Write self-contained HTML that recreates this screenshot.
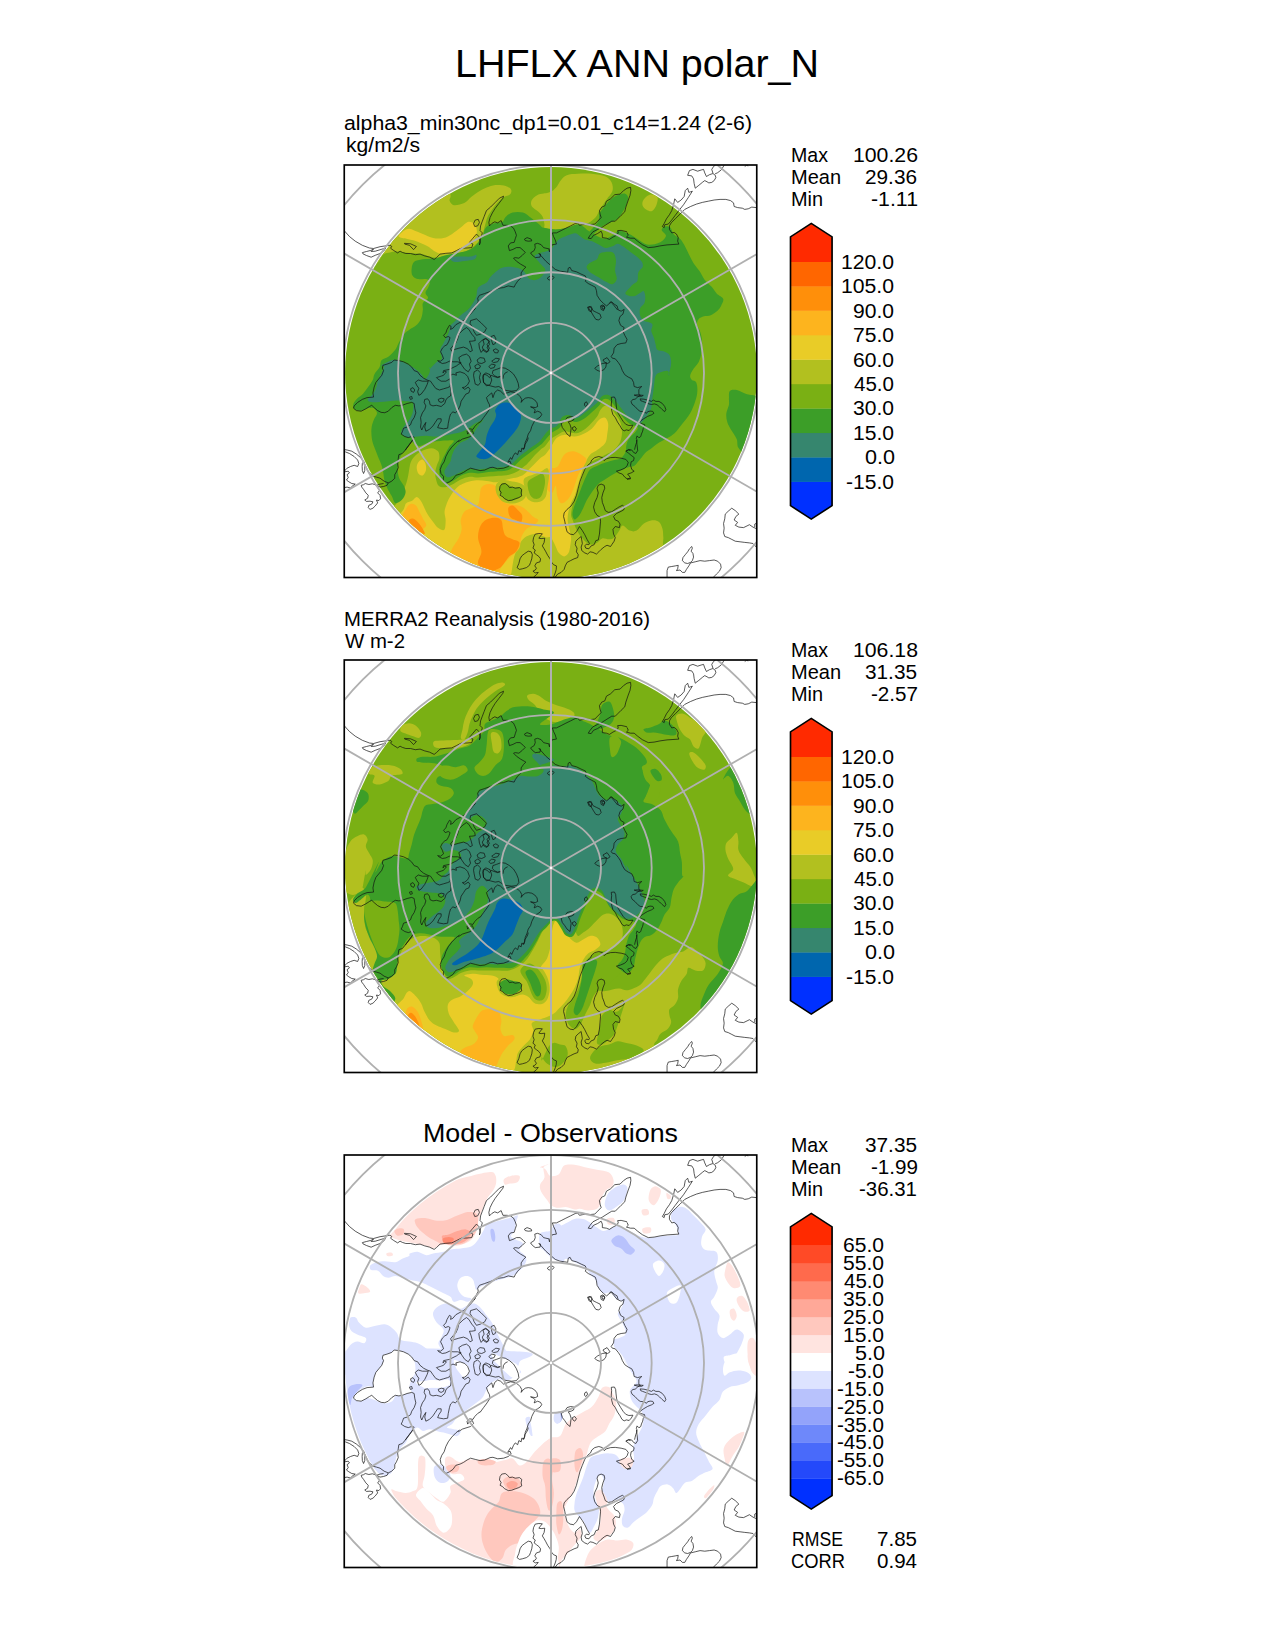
<!DOCTYPE html>
<html><head><meta charset="utf-8"><title>LHFLX ANN polar_N</title>
<style>html,body{margin:0;padding:0;background:#fff}svg{display:block}text{font-family:"Liberation Sans",sans-serif;fill:#000}</style></head><body>
<svg width="1275" height="1650" viewBox="0 0 1275 1650">
<rect width="1275" height="1650" fill="#fff"/>
<defs>
<clipPath id="sq"><rect x="0" y="0" width="412.50" height="412.50"/></clipPath>
<clipPath id="ci"><circle cx="206.75" cy="207.90" r="205.90"/></clipPath>
<g id="grid" fill="none" stroke="#b0b0b0" stroke-width="1.85"><circle cx="206.75" cy="207.90" r="49.96"/><circle cx="206.75" cy="207.90" r="100.68"/><circle cx="206.75" cy="207.90" r="153.00"/><circle cx="206.75" cy="207.90" r="207.83"/><circle cx="206.75" cy="207.90" r="266.27"/><path d="M-70.38 47.90L483.88 367.90" stroke-width="1.8"/><path d="M-70.38 367.90L483.88 47.90" stroke-width="1.8"/><path d="M206.75 -5V420" stroke-width="2"/></g>
<g id="coast" fill="none" stroke="#111" stroke-width="0.7" stroke-linejoin="round"><path d="M-0.1 65.6L5.2 71.5L11.0 76.2L18.1 80.3L25.2 83.0L29.3 83.5L35.8 81.7L40.5 81.0L45.8 80.2L47.5 81.5L46.3 83.2L49.3 85.4L53.4 87.9L55.8 86.2L58.1 87.4L61.6 88.5L66.3 88.5L71.0 89.7L75.8 89.1L80.5 90.9L85.2 92.1L89.9 94.4L92.2 92.6L95.8 89.1L101.6 88.3L107.5 87.9L112.2 85.6L116.9 83.2L122.8 83.0L127.5 82.6L128.7 79.1L125.2 77.4L128.7 73.2L132.2 69.1L134.6 71.5L136.0 77.4L135.2 79.9L136.5 72.6L138.1 67.9L135.8 65.6L136.3 60.9L138.1 56.2L139.9 51.5M18.1 87.6L22.2 86.5L26.6 85.4L29.3 84.1L26.9 86.5L31.0 86.2L36.9 84.4L41.6 83.0L39.3 86.2L35.8 88.5L31.0 90.3L26.9 92.2L22.2 90.5L18.7 88.8ZM60.2 78.3L66.3 78.8L72.2 81.5L69.3 84.6L65.2 80.3L60.5 79.1ZM131.0 55.0L134.0 54.4L135.2 57.4L133.4 60.9L130.5 61.5L129.3 58.5ZM139.9 51.5L142.2 45.6L146.3 42.1L151.0 37.4L155.2 33.2L159.3 31.2L158.7 33.2L154.6 38.5L151.0 43.2L148.1 47.9L145.8 52.6L144.6 57.4L145.2 60.9L147.5 58.5L150.5 56.8L153.4 57.9L156.9 55.6L158.7 60.3L162.8 60.3L166.3 60.9L169.3 63.2L171.0 66.8L172.2 70.3L171.0 73.8L169.9 77.4L166.3 77.9L164.0 80.9L165.2 85.6L168.7 84.4L172.2 82.6L175.8 82.6L179.3 85.6L181.0 87.4L178.1 90.3L174.6 93.2L171.0 92.6L169.3 93.2L172.2 96.2L176.3 99.1L181.6 102.1L179.3 104.4L176.9 107.9L176.9 112.6L173.4 116.2L171.0 119.7L169.9 122.1L164.0 120.9L159.3 122.6L154.6 123.2L149.9 125.0L145.2 126.8L140.5 128.5L135.2 130.3L133.4 133.2L134.0 136.2L132.2 139.7L131.0 143.2L129.9 145.0M180.2 74.1L182.8 72.6L186.9 74.1L187.5 75.9L184.0 76.2L181.0 75.6ZM205.2 86.8L204.6 83.8L201.6 83.2L199.3 82.6L196.9 79.7L193.4 78.3L190.5 79.1L191.0 82.6L189.9 85.6L186.3 87.9L188.1 90.3L191.0 92.6L195.8 92.1L196.3 89.1L194.6 88.5L196.9 90.9L201.6 96.2L206.3 100.3L211.0 104.4L215.8 106.2L220.5 106.8L223.4 107.4L224.0 103.2L225.8 102.3L227.5 105.6L232.2 106.8L236.9 109.1L241.0 110.9L242.2 113.8L241.0 116.2L244.0 118.5L247.5 120.3L251.0 122.1L252.2 125.6L252.8 130.3L255.8 135.0L259.3 138.5L262.2 140.9L264.0 139.7L266.3 136.8L268.7 139.1L271.0 142.1L273.4 145.0M205.2 86.8L206.1 83.2L208.1 79.7L212.2 79.1L211.0 75.0L209.3 71.5L208.1 67.9L212.2 67.9L216.9 65.6L221.6 63.2L226.3 60.9L231.0 58.5L233.4 57.9L235.2 60.3L238.1 59.7L241.6 59.1L246.3 59.5L250.5 59.1L253.4 56.2L256.9 52.6L255.8 49.1L255.2 45.6L257.5 42.1L260.5 40.9L262.2 36.2L266.3 33.8L270.5 29.7L275.8 29.1L279.3 25.6L282.8 23.2L286.3 22.3L286.6 25.6L285.8 30.3L284.0 35.0L281.6 42.1L280.5 46.8L276.9 50.3L273.4 53.8L271.0 56.2L267.5 56.2L262.8 59.1L258.1 62.1L253.4 64.4L248.7 66.8L245.8 70.3L244.0 73.2L246.9 73.6L249.3 70.3L253.4 68.5L256.9 66.2L258.1 69.1L258.1 72.6L262.2 73.2L265.2 74.4L268.7 72.1L272.2 70.3L274.0 67.9L273.4 65.6L276.9 65.4L282.8 66.8M203.0 113.2L205.2 111.5L208.7 111.2L209.9 112.6L207.5 114.8L204.6 115.0ZM243.4 142.1L245.8 141.5L247.5 143.8L246.9 146.8L244.6 145.6ZM256.3 140.9L258.7 139.9L260.5 142.6L259.3 145.6L256.9 144.4ZM282.8 67.4L284.0 70.3L282.2 72.1L286.3 73.2L289.9 73.2L293.4 76.2L298.1 79.7L304.0 82.6L309.9 82.1L315.8 80.9L322.8 79.9L328.7 79.5L334.6 79.1L333.4 76.2L334.0 72.6L332.2 69.1L329.9 67.4L327.5 67.9L325.2 64.4L325.2 60.9L326.9 57.9L331.0 53.8L335.8 49.1L340.5 44.4L346.3 41.5L352.2 39.1L358.1 37.4L364.0 36.2L369.9 35.0L375.8 34.4L381.6 34.4L386.3 35.6L389.3 37.9L389.9 41.5L393.4 42.6L398.1 43.2L400.5 44.4L404.0 43.8L407.5 42.1L412.2 42.6M318.1 61.5L319.9 62.6L320.5 59.7L324.0 59.1L327.5 55.0L331.0 50.3L334.6 45.6L339.3 39.7L344.0 32.6L348.1 26.2L346.3 26.8L344.6 27.4L343.4 23.2L341.0 25.6L339.9 31.5L336.9 35.0L333.4 37.4L330.5 33.8L329.3 39.7L327.5 45.6L325.2 49.7L322.2 53.8L319.9 58.5ZM343.4 10.3L345.2 5.6L348.7 4.4L353.4 6.2L356.9 5.0L359.3 4.4L360.5 7.9L362.2 11.5L365.2 9.7L368.7 8.5L371.0 10.3L371.6 12.6L369.9 15.6L367.5 17.4L364.6 17.9L362.8 16.8L360.5 15.6L358.1 17.4L354.6 20.3L351.0 23.2L349.9 18.5L349.3 13.8L347.5 10.9ZM368.7 8.2L367.5 4.4L369.3 1.5L371.6 -0.3M379.9 0.3L376.9 5.0L373.4 7.7L370.8 8.9M400.5 1.5L402.2 0.3L404.0 0.9M49.9 195.0L47.5 197.4L42.8 199.1L38.7 200.3L38.1 203.2L39.3 205.6L37.5 210.3L34.6 213.8L31.6 217.4L29.9 222.1L28.7 227.9L29.3 232.1L22.8 232.6L18.1 234.4L13.4 237.4L9.9 240.9L9.3 243.2L12.2 245.6L16.9 246.2L21.6 243.8L25.2 241.5L27.5 240.3L29.9 242.6L33.4 245.6L36.9 247.4L40.5 247.7L44.0 246.2L47.5 242.6L51.0 240.3L54.6 240.9L58.1 240.3L62.8 238.5L67.5 237.4L69.9 238.5L70.5 243.2L71.6 247.9L69.9 252.6L67.5 256.2L66.3 259.7L62.8 262.1L59.3 263.2L58.1 266.8L56.9 269.1L60.5 271.5L64.0 272.6L67.5 271.5L69.9 272.1L67.5 276.2L64.0 280.9L61.0 285.0M49.9 195.0L54.6 195.6L59.3 196.8L64.0 199.1L67.5 202.1L69.9 205.6L73.4 206.8L75.8 210.3L79.3 213.2L82.8 215.0L86.3 216.2L88.7 219.7L91.6 223.5L95.2 225.0L99.3 223.8L103.4 222.6L105.8 221.5L106.3 217.4L105.8 213.8L101.6 216.2L96.9 216.2L93.4 213.8L92.2 212.6L95.8 211.5L99.3 210.3L102.2 206.8L100.5 206.2L98.7 207.9L99.3 205.6L105.2 204.4L108.7 202.6L112.2 200.9L114.6 199.1L116.9 197.9L113.4 196.8L108.7 196.8L105.2 196.2L101.6 197.9L98.1 198.5L94.6 196.8L93.4 195.6L96.3 196.2L99.3 193.8L98.1 190.3L96.3 186.8L98.1 183.2L100.5 180.9L102.8 179.7L104.6 176.2L105.8 172.6L104.0 171.5L101.0 172.6L99.3 170.3L101.6 167.9L102.8 164.4L105.2 160.3L106.9 161.5L106.3 164.4L108.7 163.2L111.6 159.7L115.8 157.4L119.3 155.6L122.8 152.6L126.3 149.1L129.3 145.6L132.2 140.9L135.2 137.4L136.9 135.0M71.0 217.4L74.0 215.0L78.1 216.2L84.0 216.2L82.8 219.7L80.5 224.4L76.9 229.1L74.6 230.3L73.4 226.8L74.6 223.2L72.8 220.9ZM66.3 223.8L68.7 222.6L70.5 225.0L69.3 227.4L66.9 226.2ZM65.2 232.1L67.5 231.5L68.1 233.8L66.1 234.4ZM94.0 234.4L96.9 233.2L99.9 233.8L99.3 236.2L96.9 237.4L94.6 236.4ZM106.3 210.3L108.7 209.1L112.2 210.3L111.6 207.9L115.8 206.8L120.5 208.5L123.4 211.5L125.2 216.2L123.4 219.7L120.5 222.1L118.1 222.6L120.5 224.4L124.0 222.1L125.8 224.4L124.6 227.9L121.6 229.1L119.3 232.6L116.9 236.2L115.8 240.9L113.4 245.6L111.0 247.9L108.7 246.8L106.3 249.1L105.2 252.6L104.0 258.5L103.4 263.2L99.3 263.8L95.8 263.2L93.4 262.6L94.6 259.7L96.9 256.2L96.9 253.8L93.4 253.8L91.0 257.4L88.7 260.9L85.2 264.4L81.6 266.2L80.5 262.1L81.6 257.4L79.3 260.9L77.5 265.0L76.3 262.1L76.9 257.4L76.3 252.6L78.1 247.9L80.5 244.4L81.6 240.9L79.9 237.4L80.5 234.4L83.4 233.8L85.2 236.2L85.8 239.7L88.7 240.9L92.2 240.3L96.9 241.5L100.5 238.5L101.6 235.0L103.4 232.6L106.3 230.9L106.9 226.8L106.3 222.1M114.6 169.1L118.7 165.0L122.2 162.6L124.6 164.4L127.5 169.1L130.5 172.6L131.0 175.6L127.5 176.2L125.2 176.2L126.9 180.9L128.1 185.6L125.8 186.8L123.4 183.8L119.3 182.1L114.6 183.2L110.5 184.4L107.5 186.2L106.3 183.8L108.7 180.9L111.6 177.9L113.4 173.8ZM114.6 192.6L118.1 190.3L122.2 189.1L125.2 191.5L126.9 196.2L125.2 199.1L126.3 203.2L124.0 206.8L120.5 204.4L118.1 200.9L115.8 197.4ZM126.3 155.6L132.2 153.8L136.9 157.9L142.2 163.2L140.5 166.8L136.3 169.1L132.2 170.3L129.9 166.8L128.1 162.1L125.8 158.5ZM134.6 178.5L138.1 175.0L141.6 173.2L145.2 176.2L142.8 179.7L145.2 183.2L142.8 186.8L139.3 184.4L136.9 187.4L135.2 183.2ZM132.8 195.0L135.8 192.6L139.9 193.2L141.0 196.8L137.5 198.5L134.0 197.9ZM130.5 200.9L133.4 199.1L136.3 200.9L135.2 203.2L131.6 203.8ZM129.9 206.8L133.4 205.0L136.3 207.9L135.2 212.6L136.3 217.4L134.0 220.3L131.0 219.1L129.9 213.8L129.3 210.3ZM138.7 210.3L141.6 207.9L145.8 209.7L147.5 215.0L145.8 219.7L142.2 220.9L139.3 217.4ZM114.0 276.8L118.1 274.1L122.8 272.6L126.3 271.5L129.3 268.5L128.1 265.6L125.2 266.8L123.4 269.1L122.8 266.2L125.2 263.8L128.7 264.4L130.5 261.5L133.4 258.5L136.0 256.8M148.7 205.6L152.2 204.4L156.9 202.6L161.0 203.2L165.2 205.6L169.3 209.1L172.2 213.8L174.0 218.5L174.6 222.6L172.2 225.6L167.5 226.2L162.8 225.6L159.9 225.0L156.3 222.6L154.6 221.5L151.0 222.1L146.3 220.9L142.2 219.7L139.3 217.4L138.7 212.6L139.9 209.1L142.8 210.3L145.2 212.6L146.9 210.3L149.9 211.5L153.4 212.6L156.3 211.5L153.4 212.1L150.5 210.9L148.1 208.5ZM158.7 213.8L159.3 210.3L161.0 207.9L163.4 206.8M135.8 257.4L139.3 252.6L142.8 247.9L145.8 243.2L145.2 239.7L143.4 236.2L142.2 232.6L144.6 230.3L147.5 227.9L148.7 232.6L150.5 227.4L153.4 225.0L156.3 226.2L159.3 229.1L162.8 227.9L166.3 226.8L169.9 227.4L173.4 229.1L175.8 231.5L177.5 234.4L176.9 237.4L178.7 235.0L181.0 233.2L184.0 232.6L187.5 233.2L190.5 235.0L192.8 237.9L193.4 241.5L191.0 242.6L186.3 241.8L189.3 243.2L191.0 245.0L189.9 247.9L193.4 246.2L196.3 247.4L197.5 249.7L195.8 252.1L193.4 253.8L191.0 255.0L189.3 257.9L187.5 261.5L186.3 265.6L184.0 269.1L182.8 273.2L181.0 277.4L180.5 281.5L178.7 285.0M138.7 175.0L141.6 173.8L144.6 176.2L145.2 179.7L142.8 182.1L144.6 185.6L142.2 187.4L139.3 185.6L138.1 182.1L139.9 179.1ZM146.9 171.5L149.9 170.3L151.6 173.8L151.0 178.5L148.7 179.7L147.5 176.2ZM148.9 185.0L151.6 183.8L154.3 185.6L153.4 187.9L150.5 187.7ZM147.5 196.2L151.6 193.2L155.2 193.8L153.4 196.8L149.3 197.6ZM144.6 201.5L147.5 199.1L151.0 199.9L149.9 202.6L146.3 203.5ZM250.5 203.2L253.4 200.9L258.1 198.5L262.2 197.9L261.6 202.1L259.3 205.0L255.2 206.2L252.2 205.0ZM258.7 195.0L262.8 192.6L265.8 196.8L263.4 198.5L260.5 197.4ZM265.2 138.5L267.5 136.8L269.9 139.1L272.8 140.9L274.0 145.0L276.9 146.2L279.9 144.4L278.7 149.1L275.8 151.5L274.6 155.6L276.3 160.3L279.9 162.6L278.7 166.2L280.5 170.3L282.8 174.4L281.6 177.9L276.9 178.5L272.8 179.7L269.9 183.2L269.3 187.9L266.9 191.5L268.1 193.2L271.0 193.8L274.0 197.4L276.3 200.9L278.1 205.6L280.5 209.7L284.0 212.1L287.5 213.8L289.3 217.4L289.9 221.5L293.4 222.6L297.5 221.5L294.6 224.4L294.6 229.1L296.3 230.9M244.0 142.6L246.9 141.5L248.7 145.6L252.2 147.4L255.8 149.1L256.9 152.6L254.6 155.0L251.6 154.4L249.3 150.9L246.9 146.8ZM257.5 141.5L259.9 140.9L260.5 143.2L258.7 144.4ZM216.9 258.5L220.5 256.2L222.8 252.6L226.3 251.5L229.9 252.1L229.3 255.0L226.9 256.2L224.0 256.8L225.8 259.7L226.9 263.2L226.3 267.9L225.8 271.5L222.8 269.1L220.5 265.6L218.1 262.6ZM228.1 262.6L230.5 261.5L232.2 263.8L230.5 266.2L228.7 265.0ZM240.5 237.9L242.2 236.8L243.4 239.1L241.6 241.5L240.2 240.3ZM267.0 232.3L270.2 232.0L271.4 234.5L271.8 238.9L272.4 243.9L273.9 248.3L276.5 252.7L279.0 256.5L281.5 259.3L284.6 260.5L288.7 260.2L287.1 263.0L284.9 265.5L282.1 264.9L279.9 265.9L277.7 264.3L275.8 260.8L273.3 257.1L271.1 252.7L268.6 249.5L267.4 245.2L267.0 240.1L267.4 235.7ZM289.9 230.1L293.4 229.8L299.0 230.4L297.2 231.4L292.8 231.0ZM295.9 230.4L293.4 232.0L290.9 234.2L288.4 234.5L286.8 236.7L287.8 239.2L290.9 241.7L293.4 244.5L295.9 246.4L299.7 246.7L302.2 248.3L303.4 246.7L305.9 246.1L308.5 246.4L309.7 248.3L307.2 249.9L303.4 251.4L299.7 253.6L296.5 255.8L294.7 257.7L299.0 259.3L300.3 259.6L300.6 261.5L299.0 263.4L298.4 266.2L297.2 269.0L296.5 271.5L294.7 272.8L292.8 270.9L292.1 273.4L292.8 275.0L292.5 277.2L291.5 279.7L290.9 282.2L290.3 284.7M295.9 233.9L299.7 234.2L303.4 235.1L307.2 236.4L309.1 235.1L311.6 236.4L314.7 236.4L317.9 238.3L320.4 241.4L321.6 244.5L320.4 246.7L317.9 244.5L315.4 242.0L312.8 239.8L310.3 238.9L307.2 239.5L304.7 238.9L301.6 237.6L298.4 236.4L296.5 235.7ZM68.7 275.0L65.2 279.7L61.6 284.4L58.1 288.5L54.6 289.7L54.0 293.8L53.4 298.5L54.0 302.6L52.2 306.8L50.5 309.7L50.5 313.2L47.5 316.2L44.0 317.9L39.9 316.2L35.8 313.2L32.2 312.1L28.7 311.2L24.0 306.8L21.0 300.3L19.3 296.2L16.3 292.6L12.2 289.1L7.5 286.2L2.8 285.0L-0.0 284.6M44.0 317.9L42.8 320.3L39.3 321.5L35.8 322.1L32.2 320.3L35.8 319.1L39.3 318.5M18.1 298.5L19.3 296.8L20.5 300.3L20.5 305.6L19.3 308.5L18.1 305.6L17.9 301.5ZM-0.0 306.2L2.8 303.2L6.3 301.5L9.9 300.3L13.4 301.5L14.6 298.5L13.4 295.0L9.9 291.5L5.2 288.5L1.0 286.8M0.5 306.8L4.0 306.2L5.2 307.9L2.8 309.7L4.0 312.6L2.2 315.0L4.6 316.8L7.5 318.5L11.0 319.1L7.5 321.5L6.9 323.2L2.8 322.1L-0.0 322.6M16.9 320.3L19.3 319.7L21.0 318.5L24.6 319.5L28.1 318.8L31.0 319.7L33.4 322.1L35.2 325.6L33.4 327.9L35.8 330.3L36.3 333.8L34.6 335.6L32.2 335.0L33.4 337.9L31.0 340.9L28.7 343.2L25.8 344.4L24.0 342.6L24.6 340.3L27.5 339.1L28.7 336.8L25.8 336.2L22.2 336.4L20.5 335.0L23.4 333.2L24.0 330.3L21.6 327.9L19.3 324.4L17.5 322.1ZM115.2 275.0L111.6 277.9L107.5 282.1L104.0 286.8L101.6 291.5L99.9 296.8L97.5 300.3L96.0 304.4L96.7 308.5L99.3 311.5L99.0 315.6L101.6 318.5L105.2 316.8L108.7 314.4L111.6 310.3L115.8 309.1L119.3 307.4L122.8 305.0L126.3 303.2L131.0 304.4L135.8 305.6L140.5 305.0L145.8 302.6M145.8 302.6L148.7 302.3L153.4 303.8L159.3 303.2L164.0 301.5L166.9 299.1L165.8 296.2L163.4 297.4L166.3 292.6L167.5 294.4L169.3 290.3L171.0 287.9L173.4 289.7L174.6 285.6L176.9 286.8L177.5 283.2L179.9 283.8L180.5 279.7L182.2 277.4L183.4 275.0L184.0 272.6M155.8 321.5L157.5 319.1L161.0 318.5L163.4 320.3L165.2 322.6L168.1 322.1L171.0 323.2L175.2 322.6L177.5 324.4L176.9 327.9L177.5 330.9L174.6 332.6L171.0 333.8L167.5 335.2L164.0 335.6L160.5 333.8L158.1 331.5L155.8 330.3L156.9 327.4L155.2 325.0ZM209.3 412.1L211.0 407.9L212.0 404.4L212.2 400.9L209.3 399.7L207.5 397.4L205.8 393.8L203.4 390.3L201.6 386.8L199.9 383.8L198.1 380.9L199.9 377.4L200.5 373.2L196.9 373.6L194.6 373.2L196.3 370.9L198.1 368.8L194.6 368.5L191.0 369.1L189.3 372.6L188.7 376.2L189.9 379.7L188.7 383.2L191.0 385.0L189.9 387.9L192.2 389.7L194.6 391.5L196.3 393.8L195.8 396.8L192.2 397.9L190.5 400.9L192.2 403.2L191.0 405.0L188.7 406.2L191.0 407.9L194.0 407.4L192.2 409.7L189.3 412.1M172.8 402.6L174.6 398.5L175.8 393.8L177.5 390.9L180.5 388.5L184.0 386.2L186.9 386.8L188.1 389.7L187.5 393.8L186.3 397.4L185.2 400.3L182.2 402.6L178.1 403.8L175.2 404.4ZM285.8 313.2L282.8 313.8L280.5 312.1L278.1 309.1L274.6 307.9L272.2 306.2L276.3 305.0L280.5 303.2L282.8 300.9L284.0 297.4L281.6 294.4L276.9 293.2L271.0 292.4L266.3 292.6L262.2 293.8L259.9 295.6L258.1 292.6L254.6 291.5L250.5 292.6L247.5 295.0L246.3 297.9L243.4 300.3L240.5 304.4L238.1 310.3L235.8 316.2L234.0 323.2L232.2 330.3L229.9 336.2L226.9 340.9L222.8 344.4L219.9 347.9L219.3 351.5L220.5 356.2L221.6 362.1L222.8 366.8L225.8 369.1L229.3 369.7L232.2 366.8L235.2 361.5L238.1 365.6L240.5 369.7L242.8 374.4L245.2 378.5L244.6 379.7L242.2 379.1L240.5 380.9L241.6 383.2L244.6 383.8L246.9 380.9L249.9 379.7L251.6 375.6L254.0 375.0L255.2 369.1L255.8 362.1L256.3 356.2L255.8 352.1L252.8 350.3L250.5 346.8L249.3 342.1L250.5 337.4L252.8 332.6L254.0 327.9L252.8 323.2L254.0 320.3L256.9 319.1L259.9 320.3L260.5 323.2L258.7 327.9L257.5 332.6L258.1 337.4L259.9 342.1L261.0 345.6L264.0 347.4L267.5 346.8L271.0 344.4L274.6 342.1L278.1 340.3L280.5 342.1L279.3 345.0L275.8 346.8L272.2 348.5L269.3 351.5L271.0 355.0L274.0 356.2L275.8 359.1L275.2 362.6L271.0 361.5L268.7 364.4L269.3 369.1L271.0 372.6L269.9 376.2L267.5 379.7L266.3 381.5L262.8 380.3L260.5 381.5L256.9 384.4L254.6 386.8L252.2 389.1L248.7 387.4L245.8 386.8L243.4 389.1L240.5 387.9L237.5 385.6L236.9 382.1L238.1 378.5L237.5 375.0L236.9 371.5L234.0 373.8L231.6 376.2L231.0 379.7L232.8 383.2L232.2 386.8L234.0 389.7L233.4 392.6L229.9 393.8L226.3 395.6L222.8 397.4L221.0 400.9L219.9 404.4L216.9 407.4L213.4 409.1L211.0 412.1M281.6 286.2L284.0 285.0L286.3 285.6M292.2 275.0L292.8 279.7L293.4 285.6L291.6 288.5L289.3 287.4L287.5 285.0L284.6 284.4L281.6 286.2L284.0 287.9L286.9 290.3L289.9 292.6L289.3 295.6L286.9 296.8L286.3 300.3L287.5 304.4L289.9 306.2L286.9 307.9L283.4 309.1L285.8 312.1L286.3 313.8L282.8 314.4M387.5 343.2L391.0 345.6L394.6 349.1L391.6 351.5L389.9 355.0L393.4 357.4L391.0 360.3L394.6 362.1L399.3 362.6L402.8 360.9L405.2 359.7L408.7 362.1L411.0 363.2L412.8 364.4M412.8 357.9L410.5 359.1L410.5 362.1M387.5 343.2L384.0 346.2L381.0 349.1L380.5 353.8L379.3 358.5L379.9 363.2L379.3 367.9L380.5 371.5L384.0 372.6L387.5 374.4L391.0 376.2L395.8 376.8L400.5 377.4L405.2 377.9L408.7 378.5L411.0 380.9L412.8 383.2M322.8 412.1L322.8 405.6L324.0 402.1L327.5 401.5L331.0 400.9L334.0 400.3L333.4 403.8L332.2 405.6L335.8 405.0L338.1 407.4L340.5 407.4L342.2 404.4L344.6 400.9L346.3 397.9L351.0 396.8L355.8 395.6L360.5 396.2L365.2 395.6L369.9 395.0L373.4 396.2L376.3 399.1L376.9 402.6L375.2 406.2L372.2 409.1L369.3 412.1M346.3 397.4L343.4 398.5L340.5 397.9L338.1 395.6L338.7 392.6L341.0 389.7L343.4 386.8L345.2 383.8L347.5 381.5L348.1 383.2L346.9 386.2L348.7 388.5L349.3 392.1L348.1 395.6Z"/></g>
</defs>
<g transform="translate(344.25 165.00)">
<g clip-path="url(#sq)">
<g clip-path="url(#ci)"><rect width="412.50" height="412.50" fill="#7ab014"/>
<path d="M187.3 35.5C188.1 33.7 190.4 31.5 192.5 30.4C194.5 29.2 197.7 29.0 199.4 28.6C201.1 28.3 201.2 28.6 202.7 28.1C204.1 27.7 206.1 27.3 207.8 26.1C209.6 24.9 211.6 22.7 213.0 20.9C214.4 19.1 214.9 17.1 216.5 15.4C218.0 13.6 219.6 11.3 222.5 10.2C225.4 9.1 229.5 9.0 233.7 8.8C237.9 8.6 242.9 8.4 247.5 8.8C252.1 9.2 258.0 10.0 261.3 11.4C264.6 12.8 266.2 15.0 267.4 17.4C268.5 19.9 269.1 23.2 268.2 26.1C267.4 28.9 264.3 31.5 262.2 34.7C260.0 37.8 257.1 42.0 255.3 45.0C253.4 48.1 253.3 50.4 251.0 52.8C248.7 55.2 244.8 58.0 241.5 59.2C238.2 60.3 234.4 59.0 231.1 59.7C227.8 60.4 224.9 62.4 221.6 63.2C218.3 63.9 214.7 64.4 211.3 64.4C207.8 64.4 202.8 64.0 200.9 63.2C199.1 62.3 200.6 61.1 200.2 59.2C199.8 57.3 199.5 54.0 198.5 51.9C197.5 49.9 196.0 48.5 194.2 46.8C192.4 45.0 188.8 43.5 187.6 41.6C186.5 39.7 186.5 37.4 187.3 35.5Z" fill="#b2c01f"/><path d="M30.3 98.5C25.9 97.1 10.1 91.3 13.0 81.3C15.9 71.2 33.1 49.1 47.5 38.1C61.9 27.2 89.5 17.1 99.3 15.7C109.1 14.3 105.2 26.2 106.2 29.5C107.2 32.8 104.7 33.8 105.3 35.5C105.9 37.3 107.2 39.8 109.6 40.2C112.1 40.6 117.1 39.5 120.0 38.1C122.9 36.8 124.6 34.0 126.9 32.1C129.2 30.2 131.2 28.5 133.8 26.9C136.4 25.3 139.5 23.8 142.4 22.6C145.3 21.5 147.9 20.3 151.0 20.0C154.2 19.7 158.8 20.1 161.4 20.9C164.0 21.7 166.2 23.2 166.9 24.7C167.6 26.1 166.9 28.3 165.7 29.5C164.5 30.7 161.7 30.6 159.7 31.9C157.7 33.2 155.6 35.1 153.6 37.3C151.6 39.5 149.3 42.6 147.6 45.0C145.9 47.5 144.4 49.4 143.3 51.9C142.1 54.5 141.5 57.8 140.7 60.6C139.9 63.3 139.6 65.7 138.6 68.3C137.6 70.9 136.2 73.9 134.7 76.1C133.1 78.3 131.2 79.8 129.5 81.3C127.8 82.8 126.5 84.0 124.3 85.1C122.1 86.1 119.3 86.9 116.5 87.7C113.8 88.4 110.8 88.8 107.9 89.4C105.0 89.9 101.9 90.4 99.3 90.9C96.7 91.5 94.7 92.5 92.4 92.7C90.1 92.8 87.8 92.2 85.5 91.6C83.2 91.1 81.2 89.8 78.6 89.2C76.0 88.7 72.8 88.6 69.9 88.3C67.1 88.1 64.2 87.8 61.3 87.5C58.4 87.2 55.3 86.6 52.7 86.6C50.1 86.6 48.1 87.0 45.8 87.5C43.5 88.0 41.5 87.7 38.9 89.6C36.3 91.4 34.6 99.9 30.3 98.5Z" fill="#b2c01f"/><path d="M299.3 34.7C300.6 32.8 303.9 29.9 306.2 29.5C308.5 29.1 312.1 30.4 313.1 32.1C314.1 33.8 313.1 37.6 312.2 39.9C311.4 42.2 309.5 45.0 307.9 45.9C306.3 46.8 304.3 45.9 302.7 45.0C301.1 44.2 299.0 42.5 298.4 40.7C297.8 39.0 298.0 36.6 299.3 34.7Z" fill="#b2c01f"/><path d="M35.4 360.5C33.3 352.0 48.4 343.7 51.8 338.9C55.3 334.1 54.8 333.9 56.1 331.5C57.4 329.1 58.6 326.9 59.6 324.6C60.6 322.3 61.5 320.0 62.2 317.7C62.9 315.4 63.4 313.1 63.9 310.8C64.4 308.4 64.6 305.9 65.1 303.5C65.6 301.2 65.7 298.9 66.8 296.6C67.9 294.4 69.7 291.9 71.7 290.1C73.6 288.2 76.0 286.7 78.6 285.6C81.2 284.4 84.7 283.1 87.2 283.2C89.7 283.3 92.4 284.6 93.8 286.3C95.1 287.9 95.3 290.9 95.1 293.2C95.0 295.5 93.4 297.8 92.7 300.1C92.0 302.4 91.2 304.7 91.0 307.0C90.8 309.3 91.1 311.6 91.7 313.9C92.3 316.2 92.9 319.4 94.4 320.8C96.0 322.2 98.5 322.5 101.0 322.2C103.5 321.8 107.0 320.0 109.6 318.7C112.2 317.4 113.9 315.7 116.5 314.6C119.1 313.4 122.3 312.2 125.2 311.8C128.0 311.5 130.6 312.5 133.8 312.5C137.0 312.5 140.7 311.9 144.1 311.6C147.6 311.4 151.0 311.1 154.5 310.8C157.9 310.5 161.7 310.5 164.8 309.7C168.0 309.0 170.9 307.7 173.5 306.3C176.1 304.9 178.4 302.8 180.4 301.1C182.4 299.4 183.8 297.8 185.6 295.9C187.3 294.1 189.0 291.9 190.7 290.1C192.5 288.2 194.2 286.4 195.9 284.9C197.6 283.4 199.2 282.9 200.9 281.1C202.6 279.3 204.1 276.1 206.1 274.2C208.1 272.3 210.7 271.2 213.0 269.9C215.3 268.6 217.0 266.7 219.9 266.4C222.8 266.1 227.4 268.2 230.3 268.2C233.1 268.2 234.7 267.7 237.2 266.4C239.6 265.1 242.3 262.8 244.9 260.4C247.5 257.9 250.8 254.4 252.7 251.8C254.6 249.2 254.7 246.7 256.1 244.9C257.6 243.0 259.6 240.8 261.3 240.5C263.0 240.3 264.8 241.6 266.5 243.1C268.2 244.7 270.1 247.7 271.7 250.0C273.3 252.3 275.0 254.4 276.0 256.9C277.0 259.5 277.6 262.7 277.7 265.6C277.9 268.4 277.6 271.6 276.8 274.2C276.1 276.8 274.8 279.1 273.4 281.1C272.0 283.1 270.2 284.8 268.2 286.3C266.2 287.7 263.6 288.6 261.3 289.7C259.0 290.9 256.7 292.0 254.4 293.2C252.1 294.3 249.5 295.2 247.5 296.6C245.5 298.1 243.8 299.8 242.3 301.8C240.9 303.8 239.9 306.1 238.9 308.7C237.9 311.3 237.2 314.5 236.3 317.3C235.4 320.2 234.7 323.1 233.7 326.0C232.7 328.8 231.3 331.7 230.3 334.6C229.3 337.5 228.2 340.6 227.7 343.2C227.1 345.8 226.7 348.1 226.8 350.1C227.0 352.1 227.5 352.7 228.5 355.3C229.5 357.9 231.1 362.5 232.8 365.6C234.6 368.8 236.7 372.0 238.9 374.3C241.0 376.6 243.5 378.9 245.8 379.5C248.1 380.0 250.7 378.7 252.7 377.7C254.7 376.7 255.9 374.0 257.9 373.4C259.9 372.8 262.8 374.4 264.8 374.3C266.8 374.1 268.2 374.0 269.9 372.5C271.7 371.1 273.7 367.7 275.1 365.6C276.6 363.6 276.8 360.5 278.6 360.5C280.3 360.5 283.2 364.8 285.5 365.6C287.8 366.5 290.1 366.8 292.4 365.6C294.7 364.5 296.7 360.5 299.3 358.7C301.9 357.0 305.3 355.6 307.9 355.3C310.5 355.0 313.1 355.6 314.8 357.0C316.5 358.5 317.5 361.3 318.3 363.9C319.0 366.5 318.8 369.4 319.1 372.5C319.4 375.7 317.5 380.0 320.0 382.9C322.4 385.8 337.2 382.9 333.8 389.8C330.3 396.7 322.3 417.1 299.3 424.3C276.3 431.5 223.3 432.9 195.8 432.9C168.2 432.9 155.6 431.5 133.8 424.3C112.0 417.1 81.2 400.4 64.8 389.8C48.4 379.2 37.6 369.0 35.4 360.5Z" fill="#b2c01f"/><path d="M54.4 70.9C54.7 69.7 57.9 67.0 59.6 65.7C61.3 64.5 63.0 63.7 64.8 63.7C66.5 63.6 67.6 64.5 69.9 65.4C72.2 66.3 75.4 67.6 78.6 68.9C81.7 70.1 85.5 72.3 88.9 73.0C92.4 73.7 96.1 73.7 99.3 73.0C102.4 72.3 105.0 70.6 107.9 68.9C110.8 67.1 113.9 64.6 116.5 62.6C119.1 60.7 121.3 57.8 123.4 57.1C125.6 56.4 128.0 57.3 129.5 58.5C131.0 59.6 132.0 62.2 132.4 64.0C132.8 65.9 132.7 67.6 132.1 69.5C131.4 71.5 130.1 73.9 128.6 75.6C127.2 77.3 125.4 78.5 123.4 79.9C121.4 81.3 118.8 83.1 116.5 84.2C114.2 85.4 111.9 86.1 109.6 86.8C107.3 87.5 105.0 88.2 102.7 88.5C100.4 88.8 98.0 89.0 95.8 88.5C93.7 88.1 91.8 87.1 89.8 85.9C87.8 84.8 85.9 82.9 83.8 81.6C81.6 80.3 79.1 79.2 76.8 78.2C74.5 77.2 72.2 76.3 69.9 75.6C67.6 74.9 65.1 74.3 63.0 73.9C61.0 73.4 59.3 73.5 57.9 73.0C56.4 72.5 54.1 72.1 54.4 70.9Z" fill="#e9cc27"/><path d="M52.7 363.9C49.0 353.3 58.4 347.5 59.9 343.2C61.5 338.9 60.8 339.3 62.2 338.0C63.6 336.7 66.5 336.5 68.2 335.5C69.9 334.4 71.1 331.9 72.5 332.0C74.0 332.1 75.6 334.4 76.8 336.3C78.1 338.2 79.1 340.9 80.3 343.2C81.4 345.5 82.3 347.8 83.8 350.1C85.2 352.4 87.2 354.9 88.9 357.0C90.7 359.2 92.2 361.8 94.1 363.1C96.0 364.4 98.9 366.1 100.1 364.8C101.3 363.5 101.3 358.3 101.4 355.3C101.4 352.3 100.1 349.5 100.3 346.7C100.5 343.8 101.8 340.6 102.7 338.0C103.7 335.5 104.9 333.3 106.2 331.1C107.5 329.0 109.1 326.8 110.5 325.1C111.9 323.4 113.2 321.9 114.8 320.8C116.4 319.6 118.0 319.0 120.0 318.2C122.0 317.4 124.6 316.4 126.9 316.0C129.2 315.5 131.2 315.3 133.8 315.3C136.4 315.3 139.5 315.6 142.4 316.0C145.3 316.3 148.6 317.3 151.0 317.3C153.5 317.3 154.8 316.5 157.1 316.0C159.4 315.4 162.1 314.5 164.8 313.9C167.6 313.2 171.0 312.9 173.5 312.2C175.9 311.4 177.5 311.0 179.5 309.6C181.5 308.1 183.7 305.4 185.6 303.5C187.4 301.7 189.0 300.1 190.7 298.4C192.5 296.6 194.2 294.6 195.9 293.2C197.6 291.7 199.2 291.5 200.9 289.7C202.6 288.0 204.2 285.6 206.1 282.8C208.0 280.1 209.8 275.5 212.1 273.3C214.4 271.2 216.9 270.2 219.9 269.9C222.9 269.6 227.1 271.8 230.3 271.6C233.4 271.5 236.0 270.3 238.9 269.0C241.8 267.7 244.9 266.1 247.5 263.8C250.1 261.5 252.3 257.1 254.4 255.2C256.6 253.3 258.9 252.1 260.5 252.6C262.0 253.2 263.5 255.9 263.9 258.7C264.3 261.4 263.5 265.9 263.0 269.0C262.6 272.2 262.5 275.3 261.3 277.6C260.2 279.9 257.9 281.4 256.1 282.8C254.4 284.3 252.7 285.1 251.0 286.3C249.2 287.4 247.4 288.0 245.8 289.7C244.2 291.5 242.8 294.0 241.5 296.6C240.2 299.2 239.0 302.4 238.0 305.3C237.0 308.1 236.3 311.0 235.4 313.9C234.6 316.8 233.7 319.6 232.8 322.5C232.0 325.4 231.3 328.5 230.3 331.1C229.3 333.7 227.8 335.5 226.8 338.0C225.8 340.6 224.8 343.8 224.2 346.7C223.6 349.5 223.2 352.4 223.4 355.3C223.5 358.2 224.5 361.0 225.1 363.9C225.7 366.8 226.7 369.7 226.8 372.5C227.0 375.4 226.4 378.6 225.9 381.2C225.5 383.8 225.2 386.4 224.2 388.1C223.2 389.8 221.5 391.5 219.9 391.5C218.3 391.5 216.2 389.8 214.7 388.1C213.3 386.4 212.4 383.5 211.3 381.2C210.1 378.9 209.0 376.3 207.8 374.3C206.7 372.3 205.8 370.5 204.4 369.1C202.9 367.7 197.7 366.2 199.2 365.6C200.7 365.1 211.7 364.8 213.2 365.6C214.6 366.5 209.7 369.7 208.0 370.8C206.3 372.0 204.5 372.5 202.8 372.5C201.1 372.5 199.4 371.4 197.6 370.8C195.9 370.2 194.5 369.2 192.5 369.1C190.4 369.0 187.9 369.1 185.6 370.0C183.3 370.8 180.7 372.1 178.7 374.3C176.6 376.4 174.9 380.0 173.5 382.9C172.0 385.8 170.9 388.7 170.0 391.5C169.2 394.4 168.9 397.1 168.3 400.2C167.7 403.2 168.0 405.6 166.6 409.6C165.1 413.7 173.8 424.7 159.7 424.3C145.6 423.9 99.9 417.1 82.0 407.1C64.2 397.0 56.4 374.6 52.7 363.9Z" fill="#e9cc27"/><path d="M73.4 298.4C74.3 296.9 76.4 294.6 77.7 294.6C79.0 294.6 80.5 296.6 81.2 298.4C81.8 300.1 82.1 303.2 81.7 305.3C81.2 307.3 79.8 309.9 78.6 310.4C77.3 311.0 75.3 309.9 74.3 308.7C73.3 307.6 72.7 305.3 72.5 303.5C72.4 301.8 72.5 299.8 73.4 298.4Z" fill="#e9cc27"/><path d="M57.9 355.3C56.6 350.4 60.7 345.9 62.2 343.2C63.6 340.5 64.9 339.3 66.5 338.9C68.1 338.5 70.2 339.3 71.7 340.6C73.1 341.9 74.0 344.5 75.1 346.7C76.3 348.8 77.4 351.3 78.6 353.6C79.7 355.9 82.3 358.5 82.0 360.5C81.7 362.5 78.9 363.6 76.8 365.6C74.8 367.7 73.1 374.3 69.9 372.5C66.8 370.8 59.2 360.2 57.9 355.3Z" fill="#fdb41e"/><path d="M116.5 355.3C117.0 352.4 118.3 348.7 120.0 346.7C121.7 344.7 124.6 344.4 126.9 343.2C129.2 342.1 132.4 341.8 133.8 339.8C135.2 337.8 134.9 334.0 135.5 331.1C136.1 328.3 135.8 324.5 137.2 322.5C138.7 320.5 141.8 319.3 144.1 319.1C146.4 318.8 149.2 319.6 151.0 320.8C152.9 321.9 154.4 323.9 155.4 326.0C156.4 328.0 156.1 330.8 157.1 332.9C158.1 334.9 159.5 336.9 161.4 338.0C163.3 339.2 165.7 339.2 168.3 339.8C170.9 340.3 174.3 340.3 176.9 341.5C179.5 342.6 181.8 344.9 183.8 346.7C185.8 348.4 187.3 350.4 189.0 351.8C190.7 353.3 194.2 353.9 194.2 355.3C194.2 356.7 191.0 359.0 189.0 360.5C187.0 361.9 184.1 361.9 182.1 363.9C180.1 365.9 178.1 369.4 176.9 372.5C175.8 375.7 176.6 380.0 175.2 382.9C173.8 385.8 170.6 387.5 168.3 389.8C166.0 392.1 163.4 394.4 161.4 396.7C159.4 399.0 157.9 401.0 156.2 403.6C154.5 406.2 157.7 411.7 151.0 412.2C144.4 412.8 124.0 410.8 116.5 407.1C109.1 403.3 106.5 395.6 106.2 389.8C105.9 384.1 112.9 376.9 114.8 372.5C116.7 368.2 117.1 366.8 117.4 363.9C117.7 361.0 116.1 358.2 116.5 355.3Z" fill="#fdb41e"/><path d="M200.2 310.4C201.1 308.1 203.2 305.0 205.4 303.5C207.6 302.1 210.7 304.1 213.2 301.8C215.6 299.5 217.3 292.3 219.9 289.7C222.5 287.1 225.7 286.3 228.5 286.3C231.4 286.3 234.9 288.3 237.2 289.7C239.5 291.2 242.1 292.9 242.3 294.9C242.6 296.9 240.3 299.2 238.9 301.8C237.4 304.4 235.1 307.3 233.7 310.4C232.3 313.6 231.4 317.6 230.3 320.8C229.1 323.9 228.2 326.8 226.8 329.4C225.4 332.0 223.4 334.9 221.6 336.3C219.9 337.8 217.9 338.9 216.5 338.0C215.0 337.2 213.8 334.0 213.0 331.1C212.2 328.3 212.3 321.4 211.4 320.8C210.6 320.2 209.4 327.1 208.0 327.7C206.5 328.3 204.1 326.0 202.8 324.2C201.5 322.5 200.7 319.6 200.2 317.3C199.8 315.0 199.4 312.7 200.2 310.4Z" fill="#fdb41e"/><path d="M64.8 356.2C64.2 354.4 66.8 353.4 68.2 353.6C69.7 353.7 71.7 355.3 73.4 357.0C75.1 358.7 77.4 361.9 78.6 363.9C79.7 365.9 81.4 369.1 80.3 369.1C79.1 369.1 74.3 366.1 71.7 363.9C69.1 361.8 65.3 357.9 64.8 356.2Z" fill="#ff8f0a"/><path d="M133.8 372.5C133.6 368.2 134.9 363.5 136.4 360.5C137.8 357.5 140.0 355.7 142.4 354.4C144.9 353.1 148.6 352.6 151.0 352.7C153.5 352.8 155.8 353.4 157.1 355.3C158.4 357.2 158.1 361.3 158.8 363.9C159.5 366.5 159.8 369.1 161.4 370.8C163.0 372.5 166.0 373.1 168.3 374.3C170.6 375.4 174.6 375.7 175.2 377.7C175.8 379.7 173.5 384.1 171.8 386.4C170.0 388.7 166.9 389.5 164.8 391.5C162.8 393.5 161.4 396.4 159.7 398.4C157.9 400.4 157.4 402.2 154.5 403.6C151.6 405.0 145.9 407.9 142.4 407.1C139.0 406.2 134.7 401.9 133.8 398.4C132.9 395.0 137.2 390.7 137.2 386.4C137.2 382.0 133.9 376.9 133.8 372.5Z" fill="#ff8f0a"/><path d="M164.0 343.2C164.4 341.3 166.7 340.3 168.3 340.6C169.9 340.9 171.9 343.4 173.5 344.9C175.1 346.5 177.2 348.1 177.8 350.1C178.4 352.1 177.9 356.2 176.9 357.0C175.9 357.9 173.6 356.2 171.8 355.3C169.9 354.4 167.0 353.9 165.7 351.8C164.4 349.8 163.6 345.1 164.0 343.2Z" fill="#ff8f0a"/><path d="M152.2 318.9C153.3 317.2 155.5 315.5 157.7 315.0C159.9 314.5 162.7 315.6 165.6 316.1C168.4 316.6 172.4 317.1 175.0 318.1C177.6 319.1 180.1 320.1 181.2 322.1C182.4 324.0 182.5 327.7 182.0 329.9C181.5 332.1 180.3 334.0 178.1 335.4C175.9 336.8 171.8 338.3 168.7 338.5C165.6 338.8 161.8 338.1 159.3 337.0C156.8 335.8 155.1 333.4 153.8 331.5C152.5 329.5 151.7 327.3 151.4 325.2C151.2 323.1 151.2 320.6 152.2 318.9Z" fill="#b2c01f"/><path d="M156.1 320.5C156.9 319.4 158.0 318.3 159.3 318.1C160.6 318.0 162.4 319.1 164.0 319.7C165.6 320.4 166.9 321.7 168.7 322.1C170.5 322.5 173.4 321.5 175.0 322.1C176.5 322.6 177.4 323.9 177.8 325.2C178.2 326.5 178.1 328.5 177.3 329.9C176.6 331.3 175.4 332.8 173.4 333.8C171.4 334.8 167.9 336.0 165.6 335.9C163.2 335.7 160.8 334.3 159.3 333.0C157.7 331.8 156.9 329.8 156.1 328.3C155.4 326.9 154.9 325.7 154.9 324.4C154.9 323.1 155.4 321.5 156.1 320.5Z" fill="#7ab014"/><path d="M179.7 314.2C181.0 311.6 186.2 310.8 189.1 309.5C192.0 308.2 194.6 307.4 196.9 306.4C199.3 305.3 201.9 302.5 203.2 303.2C204.5 304.0 204.8 307.9 204.8 311.1C204.8 314.2 203.7 318.7 203.2 322.1C202.7 325.5 202.7 329.1 201.6 331.5C200.6 333.8 199.0 335.3 196.9 336.2C194.8 337.1 191.4 337.5 189.1 337.0C186.7 336.4 184.1 335.0 182.8 333.0C181.5 331.1 181.8 328.3 181.2 325.2C180.7 322.1 178.4 316.8 179.7 314.2Z" fill="#b2c01f"/><path d="M184.4 315.8C185.8 314.0 189.9 312.3 192.2 311.1C194.6 309.9 197.1 307.9 198.5 308.7C199.9 309.5 200.7 313.0 200.8 315.8C201.0 318.5 200.1 322.5 199.3 325.2C198.5 327.9 197.6 330.8 196.1 332.3C194.7 333.7 192.4 334.2 190.7 333.8C189.0 333.4 187.1 331.9 185.9 329.9C184.8 327.9 183.9 324.4 183.6 322.1C183.3 319.7 182.9 317.6 184.4 315.8Z" fill="#7ab014"/><path d="M195.8 62.3C197.7 62.4 206.7 64.3 211.3 64.4C215.9 64.4 219.8 63.5 223.4 62.6C227.0 61.8 230.3 59.4 232.8 59.2C235.4 59.0 237.0 60.3 238.9 61.4C240.8 62.5 241.8 64.2 244.1 65.7C246.4 67.3 249.8 69.6 252.7 70.9C255.6 72.2 258.4 73.8 261.3 73.5C264.2 73.2 267.6 70.5 269.9 69.2C272.2 67.9 272.5 65.7 275.1 65.7C277.7 65.7 282.6 67.9 285.5 69.2C288.4 70.5 289.5 71.8 292.4 73.5C295.3 75.2 299.0 78.8 302.7 79.5C306.5 80.3 311.6 79.3 314.8 77.8C318.0 76.4 321.3 73.1 321.7 70.9C322.1 68.8 317.5 66.5 317.4 64.9C317.3 63.3 319.4 61.8 320.8 61.4C322.3 61.1 324.6 61.3 326.0 62.6C327.5 63.9 327.9 67.4 329.5 69.2C331.1 71.0 333.8 71.8 335.5 73.5C337.2 75.2 338.5 77.4 339.8 79.5C341.1 81.7 342.1 84.2 343.3 86.5C344.4 88.8 345.6 91.2 346.7 93.4C347.9 95.5 348.7 97.2 350.2 99.4C351.6 101.5 353.6 103.7 355.4 106.3C357.1 108.9 358.5 112.3 360.5 114.9C362.5 117.5 365.4 119.5 367.4 121.8C369.4 124.1 370.7 126.7 372.6 128.7C374.5 130.7 378.3 131.9 379.0 133.9C379.7 135.9 377.8 138.9 376.9 140.8C376.0 142.7 375.2 143.9 373.5 145.5C371.8 147.0 368.9 149.3 366.6 150.3C364.3 151.3 361.7 150.7 359.7 151.3C357.7 152.0 355.6 152.7 354.5 154.1C353.3 155.5 352.5 157.5 352.8 159.8C353.1 162.0 355.4 164.5 356.2 167.5C357.1 170.6 357.8 174.5 357.9 177.9C358.1 181.4 357.7 185.1 357.1 188.3C356.5 191.4 355.8 194.3 354.5 196.9C353.2 199.5 350.8 201.5 349.3 203.8C347.9 206.1 346.2 208.8 345.9 210.7C345.6 212.6 346.6 213.9 347.6 215.0C348.6 216.1 351.0 215.4 351.9 217.3C352.8 219.1 353.3 222.7 353.1 225.9C353.0 229.0 352.3 232.5 351.0 236.2C349.8 240.0 348.0 244.6 345.9 248.3C343.7 252.1 340.7 255.4 338.1 258.7C335.5 262.0 332.9 265.7 330.3 268.2C327.7 270.6 325.2 271.8 322.6 273.3C320.0 274.9 317.3 276.1 314.8 277.6C312.4 279.2 310.1 281.2 307.9 282.8C305.8 284.4 303.6 285.6 301.9 287.1C300.1 288.7 299.1 290.4 297.6 292.3C296.0 294.2 293.7 296.9 292.4 298.4C291.1 299.8 290.9 300.4 289.8 300.9C288.6 301.5 287.6 301.1 285.5 301.8C283.3 302.5 279.4 304.1 276.8 305.3C274.3 306.4 272.2 307.4 269.9 308.7C267.6 310.0 265.3 311.6 263.0 313.0C260.7 314.5 258.2 315.8 256.1 317.3C254.1 318.9 252.5 320.6 251.0 322.5C249.4 324.4 248.1 326.4 246.7 328.5C245.2 330.7 243.6 333.0 242.3 335.5C241.0 337.9 240.2 340.6 238.9 343.2C237.6 345.8 236.0 349.1 234.6 351.0C233.1 352.8 231.3 354.7 230.3 354.4C229.2 354.1 228.2 351.4 228.2 349.3C228.1 347.1 229.1 344.1 229.9 341.5C230.7 338.9 231.8 336.5 232.8 333.7C233.9 331.0 235.3 327.7 236.3 325.1C237.3 322.5 237.9 320.5 238.9 318.2C239.8 315.9 240.8 313.6 242.0 311.3C243.1 309.0 244.0 306.1 245.8 304.4C247.6 302.7 250.1 302.1 252.7 300.9C255.3 299.8 258.6 298.4 261.3 297.5C264.1 296.5 266.5 296.0 269.1 295.2C271.7 294.5 274.8 294.5 276.8 293.2C278.9 291.8 280.3 289.2 281.2 287.1C282.0 285.1 281.7 283.0 282.0 281.1C282.4 279.2 282.6 277.6 283.4 275.9C284.2 274.3 285.5 272.7 286.9 271.1C288.2 269.5 290.5 267.9 291.5 266.4C292.6 264.9 294.2 263.4 293.2 262.1C292.2 260.8 287.8 260.2 285.5 258.7C283.2 257.2 281.3 255.2 279.4 253.1C277.6 251.1 276.0 248.5 274.3 246.2C272.5 243.9 270.8 241.4 269.1 239.3C267.4 237.3 265.6 235.0 263.9 234.2C262.2 233.4 260.3 233.4 258.7 234.5C257.1 235.7 256.7 238.5 254.4 241.1C252.1 243.6 247.8 247.3 244.9 249.7C242.1 252.1 239.6 254.0 237.2 255.2C234.7 256.4 232.4 257.2 230.3 256.9C228.1 256.7 225.9 253.8 224.2 253.5C222.5 253.2 221.4 253.6 219.9 255.2C218.4 256.8 217.0 261.0 215.1 263.0C213.1 265.0 210.2 265.7 208.2 267.3C206.2 268.9 204.8 270.5 203.0 272.5C201.2 274.4 198.7 277.7 197.5 279.0C196.3 280.3 197.0 279.3 195.7 280.2C194.5 281.2 192.0 283.0 189.9 284.5C187.7 286.1 185.3 288.0 183.0 289.7C180.7 291.5 178.4 292.9 176.1 294.9C173.8 296.9 171.5 300.0 169.2 301.8C166.9 303.6 165.3 304.8 162.3 305.6C159.2 306.4 154.4 306.3 151.0 306.6C147.7 306.9 145.3 307.0 142.4 307.3C139.5 307.6 136.7 308.3 133.8 308.4C130.9 308.4 128.0 307.4 125.2 307.8C122.3 308.2 119.0 309.6 116.5 310.8C114.1 311.9 112.7 313.5 110.5 314.7C108.3 316.0 105.5 317.8 103.6 318.2C101.7 318.6 100.3 318.6 98.9 317.3C97.6 316.0 96.1 312.7 95.5 310.4C94.8 308.1 94.6 306.0 95.0 303.5C95.3 301.1 96.5 298.2 97.6 295.8C98.6 293.3 99.8 291.2 101.0 288.9C102.2 286.6 103.4 284.1 104.8 282.0C106.2 279.8 110.0 277.0 109.6 275.9C109.3 274.9 105.0 275.6 102.7 275.6C100.4 275.6 98.1 275.7 95.8 275.9C93.5 276.1 91.2 276.4 88.9 276.8C86.6 277.2 84.3 277.8 82.0 278.5C79.7 279.2 77.1 281.1 75.1 281.1C73.1 281.1 71.2 279.2 69.9 278.5C68.7 277.8 68.7 275.8 67.4 276.8C66.1 277.8 63.9 282.4 62.2 284.5C60.5 286.7 58.4 287.4 57.0 289.7C55.7 292.0 54.6 295.5 54.1 298.4C53.5 301.2 53.4 304.4 53.6 307.0C53.8 309.6 54.3 311.6 55.3 313.9C56.3 316.2 58.6 318.5 59.6 320.8C60.6 323.1 61.6 325.4 61.3 327.7C61.0 330.0 59.3 332.9 57.9 334.6C56.4 336.3 54.0 337.6 52.7 338.0C51.4 338.5 51.0 338.3 50.1 337.2C49.2 336.0 48.7 333.4 47.5 331.1C46.4 328.8 44.4 326.0 43.2 323.4C42.0 320.8 41.0 318.3 40.3 315.6C39.5 312.9 39.4 309.6 38.9 307.0C38.4 304.4 38.0 302.7 37.2 300.1C36.3 297.5 34.9 294.3 33.7 291.5C32.6 288.6 31.3 285.7 30.3 282.8C29.3 279.9 28.2 277.4 27.7 274.2C27.2 271.0 26.9 267.0 27.2 263.8C27.4 260.7 28.4 257.8 29.4 255.2C30.3 252.6 32.8 250.3 32.8 248.3C32.8 246.3 30.8 244.0 29.4 243.1C28.0 242.3 26.4 242.7 24.2 243.1C22.1 243.6 18.8 245.6 16.5 245.7C14.1 245.9 11.1 245.2 9.9 244.0C8.7 242.8 8.7 240.5 9.2 238.8C9.7 237.1 11.4 235.4 13.0 233.6C14.6 231.9 17.2 230.5 19.0 228.5C20.9 226.5 22.6 223.8 24.2 221.6C25.8 219.3 27.5 217.1 28.5 215.0C29.5 212.9 29.1 211.1 30.3 209.0C31.4 206.8 34.3 204.4 35.4 202.1C36.6 199.8 35.7 196.9 37.2 195.2C38.6 193.4 41.8 193.4 44.1 191.7C46.4 190.0 49.2 187.1 51.0 184.8C52.7 182.5 53.0 180.5 54.4 177.9C55.9 175.3 57.9 171.4 59.6 169.3C61.3 167.1 62.8 166.4 64.8 165.0C66.8 163.5 69.7 162.5 71.7 160.6C73.7 158.8 75.7 156.3 76.8 153.7C78.0 151.2 78.3 147.7 78.6 145.1C78.9 142.5 77.7 140.2 78.6 138.2C79.4 136.2 83.3 134.8 83.8 133.0C84.2 131.3 81.2 129.6 81.2 127.9C81.2 126.1 83.0 124.4 83.8 122.7C84.5 121.0 85.8 118.9 85.5 117.5C85.2 116.1 84.0 114.6 82.0 114.1C80.0 113.5 75.7 114.6 73.4 114.1C71.1 113.5 69.2 112.3 68.2 110.6C67.2 108.9 67.1 106.0 67.4 103.7C67.6 101.4 68.1 98.4 69.9 96.8C71.8 95.2 75.1 94.8 78.6 94.2C82.0 93.6 86.6 94.1 90.7 93.4C94.7 92.6 98.4 90.9 102.7 89.9C107.0 88.9 112.5 88.3 116.5 87.3C120.6 86.3 124.0 85.4 126.9 83.9C129.8 82.3 131.8 80.3 133.8 77.8C135.8 75.4 137.8 71.5 139.0 69.2C140.1 66.9 139.8 65.5 140.7 64.0C141.6 62.6 142.4 61.6 144.1 60.6C145.9 59.6 148.7 58.6 151.0 58.0C153.3 57.4 156.2 58.1 157.9 57.1C159.7 56.1 159.7 53.5 161.4 51.9C163.1 50.4 165.4 48.3 168.3 47.6C171.2 46.9 175.8 46.9 178.7 47.6C181.5 48.3 183.0 50.1 185.6 51.9C188.1 53.8 191.9 56.8 194.2 58.8C196.5 60.9 199.1 63.4 199.4 64.0C199.6 64.6 193.8 62.2 195.8 62.3Z" fill="#3c9e28"/><path d="M280.3 28.6C281.7 29.1 283.5 30.2 283.8 32.1C284.0 34.0 282.9 37.4 282.0 39.9C281.2 42.3 280.0 44.5 278.6 46.8C277.1 49.1 275.7 51.8 273.4 53.7C271.1 55.5 267.4 56.7 264.8 58.0C262.2 59.3 260.2 59.8 257.9 61.4C255.6 63.0 253.0 65.7 251.0 67.5C249.0 69.2 246.8 71.8 245.8 71.8C244.8 71.8 244.4 69.1 244.9 67.5C245.5 65.9 247.7 64.3 249.2 62.3C250.8 60.3 253.4 57.7 254.4 55.4C255.4 53.1 254.1 51.1 255.3 48.5C256.4 45.9 259.2 42.5 261.3 39.9C263.5 37.3 265.9 34.7 268.2 33.0C270.5 31.2 273.1 30.2 275.1 29.5C277.1 28.8 278.9 28.2 280.3 28.6Z" fill="#3c9e28"/><path d="M385.6 225.9C386.8 224.6 389.6 224.4 392.5 225.0C395.3 225.6 399.4 228.0 402.8 229.3C406.3 230.6 410.3 229.0 413.2 232.8C416.0 236.5 421.8 242.8 420.1 251.8C418.3 260.7 407.1 281.1 402.8 286.3C398.5 291.5 395.9 284.8 394.2 282.8C392.5 280.8 393.6 277.1 392.5 274.2C391.3 271.3 388.9 268.4 387.3 265.6C385.7 262.7 383.8 259.8 383.0 256.9C382.1 254.1 381.8 251.2 382.1 248.3C382.4 245.4 384.3 242.3 384.7 239.7C385.1 237.1 384.5 235.1 384.7 232.8C384.8 230.5 384.3 227.2 385.6 225.9Z" fill="#3c9e28"/><path d="M195.8 88.2C195.7 87.5 203.2 86.7 206.1 84.7C209.0 82.7 211.0 78.1 213.0 76.1C215.0 74.1 215.3 73.9 218.2 72.6C221.1 71.4 227.4 68.6 230.3 68.3C233.1 68.0 233.7 69.9 235.4 70.9C237.2 71.9 238.6 73.5 240.6 74.4C242.6 75.2 245.2 75.2 247.5 76.1C249.8 77.0 252.1 78.4 254.4 79.5C256.7 80.7 259.0 82.7 261.3 83.0C263.6 83.3 266.2 82.0 268.2 81.3C270.2 80.6 271.7 78.7 273.4 78.7C275.1 78.7 276.6 80.0 278.6 81.3C280.6 82.6 283.2 84.7 285.5 86.5C287.8 88.2 290.4 89.9 292.4 91.6C294.4 93.4 296.5 95.1 297.6 96.8C298.6 98.5 299.0 100.3 298.4 102.0C297.8 103.7 295.0 104.9 294.1 107.2C293.2 109.5 294.1 113.8 293.2 115.8C292.4 117.8 290.2 118.1 288.9 119.2C287.6 120.4 286.8 121.1 285.5 122.7C284.2 124.3 280.6 127.3 281.2 128.7C281.7 130.2 286.5 131.5 288.9 131.3C291.4 131.2 294.1 128.7 295.8 127.9C297.6 127.0 298.4 125.6 299.3 126.1C300.1 126.7 300.9 129.3 301.0 131.3C301.1 133.3 301.0 136.2 300.1 138.2C299.3 140.2 296.5 141.4 295.8 143.4C295.1 145.4 295.3 148.3 295.8 150.3C296.4 152.3 297.3 154.0 299.3 155.5C301.3 156.9 306.6 157.2 307.9 158.9C309.2 160.6 306.8 163.5 307.0 165.8C307.3 168.1 308.9 170.4 309.6 172.7C310.4 175.0 310.8 177.6 311.4 179.6C311.9 181.6 311.6 183.7 313.1 184.8C314.5 186.0 318.0 185.7 320.0 186.5C322.0 187.4 324.0 188.3 325.2 190.0C326.3 191.7 326.7 194.6 326.9 196.9C327.0 199.2 326.5 201.8 326.0 203.8C325.6 205.8 324.4 207.9 324.3 209.0C324.2 210.1 325.3 210.8 325.2 210.4C325.0 209.9 324.9 206.6 323.4 206.0C322.0 205.5 318.5 206.5 316.5 207.2C314.5 208.0 312.5 208.2 311.4 210.7C310.2 213.2 310.2 218.5 309.6 222.4C309.1 226.4 308.4 230.8 307.9 234.5C307.4 238.2 308.0 241.1 306.5 244.5C305.1 248.0 301.3 252.9 299.3 255.2C297.2 257.6 295.8 258.7 294.1 258.7C292.4 258.7 290.9 256.7 288.9 255.2C286.9 253.8 284.0 252.1 282.0 250.0C280.0 248.0 278.6 245.4 276.8 243.1C275.1 240.8 273.7 238.4 271.7 236.2C269.7 234.1 267.1 231.1 264.8 230.2C262.5 229.3 259.9 229.8 257.9 231.1C255.9 232.4 255.3 235.4 252.7 238.0C250.1 240.5 245.2 244.3 242.3 246.6C239.5 248.9 237.4 250.6 235.4 251.8C233.4 252.9 232.0 253.8 230.3 253.5C228.5 253.2 227.1 250.3 225.1 250.0C223.1 249.8 220.2 250.0 218.2 251.8C216.2 253.5 215.0 258.4 213.0 260.4C211.0 262.4 208.1 262.4 206.1 263.8C204.1 265.3 202.7 267.0 200.9 269.0C199.2 271.0 197.7 273.9 195.8 275.9C193.8 277.9 191.3 279.4 189.0 281.1C186.7 282.8 184.4 284.5 182.1 286.3C179.8 288.0 177.5 289.4 175.2 291.5C172.9 293.5 170.6 296.6 168.3 298.4C166.0 300.1 164.3 301.1 161.4 301.8C158.5 302.5 154.2 302.4 151.0 302.7C147.9 303.0 145.3 303.2 142.4 303.5C139.5 303.8 136.7 304.4 133.8 304.4C130.9 304.4 128.0 303.1 125.2 303.5C122.3 304.0 119.1 305.8 116.5 307.0C113.9 308.1 111.9 309.6 109.6 310.4C107.3 311.3 104.3 312.7 102.7 312.2C101.1 311.6 100.1 308.7 100.1 307.0C100.1 305.3 101.7 303.5 102.7 301.8C103.7 300.1 105.3 298.6 106.2 296.6C107.0 294.6 107.0 292.0 107.9 289.7C108.8 287.4 109.9 284.8 111.4 282.8C112.8 280.8 114.5 279.1 116.5 277.6C118.5 276.2 121.4 275.6 123.4 274.2C125.4 272.8 127.2 270.7 128.6 269.0C130.1 267.3 130.9 265.6 132.1 263.8C133.2 262.1 134.4 260.2 135.5 258.7C136.7 257.2 139.8 254.9 139.0 254.9C138.1 254.9 132.9 257.2 130.3 258.7C127.7 260.2 125.7 262.4 123.4 263.8C121.1 265.3 119.1 266.4 116.5 267.3C113.9 268.2 110.8 268.4 107.9 269.0C105.0 269.6 102.2 270.3 99.3 270.7C96.4 271.2 93.5 271.6 90.7 271.6C87.8 271.6 84.9 270.7 82.0 270.7C79.1 270.7 76.3 271.3 73.4 271.6C70.5 271.9 67.2 272.8 64.8 272.5C62.3 272.2 60.0 270.9 58.7 269.9C57.4 268.9 56.7 268.0 57.0 266.4C57.3 264.8 59.2 262.3 60.5 260.4C61.7 258.5 63.5 257.2 64.8 255.2C66.1 253.2 67.5 250.6 68.2 248.3C68.9 246.0 69.1 243.3 69.1 241.4C69.1 239.5 69.5 238.0 68.2 237.1C66.9 236.2 63.9 236.5 61.3 236.2C58.7 235.9 55.6 235.4 52.7 235.4C49.8 235.4 46.9 235.9 44.1 236.2C41.2 236.5 38.3 237.0 35.4 237.1C32.6 237.2 28.8 237.5 26.8 237.1C24.8 236.7 23.1 235.8 23.4 234.5C23.6 233.2 27.1 231.3 28.5 229.3C30.0 227.3 31.1 224.7 32.0 222.4C32.8 220.1 32.8 217.8 33.7 215.5C34.6 213.2 36.2 210.9 37.2 208.6C38.2 206.3 39.8 203.1 39.8 201.7C39.8 200.3 35.9 201.4 37.2 200.3C38.5 199.2 44.4 195.9 47.5 195.2C50.7 194.4 52.7 194.9 56.1 196.0C59.6 197.2 64.8 199.9 68.2 202.1C71.7 204.2 74.8 207.0 76.8 209.0C78.9 210.9 79.3 213.3 80.3 213.8C81.3 214.3 82.0 213.2 82.9 212.1C83.7 210.9 85.0 208.6 85.5 206.9C85.9 205.2 85.5 202.2 85.5 201.7C85.5 201.2 84.3 204.6 85.5 203.8C86.6 203.0 90.4 198.6 92.4 196.9C94.4 195.2 97.0 195.4 97.6 193.4C98.1 191.4 95.5 187.4 95.8 184.8C96.1 182.2 97.8 180.8 99.3 177.9C100.7 175.0 103.3 170.4 104.5 167.5C105.6 164.7 105.3 162.4 106.2 160.6C107.0 158.9 107.9 158.9 109.6 157.2C111.4 155.5 114.2 152.3 116.5 150.3C118.8 148.3 121.4 147.1 123.4 145.1C125.4 143.1 127.2 140.5 128.6 138.2C130.1 135.9 131.2 133.9 132.1 131.3C132.9 128.7 132.1 125.0 133.8 122.7C135.5 120.4 140.4 119.2 142.4 117.5C144.4 115.8 144.4 114.1 145.9 112.3C147.3 110.6 149.0 108.7 151.0 107.2C153.1 105.6 155.1 103.7 157.9 102.8C160.8 102.0 164.8 101.5 168.3 102.0C171.7 102.4 175.8 103.4 178.7 105.4C181.5 107.4 183.0 112.6 185.6 114.1C188.1 115.5 191.6 115.5 194.2 114.1C196.8 112.6 200.8 108.0 201.1 105.4C201.4 102.8 197.6 100.8 195.9 98.5C194.2 96.2 191.0 93.2 190.7 91.6C190.4 90.0 191.6 89.5 194.2 89.0C196.8 88.6 206.0 89.2 206.3 89.0C206.5 88.9 195.8 88.9 195.8 88.2Z" fill="#36866e"/><path d="M256.1 88.2C258.7 87.0 265.6 86.2 268.2 87.3C270.8 88.5 271.2 92.1 271.7 95.1C272.1 98.1 270.7 102.3 270.8 105.4C271.0 108.6 273.0 111.8 272.5 114.1C272.1 116.4 270.1 118.8 268.2 119.2C266.4 119.7 263.6 117.8 261.3 116.6C259.0 115.5 257.0 113.9 254.4 112.3C251.8 110.8 247.8 108.9 245.8 107.2C243.8 105.4 242.3 103.6 242.3 102.0C242.3 100.4 244.1 99.0 245.8 97.7C247.5 96.4 251.0 95.8 252.7 94.2C254.4 92.6 253.6 89.3 256.1 88.2Z" fill="#3c9e28"/><path d="M106.2 92.5C107.3 91.6 113.1 91.8 116.5 91.6C120.0 91.5 124.3 91.9 126.9 91.6C129.5 91.3 131.5 89.5 132.1 89.9C132.6 90.3 132.4 93.2 130.3 94.2C128.3 95.2 123.4 95.5 120.0 95.9C116.5 96.4 111.9 97.4 109.6 96.8C107.3 96.2 105.0 93.4 106.2 92.5Z" fill="#36866e"/><path d="M151.0 244.9C151.8 243.0 153.9 240.0 156.2 238.8C158.5 237.7 162.3 237.2 164.8 238.0C167.4 238.7 169.8 241.1 171.8 243.1C173.7 245.2 176.0 247.5 176.6 250.0C177.2 252.6 176.3 255.8 175.2 258.7C174.1 261.5 171.9 264.7 170.0 267.3C168.2 269.9 166.0 271.9 164.0 274.2C162.0 276.5 160.1 278.8 157.9 281.1C155.8 283.4 153.3 286.0 151.0 288.0C148.7 290.0 146.4 292.2 144.1 293.2C141.8 294.2 139.3 294.3 137.2 294.0C135.2 293.8 132.4 292.7 132.1 291.5C131.8 290.2 134.1 288.3 135.5 286.3C137.0 284.3 139.5 282.0 140.7 279.4C141.8 276.8 141.6 273.6 142.4 270.7C143.3 267.9 144.6 264.7 145.9 262.1C147.2 259.5 149.2 257.2 150.2 255.2C151.2 253.2 151.8 251.8 151.9 250.0C152.1 248.3 150.3 246.7 151.0 244.9Z" fill="#0066ae"/>
</g>
<use href="#coast"/><use href="#grid"/>
<circle cx="206.75" cy="207.90" r="1.3" fill="#fff"/>
</g>
<rect x="0" y="0" width="412.50" height="412.50" fill="none" stroke="#000" stroke-width="1.67"/>
</g>
<g><path d="M790.50 481.61H832.07V505.65L811.28 519.09L790.50 505.65Z" fill="#0030ff"/><rect x="790.50" y="457.18" width="41.57" height="24.74" fill="#0066ae"/><rect x="790.50" y="432.74" width="41.57" height="24.74" fill="#36866e"/><rect x="790.50" y="408.30" width="41.57" height="24.74" fill="#3c9e28"/><rect x="790.50" y="383.87" width="41.57" height="24.74" fill="#7ab014"/><rect x="790.50" y="359.43" width="41.57" height="24.74" fill="#b2c01f"/><rect x="790.50" y="335.00" width="41.57" height="24.74" fill="#e9cc27"/><rect x="790.50" y="310.56" width="41.57" height="24.74" fill="#fdb41e"/><rect x="790.50" y="286.12" width="41.57" height="24.74" fill="#ff8f0a"/><rect x="790.50" y="261.69" width="41.57" height="24.74" fill="#ff6600"/><path d="M790.50 261.99H832.07V237.55L811.28 223.41L790.50 237.55Z" fill="#ff2a00"/><path d="M790.50 236.85L811.28 223.41L832.07 236.85V505.65L811.28 519.09L790.50 505.65Z" fill="none" stroke="#000" stroke-width="1.67" stroke-linejoin="miter"/></g>
<g transform="translate(344.25 660.00)">
<g clip-path="url(#sq)">
<g clip-path="url(#ci)"><rect width="412.50" height="412.50" fill="#7ab014"/>
<path d="M157.9 22.6C159.5 22.8 161.7 23.8 160.5 25.2C159.4 26.6 154.1 29.1 151.0 31.2C148.0 33.4 145.3 35.5 142.4 38.1C139.5 40.7 136.1 43.9 133.8 46.8C131.5 49.6 130.1 52.5 128.6 55.4C127.2 58.3 126.0 61.1 125.2 64.0C124.3 66.9 124.3 70.1 123.4 72.6C122.6 75.2 121.1 78.7 120.0 79.5C118.8 80.4 116.8 79.5 116.5 77.8C116.2 76.1 117.7 72.1 118.3 69.2C118.8 66.3 119.1 63.4 120.0 60.6C120.8 57.7 122.0 54.8 123.4 51.9C124.9 49.1 126.6 46.0 128.6 43.3C130.6 40.6 132.9 38.0 135.5 35.5C138.1 33.1 141.6 30.5 144.1 28.6C146.7 26.8 148.7 25.3 151.0 24.3C153.3 23.3 156.4 22.5 157.9 22.6Z" fill="#b2c01f"/><path d="M89.8 81.3C91.4 80.3 95.4 80.6 99.3 80.4C103.2 80.2 108.8 80.0 113.1 79.9C117.4 79.8 122.9 79.0 125.2 79.5C127.5 80.1 128.3 81.7 126.9 83.0C125.4 84.3 120.0 86.5 116.5 87.3C113.1 88.2 109.6 88.0 106.2 88.2C102.7 88.3 98.6 88.5 95.8 88.2C93.1 87.9 90.8 87.6 89.8 86.5C88.8 85.3 88.2 82.3 89.8 81.3Z" fill="#b2c01f"/><path d="M57.9 65.7C59.3 64.5 62.5 63.2 64.8 63.2C67.1 63.2 69.7 64.2 71.7 65.7C73.7 67.3 76.3 70.6 76.8 72.6C77.4 74.7 76.6 77.2 75.1 77.8C73.7 78.4 70.5 76.8 68.2 76.1C65.9 75.4 63.3 74.4 61.3 73.5C59.3 72.6 56.7 72.2 56.1 70.9C55.6 69.6 56.4 67.0 57.9 65.7Z" fill="#b2c01f"/><path d="M23.4 108.9C24.8 107.4 29.7 106.0 33.7 105.4C37.7 104.9 43.8 104.9 47.5 105.4C51.3 106.0 54.4 107.4 56.1 108.9C57.9 110.3 59.3 112.9 57.9 114.1C56.4 115.2 49.8 114.6 47.5 115.8C45.2 116.9 46.1 119.5 44.1 121.0C42.1 122.4 38.0 124.1 35.4 124.4C32.8 124.7 29.4 124.1 28.5 122.7C27.7 121.2 30.8 117.2 30.3 115.8C29.7 114.3 26.2 115.2 25.1 114.1C23.9 112.9 21.9 110.3 23.4 108.9Z" fill="#b2c01f"/><path d="M183.0 35.5C183.7 34.5 186.8 33.7 189.0 33.8C191.2 34.0 193.9 35.3 195.9 36.4C197.9 37.5 198.7 38.9 200.9 40.2C203.2 41.5 206.7 43.0 209.6 44.2C212.4 45.3 215.3 46.0 218.2 47.1C221.1 48.2 224.8 49.3 226.8 50.6C228.8 51.8 230.1 53.0 230.3 54.5C230.4 56.1 229.4 58.5 227.7 59.7C225.9 60.9 222.9 61.6 219.9 61.9C216.9 62.3 212.4 62.4 209.6 61.9C206.7 61.5 204.7 60.3 202.7 59.2C200.6 58.1 199.5 57.8 197.5 55.4C195.5 53.0 192.9 47.6 190.7 45.0C188.6 42.5 186.0 41.8 184.7 40.2C183.4 38.6 182.2 36.6 183.0 35.5Z" fill="#b2c01f"/><path d="M-0.8 215.0C0.1 209.6 -0.2 199.0 0.9 193.4C2.1 187.8 4.1 184.2 6.1 181.4C8.1 178.5 10.7 177.3 13.0 176.2C15.3 175.0 18.2 173.9 19.9 174.5C21.6 175.0 23.1 177.6 23.4 179.6C23.6 181.6 21.3 184.2 21.6 186.5C21.9 188.8 23.9 191.1 25.1 193.4C26.2 195.7 28.2 197.7 28.5 200.3C28.8 202.9 28.0 206.5 26.8 209.0C25.7 211.4 22.5 214.8 21.6 215.0C20.8 215.2 21.9 209.7 21.6 210.4C21.3 211.0 20.5 216.1 19.9 219.0C19.3 221.9 19.0 225.3 18.2 227.6C17.3 229.9 16.7 231.6 14.7 232.8C12.7 233.9 9.3 235.7 6.1 234.5C2.9 233.4 -3.1 229.1 -4.2 225.9C-5.4 222.6 -1.7 220.4 -0.8 215.0Z" fill="#b2c01f"/><path d="M332.1 55.4C333.1 54.0 336.4 53.1 339.0 53.7C341.6 54.2 344.7 57.1 347.6 58.8C350.5 60.6 353.9 62.0 356.2 64.0C358.5 66.0 361.1 68.6 361.4 70.9C361.7 73.2 359.1 74.9 357.9 77.8C356.8 80.7 355.9 86.7 354.5 88.2C353.1 89.6 350.8 87.9 349.3 86.5C347.9 85.0 347.3 81.3 345.9 79.5C344.4 77.8 342.4 77.8 340.7 76.1C339.0 74.4 336.8 71.5 335.5 69.2C334.2 66.9 333.5 64.6 332.9 62.3C332.4 60.0 331.1 56.8 332.1 55.4Z" fill="#b2c01f"/><path d="M345.0 93.4C345.3 92.1 347.4 91.6 349.3 92.5C351.2 93.4 354.2 96.4 356.2 98.5C358.2 100.7 360.8 103.6 361.4 105.4C362.0 107.3 361.1 109.5 359.7 109.7C358.2 110.0 354.8 108.7 352.8 107.2C350.8 105.6 348.9 102.6 347.6 100.3C346.3 98.0 344.7 94.6 345.0 93.4Z" fill="#b2c01f"/><path d="M382.1 183.1C383.1 181.1 385.6 179.6 387.3 177.9C389.0 176.2 391.3 172.2 392.5 172.7C393.6 173.3 393.9 178.5 394.2 181.4C394.5 184.2 393.3 187.1 394.2 190.0C395.0 192.9 397.3 195.7 399.4 198.6C401.4 201.5 404.5 204.5 406.3 207.2C408.0 210.0 408.8 212.8 409.7 215.0C410.6 217.2 411.7 218.9 411.4 220.7C411.1 222.5 410.0 225.6 408.0 225.9C406.0 226.2 402.2 223.6 399.4 222.4C396.5 221.3 393.3 220.1 390.7 219.0C388.1 217.8 384.1 217.2 383.8 215.5C383.5 213.9 389.0 211.8 389.0 209.0C389.0 206.1 385.1 201.8 383.8 198.6C382.5 195.4 381.5 192.6 381.2 190.0C381.0 187.4 381.1 185.1 382.1 183.1Z" fill="#b2c01f"/><path d="M2.7 251.8C2.7 240.0 10.4 236.8 13.0 232.8C15.6 228.8 16.7 227.3 18.2 227.6C19.6 227.9 21.2 231.6 21.6 234.5C22.1 237.4 21.1 241.1 20.8 244.9C20.5 248.6 19.8 252.9 19.9 256.9C20.1 261.0 20.5 265.6 21.6 269.0C22.8 272.5 25.1 274.2 26.8 277.6C28.5 281.1 30.3 286.6 32.0 289.7C33.7 292.9 34.9 294.6 37.2 296.6C39.5 298.6 43.2 300.7 45.8 301.8C48.4 303.0 51.1 304.4 52.7 303.5C54.3 302.7 54.4 298.9 55.3 296.6C56.1 294.3 56.6 292.0 57.9 289.7C59.2 287.4 61.0 284.8 63.0 282.8C65.1 280.8 67.4 278.8 69.9 277.6C72.5 276.5 75.4 275.9 78.6 275.9C81.7 275.9 86.2 276.5 88.9 277.6C91.7 278.8 93.8 280.5 95.0 282.8C96.1 285.1 95.5 288.6 95.8 291.5C96.1 294.3 96.1 296.9 96.7 300.1C97.3 303.2 98.3 307.3 99.3 310.4C100.3 313.6 101.0 317.9 102.7 319.1C104.5 320.2 107.3 318.3 109.6 317.3C111.9 316.3 113.9 314.2 116.5 313.0C119.1 311.9 122.3 310.9 125.2 310.4C128.0 310.0 130.6 310.4 133.8 310.4C137.0 310.4 140.7 310.4 144.1 310.4C147.6 310.4 151.0 310.4 154.5 310.4C157.9 310.4 161.7 311.0 164.8 310.4C168.0 309.9 170.9 308.4 173.5 307.0C176.1 305.5 178.4 303.8 180.4 301.8C182.4 299.8 183.8 297.5 185.6 294.9C187.3 292.3 189.3 288.9 190.7 286.3C192.2 283.7 193.0 281.7 194.2 279.4C195.3 277.1 196.5 274.8 197.6 272.5C198.8 270.2 199.9 267.9 201.1 265.6C202.2 263.3 203.1 260.7 204.5 258.7C206.0 256.7 207.7 254.1 209.7 253.5C211.7 252.9 214.2 254.6 216.5 255.2C218.7 255.8 221.1 254.6 223.4 256.9C225.7 259.2 228.5 265.9 230.3 269.0C232.0 272.2 232.3 275.3 233.7 275.9C235.1 276.5 237.2 273.6 238.9 272.5C240.6 271.3 242.1 270.7 244.1 269.0C246.1 267.3 248.7 264.4 251.0 262.1C253.3 259.8 255.6 256.7 257.9 255.2C260.2 253.8 262.5 253.2 264.8 253.5C267.1 253.8 269.7 255.2 271.7 256.9C273.7 258.7 275.7 261.3 276.8 263.8C278.0 266.4 278.6 269.6 278.6 272.5C278.6 275.3 278.0 278.8 276.8 281.1C275.7 283.4 273.7 284.8 271.7 286.3C269.7 287.7 267.4 288.9 264.8 289.7C262.2 290.6 258.7 290.7 256.1 291.5C253.6 292.2 251.5 292.6 249.2 294.0C246.9 295.5 244.1 297.6 242.3 300.1C240.6 302.5 239.8 305.5 238.9 308.7C238.0 311.9 238.0 315.6 237.2 319.1C236.3 322.5 235.1 326.2 233.7 329.4C232.3 332.6 230.3 335.2 228.5 338.0C226.8 340.9 224.5 343.8 223.4 346.7C222.2 349.5 221.5 352.4 221.6 355.3C221.8 358.2 222.8 361.6 224.2 363.9C225.7 366.2 228.4 368.8 230.3 369.1C232.1 369.4 234.0 367.4 235.4 365.6C236.9 363.9 237.7 361.0 238.9 358.7C240.0 356.4 241.2 354.1 242.3 351.8C243.5 349.5 244.6 347.5 245.8 344.9C246.9 342.4 247.8 338.6 249.2 336.3C250.7 334.0 252.4 332.0 254.4 331.1C256.4 330.3 259.0 331.4 261.3 331.1C263.6 330.8 265.9 329.8 268.2 329.4C270.5 329.0 272.8 328.4 275.1 328.5C277.4 328.7 279.7 330.3 282.0 330.3C284.3 330.3 286.6 329.4 288.9 328.5C291.2 327.7 293.8 326.7 295.8 325.1C297.8 323.5 299.3 321.2 301.0 319.1C302.7 316.9 304.2 314.7 306.2 312.2C308.2 309.6 310.8 306.0 313.1 303.5C315.4 301.1 317.1 299.2 320.0 297.5C322.9 295.8 327.2 294.2 330.3 293.2C333.5 292.2 336.4 292.5 339.0 291.5C341.6 290.4 343.9 287.4 345.9 287.1C347.9 286.8 349.0 288.1 351.0 289.7C353.1 291.3 356.2 294.3 357.9 296.6C359.7 298.9 361.3 301.2 361.4 303.5C361.5 305.8 360.5 309.3 358.8 310.4C357.1 311.6 353.5 310.9 351.0 310.4C348.6 310.0 345.6 307.3 344.1 307.8C342.7 308.4 343.6 311.7 342.4 313.9C341.3 316.0 338.7 318.2 337.2 320.8C335.8 323.4 334.4 326.5 333.8 329.4C333.2 332.3 334.4 335.5 333.8 338.0C333.2 340.6 331.8 343.1 330.3 344.9C328.9 346.8 326.0 347.5 325.2 349.3C324.3 351.0 324.9 353.1 325.2 355.3C325.4 357.5 327.2 359.9 326.9 362.2C326.6 364.5 325.2 367.2 323.4 369.1C321.7 371.0 318.3 371.7 316.5 373.4C314.8 375.1 314.2 377.3 313.1 379.5C311.9 381.6 309.1 383.2 309.6 386.4C310.2 389.5 324.0 390.7 316.5 398.4C309.1 406.2 284.9 427.2 264.8 432.9C244.6 438.7 217.6 432.9 195.8 432.9C173.9 432.9 158.5 443.0 133.8 432.9C109.1 422.9 67.6 394.1 47.5 372.5C27.4 351.0 20.5 323.7 13.0 303.5C5.5 283.4 2.7 263.6 2.7 251.8Z" fill="#b2c01f"/><path d="M247.5 303.5C249.7 301.5 251.5 300.9 254.4 300.1C257.3 299.2 261.6 298.9 264.8 298.4C267.9 297.8 270.8 295.8 273.4 296.6C276.0 297.5 279.7 300.9 280.3 303.5C280.9 306.1 278.6 309.6 276.8 312.2C275.1 314.7 272.0 317.0 269.9 319.1C267.9 321.1 266.5 322.7 264.8 324.2C263.0 325.8 261.6 327.4 259.6 328.5C257.6 329.7 254.7 329.8 252.7 331.1C250.7 332.4 249.0 334.0 247.5 336.3C246.1 338.6 245.2 342.1 244.1 344.9C242.9 347.8 241.8 350.7 240.6 353.6C239.5 356.4 238.5 360.0 237.2 362.2C235.9 364.4 234.4 366.5 232.8 366.5C231.3 366.5 228.8 364.1 227.7 362.2C226.5 360.3 225.9 357.6 225.9 355.3C225.9 353.0 226.7 351.0 227.7 348.4C228.7 345.8 230.5 342.6 232.0 339.8C233.4 336.9 235.0 334.3 236.3 331.1C237.6 328.0 238.9 323.9 239.8 320.8C240.6 317.6 240.2 315.0 241.5 312.2C242.8 309.3 245.4 305.5 247.5 303.5Z" fill="#7ab014"/><path d="M245.8 398.4C245.5 396.4 247.5 393.5 249.2 391.5C251.0 389.5 253.6 387.5 256.1 386.4C258.7 385.2 261.9 385.5 264.8 384.6C267.6 383.8 270.5 381.5 273.4 381.2C276.3 380.9 278.9 382.2 282.0 382.9C285.2 383.6 289.5 384.3 292.4 385.5C295.3 386.6 298.7 388.2 299.3 389.8C299.9 391.4 298.1 393.5 295.8 395.0C293.5 396.4 289.2 397.6 285.5 398.4C281.7 399.3 277.4 399.4 273.4 400.2C269.4 400.9 265.1 402.2 261.3 402.7C257.6 403.3 253.6 404.3 251.0 403.6C248.4 402.9 246.1 400.4 245.8 398.4Z" fill="#7ab014"/><path d="M257.9 355.3C259.3 353.0 262.5 350.7 264.8 350.1C267.1 349.5 269.7 352.1 271.7 351.8C273.7 351.6 275.4 349.8 276.8 348.4C278.3 347.0 280.3 342.1 280.3 343.2C280.3 344.4 278.0 351.6 276.8 355.3C275.7 359.0 274.5 362.5 273.4 365.6C272.2 368.8 271.4 372.0 269.9 374.3C268.5 376.6 266.8 377.7 264.8 379.5C262.8 381.2 259.9 384.1 257.9 384.6C255.9 385.2 253.3 384.9 252.7 382.9C252.1 380.9 253.8 375.7 254.4 372.5C255.0 369.4 255.6 366.8 256.1 363.9C256.7 361.0 256.4 357.6 257.9 355.3Z" fill="#7ab014"/><path d="M197.6 400.2C198.8 398.7 202.5 389.2 204.5 386.4C206.5 383.5 207.8 383.2 209.7 382.9C211.6 382.6 213.8 384.1 215.8 384.6C217.7 385.2 220.4 384.6 221.6 386.4C222.9 388.1 223.9 392.1 223.4 395.0C222.8 397.9 220.2 401.6 218.2 403.6C216.2 405.6 213.9 407.1 211.3 407.1C208.7 407.1 205.0 405.3 202.7 403.6C200.4 401.9 198.3 398.1 197.5 396.7C196.6 395.3 197.6 394.4 197.6 395.0C197.7 395.6 196.5 401.6 197.6 400.2Z" fill="#7ab014"/><path d="M52.7 355.3C49.0 343.8 57.6 342.1 59.6 338.0C61.6 334.0 62.8 331.4 64.8 331.1C66.8 330.8 69.7 334.3 71.7 336.3C73.7 338.3 75.4 340.6 76.8 343.2C78.3 345.8 78.9 349.0 80.3 351.8C81.7 354.7 83.5 358.2 85.5 360.5C87.5 362.8 89.8 364.2 92.4 365.6C95.0 367.1 98.1 367.9 101.0 369.1C103.9 370.2 107.3 372.3 109.6 372.5C111.9 372.8 114.8 372.5 114.8 370.8C114.8 369.1 111.4 365.1 109.6 362.2C107.9 359.3 105.5 356.4 104.5 353.6C103.4 350.7 103.0 347.2 103.6 344.9C104.2 342.6 105.7 341.2 107.9 339.8C110.1 338.3 113.9 337.8 116.5 336.3C119.1 334.9 121.4 333.2 123.4 331.1C125.4 329.1 128.0 326.2 128.6 324.2C129.2 322.2 128.3 320.5 126.9 319.1C125.4 317.6 120.0 316.5 120.0 315.6C120.0 314.7 124.0 314.0 126.9 313.9C129.8 313.7 133.8 314.5 137.2 314.7C140.7 315.0 144.7 314.9 147.6 315.6C150.5 316.3 153.1 317.0 154.5 319.1C155.9 321.1 155.1 325.1 156.2 327.7C157.4 330.3 159.1 333.2 161.4 334.6C163.7 336.0 167.1 336.3 170.0 336.3C172.9 336.3 176.1 334.3 178.7 334.6C181.2 334.9 183.5 336.6 185.6 338.0C187.6 339.5 188.7 342.6 190.7 343.2C192.7 343.8 195.9 342.9 197.6 341.5C199.4 340.1 200.4 337.2 201.1 334.6C201.8 332.0 202.5 328.5 201.9 326.0C201.4 323.4 198.9 321.4 197.6 319.1C196.3 316.8 194.2 314.5 194.2 312.2C194.2 309.9 196.2 307.6 197.6 305.3C199.1 303.0 201.4 301.5 202.8 298.4C204.2 295.2 205.5 290.0 206.3 286.3C207.0 282.5 206.7 279.4 207.1 275.9C207.6 272.5 208.1 268.2 208.8 265.6C209.6 263.0 210.5 261.4 211.4 260.4C212.4 259.4 213.3 258.1 214.7 259.5C216.1 261.0 218.2 266.0 219.9 269.0C221.6 272.0 223.1 275.3 225.1 277.6C227.1 279.9 229.7 282.5 232.0 282.8C234.3 283.1 236.6 280.5 238.9 279.4C241.2 278.2 243.5 276.2 245.8 275.9C248.1 275.6 251.0 276.2 252.7 277.6C254.4 279.1 256.4 282.5 256.1 284.5C255.9 286.6 253.0 288.3 251.0 289.7C249.0 291.2 246.1 291.5 244.1 293.2C242.1 294.9 240.3 297.5 238.9 300.1C237.4 302.7 236.3 305.5 235.4 308.7C234.6 311.9 234.6 315.9 233.7 319.1C232.8 322.2 231.7 324.8 230.3 327.7C228.8 330.6 226.8 333.7 225.1 336.3C223.4 338.9 221.6 341.2 219.9 343.2C218.2 345.2 216.5 346.7 214.7 348.4C213.0 350.1 211.6 352.1 209.6 353.6C207.5 355.0 204.7 356.2 202.7 357.0C200.6 357.9 199.5 358.0 197.5 358.7C195.5 359.5 192.4 360.5 190.7 361.3C189.0 362.2 187.6 362.3 187.3 363.9C187.0 365.5 189.3 368.2 189.0 370.8C188.7 373.4 187.3 376.9 185.6 379.5C183.8 382.0 180.7 384.1 178.7 386.4C176.6 388.7 174.6 390.7 173.5 393.3C172.3 395.8 172.6 398.7 171.8 401.9C170.9 405.0 171.7 408.5 168.3 412.2C164.8 416.0 165.4 425.2 151.0 424.3C136.7 423.5 98.4 418.6 82.0 407.1C65.6 395.6 56.4 366.8 52.7 355.3Z" fill="#e9cc27"/><path d="M152.8 320.8C153.8 318.9 157.1 317.6 159.7 317.3C162.3 317.0 165.4 318.5 168.3 319.1C171.2 319.6 175.1 319.3 176.9 320.8C178.8 322.2 179.8 325.4 179.5 327.7C179.2 330.0 177.4 333.0 175.2 334.6C173.0 336.2 169.4 337.2 166.6 337.2C163.7 337.2 160.1 336.0 157.9 334.6C155.8 333.2 154.5 330.8 153.6 328.5C152.8 326.2 151.8 322.7 152.8 320.8Z" fill="#b2c01f"/><path d="M156.2 322.5C157.1 321.1 159.4 319.7 161.4 319.4C163.4 319.1 165.9 320.2 168.3 320.8C170.7 321.4 174.6 321.6 176.1 322.9C177.5 324.1 177.6 326.9 176.9 328.5C176.2 330.2 173.8 331.9 171.8 332.9C169.7 333.9 167.0 334.7 164.8 334.6C162.7 334.4 160.3 333.2 158.8 332.0C157.3 330.8 156.3 329.3 155.9 327.7C155.4 326.1 155.3 323.9 156.2 322.5Z" fill="#3c9e28"/><path d="M173.5 310.4C173.8 307.8 176.6 305.3 178.7 303.5C180.7 301.8 183.3 300.1 185.6 300.1C187.9 300.1 190.2 301.8 192.5 303.5C194.8 305.3 197.5 307.8 199.4 310.4C201.2 313.0 202.7 315.9 203.7 319.1C204.7 322.2 205.5 326.0 205.4 329.4C205.3 332.9 204.1 337.3 202.8 339.8C201.5 342.2 199.6 343.5 197.6 344.1C195.6 344.7 192.7 344.2 190.7 343.2C188.7 342.2 186.8 340.1 185.6 338.0C184.3 336.0 183.8 333.4 183.0 331.1C182.1 328.8 181.4 326.2 180.4 324.2C179.4 322.2 178.1 321.4 176.9 319.1C175.8 316.8 173.2 313.0 173.5 310.4Z" fill="#b2c01f"/><path d="M176.1 310.4C176.4 308.6 178.8 306.4 180.4 305.3C182.0 304.1 183.7 303.2 185.6 303.5C187.4 303.8 189.7 305.4 191.6 307.0C193.5 308.6 195.2 310.7 196.8 313.0C198.4 315.3 200.1 318.1 201.1 320.8C202.0 323.5 202.6 326.5 202.5 329.4C202.3 332.3 201.3 336.2 200.2 338.0C199.1 339.9 197.5 340.5 195.9 340.6C194.3 340.8 192.2 340.1 190.7 338.9C189.3 337.8 188.3 335.7 187.3 333.7C186.3 331.7 185.6 329.0 184.7 326.8C183.8 324.7 183.1 322.5 182.1 320.8C181.1 319.1 179.7 318.2 178.7 316.5C177.6 314.7 175.8 312.3 176.1 310.4Z" fill="#7ab014"/><path d="M181.2 312.2C181.5 310.6 184.1 309.6 185.6 309.6C187.0 309.6 188.4 310.6 189.9 312.2C191.3 313.7 193.0 316.6 194.2 319.1C195.3 321.5 196.5 324.2 196.8 326.8C197.1 329.4 196.6 333.0 195.9 334.6C195.2 336.2 193.6 336.9 192.5 336.3C191.3 335.7 190.0 333.2 189.0 331.1C188.0 329.1 187.3 326.2 186.4 324.2C185.6 322.2 184.7 321.1 183.8 319.1C183.0 317.0 181.0 313.7 181.2 312.2Z" fill="#3c9e28"/><path d="M61.3 355.3C61.0 353.0 61.9 349.8 63.0 348.4C64.2 347.0 66.5 346.1 68.2 346.7C69.9 347.2 72.0 349.5 73.4 351.8C74.8 354.1 76.0 357.6 76.8 360.5C77.7 363.3 79.4 368.2 78.6 369.1C77.7 370.0 74.0 366.8 71.7 365.6C69.4 364.5 66.5 363.9 64.8 362.2C63.0 360.5 61.6 357.6 61.3 355.3Z" fill="#fdb41e"/><path d="M63.9 356.2C63.5 354.4 65.3 352.7 66.5 352.7C67.6 352.7 69.5 354.4 70.8 356.2C72.1 357.9 73.5 361.0 74.3 363.1C75.0 365.1 76.0 368.2 75.1 368.2C74.3 368.2 71.0 365.1 69.1 363.1C67.2 361.0 64.3 357.9 63.9 356.2Z" fill="#ff8f0a"/><path d="M128.6 365.6C129.2 363.1 132.1 357.9 133.8 355.3C135.5 352.7 136.7 351.1 139.0 350.1C141.3 349.1 145.0 349.0 147.6 349.3C150.2 349.5 152.9 350.0 154.5 351.8C156.1 353.7 156.8 357.6 157.1 360.5C157.4 363.3 155.8 366.5 156.2 369.1C156.7 371.7 157.7 375.0 159.7 376.0C161.7 377.0 166.6 374.6 168.3 375.1C170.0 375.7 170.9 377.6 170.0 379.5C169.2 381.3 165.1 384.1 163.1 386.4C161.1 388.7 159.4 391.0 157.9 393.3C156.5 395.6 155.6 397.9 154.5 400.2C153.3 402.5 153.1 405.0 151.0 407.1C149.0 409.1 146.4 412.8 142.4 412.2C138.4 411.7 131.2 406.8 126.9 403.6C122.6 400.4 117.7 395.8 116.5 393.3C115.4 390.7 118.0 389.5 120.0 388.1C122.0 386.6 126.3 386.4 128.6 384.6C130.9 382.9 133.5 380.0 133.8 377.7C134.1 375.4 131.2 372.8 130.3 370.8C129.5 368.8 128.0 368.2 128.6 365.6Z" fill="#fdb41e"/><path d="M195.8 64.0C195.1 65.9 202.9 64.8 206.1 64.4C209.3 63.9 211.9 62.4 214.7 61.4C217.6 60.5 220.8 59.2 223.4 58.5C225.9 57.8 228.0 56.8 230.3 57.1C232.6 57.5 234.6 59.4 237.2 60.6C239.7 61.7 242.9 62.6 245.8 64.0C248.7 65.5 251.3 67.3 254.4 69.2C257.6 71.1 261.3 73.8 264.8 75.2C268.2 76.7 271.1 76.1 275.1 77.8C279.1 79.5 285.0 82.9 288.9 85.6C292.8 88.3 296.1 91.5 298.4 94.2C300.7 96.9 302.7 99.5 302.7 102.0C302.7 104.4 298.7 106.0 298.4 108.9C298.1 111.8 299.7 116.4 301.0 119.2C302.3 122.1 305.9 123.5 306.2 126.1C306.5 128.7 303.9 132.2 302.7 134.8C301.6 137.4 298.4 140.1 299.3 141.7C300.1 143.2 305.0 142.8 307.9 144.3C310.8 145.7 314.5 147.8 316.5 150.3C318.5 152.7 318.3 155.5 320.0 158.9C321.7 162.4 324.6 167.3 326.9 171.0C329.2 174.7 332.3 177.6 333.8 181.4C335.3 185.1 335.2 190.0 335.9 193.4C336.5 196.9 337.2 198.5 337.6 202.1C337.9 205.7 337.7 212.6 337.9 215.0C338.2 217.4 339.7 215.2 339.0 216.4C338.3 217.6 335.4 220.3 333.8 222.4C332.2 224.6 330.6 226.7 329.5 229.3C328.4 231.9 327.9 234.9 327.2 238.0C326.6 241.0 326.7 244.7 325.5 247.5C324.4 250.2 321.8 251.9 320.3 254.4C318.9 256.9 318.1 260.0 316.9 262.5C315.7 265.0 314.7 267.3 313.1 269.4C311.4 271.5 309.1 273.8 307.0 275.1C305.0 276.3 302.7 275.8 301.0 276.8C299.3 277.8 298.0 278.9 296.7 281.1C295.4 283.3 294.2 286.8 293.2 289.7C292.3 292.6 291.6 295.8 291.0 298.4C290.4 300.9 290.6 303.1 289.8 305.3C289.0 307.4 287.8 310.0 286.3 311.3C284.9 312.6 282.9 313.3 281.2 313.0C279.4 312.7 277.3 310.9 276.0 309.6C274.7 308.3 273.1 306.8 273.4 305.3C273.7 303.7 276.5 302.1 277.7 300.1C278.9 298.1 279.9 295.8 280.6 293.2C281.4 290.6 281.4 287.4 282.0 284.5C282.7 281.7 283.5 278.4 284.6 275.9C285.8 273.5 287.7 271.9 288.9 269.9C290.2 267.9 292.3 265.4 292.0 263.8C291.7 262.3 289.2 261.5 287.2 260.7C285.2 260.0 282.6 260.5 280.3 259.5C278.0 258.6 275.7 256.7 273.4 254.9C271.1 253.0 268.4 250.6 266.5 248.3C264.6 246.1 263.6 243.7 262.2 241.4C260.8 239.1 259.7 236.2 258.2 234.5C256.7 232.8 254.7 231.4 253.0 231.1C251.4 230.7 249.6 231.4 248.4 232.4C247.1 233.4 246.5 235.2 245.4 237.1C244.4 239.0 243.4 241.6 242.3 244.0C241.2 246.4 240.0 249.0 238.9 251.8C237.7 254.5 236.6 257.2 235.4 260.4C234.3 263.6 233.3 268.0 232.0 270.7C230.7 273.5 229.5 276.0 227.7 276.8C225.9 277.5 223.1 276.7 221.3 275.2C219.5 273.8 218.3 270.5 216.8 268.2C215.3 265.8 213.6 262.4 212.1 261.3C210.6 260.1 209.4 260.4 207.8 261.3C206.3 262.1 204.7 264.7 203.0 266.4C201.3 268.2 199.0 270.3 197.8 271.6C196.6 272.9 196.8 272.6 195.9 274.2C195.0 275.8 193.9 278.5 192.5 281.1C191.0 283.7 189.0 287.1 187.3 289.7C185.6 292.3 184.1 294.3 182.1 296.6C180.1 298.9 177.5 301.7 175.2 303.5C172.9 305.4 170.9 307.1 168.3 307.8C165.7 308.6 162.5 307.8 159.7 307.8C156.8 307.8 153.9 307.9 151.0 307.8C148.2 307.8 145.3 307.3 142.4 307.3C139.5 307.3 136.7 307.8 133.8 307.8C130.9 307.8 128.0 306.9 125.2 307.3C122.3 307.8 119.1 309.2 116.5 310.4C113.9 311.7 111.8 313.7 109.6 314.7C107.5 315.8 105.3 316.9 103.6 316.5C101.9 316.0 100.4 314.0 99.3 312.2C98.1 310.3 97.0 307.8 96.7 305.3C96.4 302.7 96.8 299.2 97.6 296.6C98.3 294.0 99.6 292.0 101.0 289.7C102.4 287.4 104.6 284.8 106.2 282.8C107.8 280.8 110.8 278.7 110.5 277.6C110.2 276.6 106.6 276.9 104.5 276.8C102.3 276.6 99.9 276.9 97.6 276.8C95.3 276.6 93.0 276.4 90.7 275.9C88.4 275.5 86.1 274.6 83.8 274.2C81.4 273.8 79.1 273.3 76.8 273.3C74.5 273.3 72.0 273.5 69.9 274.2C67.9 274.9 66.5 275.9 64.8 277.6C63.0 279.4 61.2 282.2 59.6 284.5C58.0 286.8 56.3 288.9 55.3 291.5C54.3 294.0 54.0 297.2 53.6 300.1C53.1 303.0 53.1 306.4 52.7 308.7C52.3 311.0 52.4 312.2 51.0 313.9C49.5 315.6 46.4 317.9 44.1 319.1C41.8 320.2 38.0 319.6 37.2 320.8C36.3 321.9 37.4 324.2 38.9 326.0C40.3 327.7 43.8 329.1 45.8 331.1C47.8 333.2 50.7 336.0 51.0 338.0C51.3 340.1 49.2 343.8 47.5 343.2C45.8 342.6 42.9 337.8 40.6 334.6C38.3 331.4 35.4 327.1 33.7 324.2C32.0 321.4 31.1 319.6 30.3 317.3C29.4 315.0 28.5 312.7 28.5 310.4C28.5 308.1 29.5 305.8 30.3 303.5C31.0 301.2 32.8 299.2 32.8 296.6C32.8 294.0 31.6 291.2 30.3 288.0C29.0 284.8 26.5 281.1 25.1 277.6C23.6 274.2 22.5 270.7 21.6 267.3C20.8 263.8 19.9 260.4 19.9 256.9C19.9 253.5 20.6 249.5 21.6 246.6C22.6 243.7 25.7 241.7 25.9 239.7C26.2 237.7 24.9 234.5 23.4 234.5C21.8 234.5 18.5 238.2 16.5 239.7C14.4 241.1 12.6 243.1 11.3 243.1C10.0 243.1 8.4 241.3 8.7 239.7C9.0 238.1 11.1 235.4 13.0 233.6C14.9 231.9 18.0 231.2 19.9 229.3C21.8 227.5 22.9 224.7 24.2 222.4C25.5 220.1 26.5 217.8 27.7 215.5C28.8 213.2 30.0 210.9 31.1 208.6C32.3 206.3 34.6 201.1 34.6 201.7C34.6 202.4 31.0 211.8 31.1 212.4C31.2 213.0 33.8 207.5 35.1 205.5C36.4 203.5 36.8 201.9 38.9 200.3C41.0 198.8 44.9 196.6 47.5 196.0C50.1 195.4 51.8 196.5 54.4 196.9C57.0 197.3 61.3 199.2 63.0 198.6C64.8 198.0 64.1 195.7 64.8 193.4C65.5 191.1 66.5 188.0 67.4 184.8C68.2 181.6 68.9 177.6 69.9 174.5C71.0 171.3 72.2 168.7 73.4 165.8C74.5 162.9 76.0 159.8 76.8 157.2C77.7 154.6 77.7 152.3 78.6 150.3C79.4 148.3 79.7 146.3 82.0 145.1C84.3 144.0 89.5 144.0 92.4 143.4C95.3 142.8 97.0 142.5 99.3 141.7C101.6 140.8 104.5 139.7 106.2 138.2C107.9 136.8 109.6 134.8 109.6 133.0C109.6 131.3 108.2 129.0 106.2 127.9C104.2 126.7 99.9 127.0 97.6 126.1C95.3 125.3 93.1 124.1 92.4 122.7C91.7 121.2 92.1 118.9 93.2 117.5C94.4 116.1 98.3 115.8 99.3 114.1C100.3 112.3 100.4 108.9 99.3 107.2C98.1 105.4 95.3 104.4 92.4 103.7C89.5 103.0 85.2 103.1 82.0 102.8C78.9 102.6 75.0 102.7 73.4 102.0C71.8 101.3 71.7 99.4 72.5 98.5C73.4 97.7 75.8 97.1 78.6 96.8C81.3 96.5 85.5 97.2 88.9 96.8C92.4 96.4 96.1 95.1 99.3 94.2C102.4 93.4 105.0 92.6 107.9 91.6C110.8 90.6 113.9 89.0 116.5 88.2C119.1 87.3 121.4 87.3 123.4 86.5C125.4 85.6 126.9 84.4 128.6 83.0C130.3 81.6 131.9 79.8 133.8 77.8C135.7 75.8 138.7 73.2 139.8 70.9C141.0 68.6 139.4 65.7 140.7 64.0C142.0 62.3 145.0 61.9 147.6 60.6C150.2 59.3 153.8 57.8 156.2 56.3C158.7 54.7 160.0 52.6 162.3 51.1C164.6 49.6 166.1 47.9 170.0 47.1C173.9 46.3 180.7 46.0 185.6 46.4C190.4 46.8 195.3 48.3 199.4 49.4C203.4 50.4 210.3 50.4 209.7 52.8C209.1 55.2 196.4 62.1 195.8 64.0Z" fill="#3c9e28"/><path d="M144.1 70.9C145.6 68.3 148.7 68.9 151.0 69.2C153.3 69.5 156.5 70.1 157.9 72.6C159.4 75.2 159.7 80.4 159.7 84.7C159.7 89.0 159.4 95.1 157.9 98.5C156.5 102.0 153.3 102.8 151.0 105.4C148.7 108.0 146.4 112.3 144.1 114.1C141.8 115.8 139.3 116.1 137.2 115.8C135.2 115.5 133.2 113.8 132.1 112.3C130.9 110.9 129.8 108.9 130.3 107.2C130.9 105.4 133.8 104.0 135.5 102.0C137.2 100.0 139.5 98.0 140.7 95.1C141.8 92.2 141.8 88.8 142.4 84.7C143.0 80.7 142.7 73.5 144.1 70.9Z" fill="#7ab014"/><path d="M146.7 73.5C147.4 71.8 150.3 71.9 151.9 72.6C153.5 73.4 155.4 75.2 156.2 77.8C157.1 80.4 157.5 85.6 157.1 88.2C156.7 90.8 154.9 92.8 153.6 93.4C152.3 93.9 150.3 93.4 149.3 91.6C148.3 89.9 148.0 86.0 147.6 83.0C147.2 80.0 146.0 75.2 146.7 73.5Z" fill="#b2c01f"/><path d="M94.1 107.2C95.3 105.4 99.9 105.4 102.7 105.4C105.6 105.4 108.5 107.2 111.4 107.2C114.2 107.2 118.0 104.9 120.0 105.4C122.0 106.0 124.0 108.9 123.4 110.6C122.9 112.3 118.8 114.3 116.5 115.8C114.2 117.2 111.9 118.7 109.6 119.2C107.3 119.8 105.0 119.8 102.7 119.2C100.4 118.7 97.3 117.8 95.8 115.8C94.4 113.8 93.0 108.9 94.1 107.2Z" fill="#7ab014"/><path d="M265.6 77.8C266.6 75.8 269.8 75.5 271.7 76.1C273.5 76.7 276.3 79.3 276.8 81.3C277.4 83.3 276.0 85.9 275.1 88.2C274.3 90.5 273.0 93.6 271.7 95.1C270.4 96.5 268.4 98.0 267.4 96.8C266.4 95.7 265.9 91.3 265.6 88.2C265.3 85.0 264.6 79.8 265.6 77.8Z" fill="#7ab014"/><path d="M297.6 107.2C298.1 105.1 303.3 103.7 306.2 103.7C309.1 103.7 312.5 105.1 314.8 107.2C317.1 109.2 319.7 112.6 320.0 115.8C320.3 118.9 317.4 122.7 316.5 126.1C315.7 129.6 316.2 133.9 314.8 136.5C313.4 139.1 310.2 141.1 307.9 141.7C305.6 142.2 301.7 141.7 301.0 139.9C300.3 138.2 302.7 134.2 303.6 131.3C304.5 128.4 306.3 125.3 306.2 122.7C306.0 120.1 304.2 118.4 302.7 115.8C301.3 113.2 297.0 109.2 297.6 107.2Z" fill="#7ab014"/><path d="M306.2 110.6C306.6 109.3 309.6 108.3 311.4 108.9C313.1 109.5 315.5 112.2 316.5 114.1C317.5 115.9 318.0 118.9 317.4 120.1C316.8 121.2 314.5 121.5 313.1 121.0C311.6 120.4 309.9 118.4 308.8 116.6C307.6 114.9 305.7 111.9 306.2 110.6Z" fill="#3c9e28"/><path d="M21.6 243.1C23.4 241.8 27.1 240.8 30.3 240.5C33.4 240.3 37.2 241.0 40.6 241.4C44.1 241.8 48.8 241.4 51.0 243.1C53.1 244.9 53.0 248.9 53.6 251.8C54.1 254.6 54.1 257.5 54.4 260.4C54.7 263.3 55.3 266.1 55.3 269.0C55.3 271.9 54.8 274.8 54.4 277.6C54.0 280.5 53.6 283.7 52.7 286.3C51.8 288.9 50.7 291.3 49.2 293.2C47.8 295.0 46.1 296.9 44.1 297.5C42.1 298.1 39.2 297.9 37.2 296.6C35.1 295.3 33.7 292.9 32.0 289.7C30.3 286.6 28.2 281.4 26.8 277.6C25.4 273.9 24.4 270.7 23.4 267.3C22.4 263.8 21.3 260.1 20.8 256.9C20.2 253.8 19.8 250.6 19.9 248.3C20.1 246.0 19.9 244.4 21.6 243.1Z" fill="#7ab014"/><path d="M238.9 303.5C240.2 301.4 243.5 299.6 245.8 299.2C248.1 298.8 251.8 299.1 252.7 300.9C253.6 302.8 251.8 307.1 251.0 310.4C250.1 313.7 248.7 317.3 247.5 320.8C246.4 324.2 245.2 327.7 244.1 331.1C242.9 334.6 241.8 338.3 240.6 341.5C239.5 344.7 238.5 347.8 237.2 350.1C235.9 352.4 234.1 355.0 232.8 355.3C231.6 355.6 229.7 353.9 229.4 351.8C229.1 349.8 230.3 346.4 231.1 343.2C232.0 340.1 233.6 336.6 234.6 332.9C235.6 329.1 236.6 324.2 237.2 320.8C237.7 317.3 237.7 315.0 238.0 312.2C238.3 309.3 237.6 305.7 238.9 303.5Z" fill="#3c9e28"/><path d="M10.4 133.0C11.9 130.2 14.3 129.6 16.5 129.6C18.6 129.6 22.1 131.3 23.4 133.0C24.7 134.8 24.8 137.9 24.2 139.9C23.6 142.0 21.5 143.4 19.9 145.1C18.3 146.8 16.3 148.9 14.7 150.3C13.1 151.7 11.6 154.3 10.4 153.7C9.3 153.2 7.8 150.3 7.8 146.8C7.8 143.4 9.0 135.9 10.4 133.0Z" fill="#3c9e28"/><path d="M299.3 69.2C299.9 68.3 303.6 68.3 306.2 67.5C308.8 66.6 312.5 65.2 314.8 64.0C317.1 62.9 318.0 60.6 320.0 60.6C322.0 60.6 324.9 62.3 326.9 64.0C328.9 65.7 331.5 69.1 332.1 70.9C332.6 72.8 332.4 74.7 330.3 75.2C328.3 75.8 323.4 74.8 320.0 74.4C316.5 73.9 312.5 72.9 309.6 72.6C306.8 72.4 304.5 73.2 302.7 72.6C301.0 72.1 298.7 70.1 299.3 69.2Z" fill="#3c9e28"/><path d="M257.9 45.0C259.3 43.0 263.0 41.3 264.8 41.6C266.5 41.9 267.4 44.2 268.2 46.8C269.1 49.4 270.2 54.2 269.9 57.1C269.7 60.0 268.2 62.3 266.5 64.0C264.8 65.7 262.2 66.3 259.6 67.5C257.0 68.6 253.0 70.6 251.0 70.9C249.0 71.2 247.2 70.6 247.5 69.2C247.8 67.8 251.3 64.9 252.7 62.3C254.1 59.7 255.3 56.5 256.1 53.7C257.0 50.8 256.4 47.1 257.9 45.0Z" fill="#3c9e28"/><path d="M378.7 119.2C377.8 121.0 382.1 115.2 383.8 115.8C385.6 116.4 387.9 119.8 389.0 122.7C390.2 125.6 389.6 129.9 390.7 133.0C391.9 136.2 394.2 138.8 395.9 141.7C397.6 144.5 399.1 147.7 401.1 150.3C403.1 152.9 406.0 154.3 408.0 157.2C410.0 160.1 411.1 168.7 413.2 167.5C415.2 166.4 421.8 158.9 420.1 150.3C418.3 141.7 408.0 123.3 402.8 115.8C397.6 108.3 393.0 104.9 389.0 105.4C385.0 106.0 379.5 117.5 378.7 119.2Z" fill="#3c9e28"/><path d="M420.1 217.3C418.6 208.1 407.1 228.2 402.8 231.1C398.5 233.9 396.8 232.8 394.2 234.5C391.6 236.2 389.3 238.5 387.3 241.4C385.3 244.3 383.5 248.3 382.1 251.8C380.7 255.2 379.8 258.7 378.7 262.1C377.5 265.6 376.1 268.4 375.2 272.5C374.3 276.5 373.5 282.2 373.5 286.3C373.5 290.3 374.3 293.8 375.2 296.6C376.1 299.5 378.9 300.7 378.7 303.5C378.4 306.4 375.8 310.4 373.5 313.9C371.2 317.3 367.1 320.8 364.8 324.2C362.5 327.7 361.1 330.8 359.7 334.6C358.2 338.3 355.9 343.2 356.2 346.7C356.5 350.1 356.5 358.2 361.4 355.3C366.3 352.4 377.2 340.9 385.6 329.4C393.9 317.9 405.7 305.0 411.4 286.3C417.2 267.6 421.5 226.5 420.1 217.3Z" fill="#3c9e28"/><path d="M195.8 105.4C194.6 106.6 200.4 107.2 202.7 107.2C205.0 107.2 207.3 105.4 209.6 105.4C211.9 105.4 213.9 107.2 216.5 107.2C219.0 107.2 222.8 105.4 225.1 105.4C227.4 105.4 228.2 106.3 230.3 107.2C232.3 108.0 235.1 109.2 237.2 110.6C239.2 112.0 240.6 114.1 242.3 115.8C244.1 117.5 246.1 118.9 247.5 121.0C249.0 123.0 249.8 125.6 251.0 127.9C252.1 130.2 252.7 132.8 254.4 134.8C256.1 136.8 259.0 139.4 261.3 139.9C263.6 140.5 266.2 137.9 268.2 138.2C270.2 138.5 271.7 140.2 273.4 141.7C275.1 143.1 278.0 144.8 278.6 146.8C279.1 148.9 277.7 151.7 276.8 153.7C276.0 155.8 273.4 156.9 273.4 158.9C273.4 160.9 275.7 163.5 276.8 165.8C278.0 168.1 280.0 170.4 280.3 172.7C280.6 175.0 279.7 177.6 278.6 179.6C277.4 181.6 274.5 182.8 273.4 184.8C272.2 186.8 271.1 189.4 271.7 191.7C272.2 194.0 275.4 196.3 276.8 198.6C278.3 200.9 279.1 203.2 280.3 205.5C281.4 207.8 283.5 212.5 283.8 212.4C284.0 212.4 281.4 204.9 282.0 205.2C282.6 205.4 285.5 210.9 287.2 213.8C288.9 216.7 290.9 219.8 292.4 222.4C293.8 225.0 294.7 226.7 295.8 229.3C297.0 231.9 298.4 235.4 299.3 238.0C300.1 240.5 301.3 242.8 301.0 244.9C300.7 246.9 299.0 248.3 297.6 250.0C296.1 251.8 294.4 253.8 292.4 255.2C290.4 256.7 287.8 258.4 285.5 258.7C283.2 259.0 280.9 258.1 278.6 256.9C276.3 255.8 274.0 253.8 271.7 251.8C269.4 249.8 266.5 247.2 264.8 244.9C263.0 242.6 262.5 240.3 261.3 238.0C260.2 235.7 259.3 232.8 257.9 231.1C256.4 229.3 254.4 227.9 252.7 227.6C251.0 227.3 249.0 228.2 247.5 229.3C246.1 230.5 245.2 232.5 244.1 234.5C242.9 236.5 241.8 238.8 240.6 241.4C239.5 244.0 238.3 247.2 237.2 250.0C236.0 252.9 234.9 255.5 233.7 258.7C232.6 261.8 231.4 266.4 230.3 269.0C229.1 271.6 228.2 273.6 226.8 274.2C225.4 274.8 223.1 273.9 221.6 272.5C220.2 271.0 219.6 267.9 218.2 265.6C216.7 263.3 214.7 259.8 213.0 258.7C211.3 257.5 209.6 257.8 207.8 258.7C206.1 259.5 204.4 262.1 202.7 263.8C200.9 265.6 199.2 267.0 197.5 269.0C195.8 271.0 194.2 273.3 192.5 275.9C190.8 278.5 189.0 282.0 187.3 284.5C185.6 287.1 184.1 289.2 182.1 291.5C180.1 293.8 177.5 296.5 175.2 298.4C172.9 300.2 170.9 301.8 168.3 302.7C165.7 303.5 162.5 303.2 159.7 303.5C156.8 303.8 153.6 304.4 151.0 304.4C148.5 304.4 146.4 303.5 144.1 303.5C141.8 303.5 139.5 304.4 137.2 304.4C134.9 304.4 132.6 303.5 130.3 303.5C128.0 303.5 125.7 303.7 123.4 304.4C121.1 305.1 118.8 306.7 116.5 307.8C114.2 309.0 111.6 310.6 109.6 311.3C107.6 312.0 105.9 312.7 104.5 312.2C103.0 311.6 101.1 309.6 101.0 307.8C100.9 306.1 102.4 303.7 103.6 301.8C104.7 299.9 106.3 298.4 107.9 296.6C109.5 294.9 111.6 293.2 113.1 291.5C114.5 289.7 116.2 288.0 116.5 286.3C116.8 284.5 114.2 282.8 114.8 281.1C115.4 279.4 118.0 277.6 120.0 275.9C122.0 274.2 124.9 272.5 126.9 270.7C128.9 269.0 130.6 267.6 132.1 265.6C133.5 263.6 134.4 261.0 135.5 258.7C136.7 256.4 137.8 254.1 139.0 251.8C140.1 249.5 141.6 247.5 142.4 244.9C143.3 242.3 144.1 238.8 144.1 236.2C144.1 233.6 143.6 231.1 142.4 229.3C141.3 227.6 139.0 225.6 137.2 225.9C135.5 226.2 133.2 228.8 132.1 231.1C130.9 233.4 131.2 236.8 130.3 239.7C129.5 242.6 128.3 245.7 126.9 248.3C125.4 250.9 123.4 253.2 121.7 255.2C120.0 257.2 118.8 259.0 116.5 260.4C114.2 261.8 110.8 262.8 107.9 263.8C105.0 264.8 102.2 265.7 99.3 266.4C96.4 267.2 93.2 268.0 90.7 268.2C88.1 268.3 85.2 268.3 83.8 267.3C82.3 266.3 81.4 263.8 82.0 262.1C82.6 260.4 85.2 258.7 87.2 256.9C89.2 255.2 92.1 253.5 94.1 251.8C96.1 250.0 98.1 248.6 99.3 246.6C100.4 244.6 101.3 241.7 101.0 239.7C100.7 237.7 99.3 235.7 97.6 234.5C95.8 233.4 93.2 233.2 90.7 232.8C88.1 232.4 84.6 232.2 82.0 231.9C79.4 231.6 76.8 231.8 75.1 231.1C73.4 230.3 71.4 228.8 71.7 227.6C72.0 226.5 74.5 225.0 76.8 224.2C79.1 223.3 82.6 223.0 85.5 222.4C88.4 221.9 91.8 221.9 94.1 220.7C96.4 219.6 97.6 217.3 99.3 215.5C101.0 213.8 103.3 212.4 104.5 210.4C105.6 208.3 105.9 204.0 106.2 203.5C106.5 202.9 105.6 207.5 106.2 207.2C106.8 207.0 107.9 203.8 109.6 202.1C111.4 200.3 115.7 198.6 116.5 196.9C117.4 195.2 116.2 192.9 114.8 191.7C113.4 190.6 110.2 190.0 107.9 190.0C105.6 190.0 102.7 192.3 101.0 191.7C99.3 191.1 97.6 188.0 97.6 186.5C97.6 185.1 99.3 183.4 101.0 183.1C102.7 182.8 105.3 184.8 107.9 184.8C110.5 184.8 113.9 183.7 116.5 183.1C119.1 182.5 121.4 182.2 123.4 181.4C125.4 180.5 126.9 179.3 128.6 177.9C130.3 176.5 132.1 174.2 133.8 172.7C135.5 171.3 137.5 171.0 139.0 169.3C140.4 167.5 142.7 164.5 142.4 162.4C142.1 160.2 139.3 157.5 137.2 156.3C135.2 155.2 132.6 154.8 130.3 155.5C128.0 156.2 125.2 160.4 123.4 160.6C121.7 160.9 120.0 158.9 120.0 157.2C120.0 155.5 122.0 152.3 123.4 150.3C124.9 148.3 127.2 147.1 128.6 145.1C130.1 143.1 130.9 140.5 132.1 138.2C133.2 135.9 133.8 132.9 135.5 131.3C137.2 129.7 139.8 129.6 142.4 128.7C145.0 127.9 147.9 127.1 151.0 126.1C154.2 125.1 158.2 123.8 161.4 122.7C164.6 121.5 167.4 120.4 170.0 119.2C172.6 118.1 174.3 116.2 176.9 115.8C179.5 115.4 182.7 116.6 185.6 116.6C188.4 116.6 191.9 116.8 194.2 115.8C196.5 114.8 199.4 112.6 199.4 110.6C199.4 108.6 196.1 106.0 194.2 103.7C192.3 101.4 188.7 98.5 188.1 96.8C187.6 95.1 188.3 93.4 190.7 93.4C193.2 93.4 199.6 95.7 202.8 96.8C206.0 98.0 210.9 98.8 209.7 100.3C208.5 101.7 196.9 104.3 195.8 105.4Z" fill="#36866e"/><path d="M152.8 243.1C153.9 241.6 155.6 239.4 157.9 238.8C160.2 238.2 163.7 239.0 166.6 239.7C169.4 240.4 173.2 241.4 175.2 243.1C177.2 244.9 178.7 247.7 178.7 250.0C178.7 252.3 176.4 254.4 175.2 256.9C174.1 259.5 172.9 262.7 171.8 265.6C170.6 268.4 170.0 271.6 168.3 274.2C166.6 276.8 163.7 278.8 161.4 281.1C159.1 283.4 156.8 286.0 154.5 288.0C152.2 290.0 150.2 291.7 147.6 293.2C145.0 294.6 141.8 295.6 139.0 296.6C136.1 297.6 133.5 298.4 130.3 299.2C127.2 300.1 123.1 300.8 120.0 301.8C116.8 302.8 113.4 305.0 111.4 305.3C109.3 305.5 107.3 304.7 107.9 303.5C108.5 302.4 112.2 300.1 114.8 298.4C117.4 296.6 120.6 295.2 123.4 293.2C126.3 291.2 129.8 288.6 132.1 286.3C134.4 284.0 135.8 282.0 137.2 279.4C138.7 276.8 139.5 273.6 140.7 270.7C141.8 267.9 142.8 265.0 144.1 262.1C145.4 259.2 147.3 255.8 148.5 253.5C149.6 251.2 150.3 250.0 151.0 248.3C151.8 246.6 151.6 244.7 152.8 243.1Z" fill="#0066ae"/>
</g>
<use href="#coast"/><use href="#grid"/>
<circle cx="206.75" cy="207.90" r="1.3" fill="#fff"/>
</g>
<rect x="0" y="0" width="412.50" height="412.50" fill="none" stroke="#000" stroke-width="1.67"/>
</g>
<g><path d="M790.50 976.61H832.07V1000.65L811.28 1014.09L790.50 1000.65Z" fill="#0030ff"/><rect x="790.50" y="952.18" width="41.57" height="24.74" fill="#0066ae"/><rect x="790.50" y="927.74" width="41.57" height="24.74" fill="#36866e"/><rect x="790.50" y="903.30" width="41.57" height="24.74" fill="#3c9e28"/><rect x="790.50" y="878.87" width="41.57" height="24.74" fill="#7ab014"/><rect x="790.50" y="854.43" width="41.57" height="24.74" fill="#b2c01f"/><rect x="790.50" y="830.00" width="41.57" height="24.74" fill="#e9cc27"/><rect x="790.50" y="805.56" width="41.57" height="24.74" fill="#fdb41e"/><rect x="790.50" y="781.12" width="41.57" height="24.74" fill="#ff8f0a"/><rect x="790.50" y="756.69" width="41.57" height="24.74" fill="#ff6600"/><path d="M790.50 756.99H832.07V732.55L811.28 718.41L790.50 732.55Z" fill="#ff2a00"/><path d="M790.50 731.85L811.28 718.41L832.07 731.85V1000.65L811.28 1014.09L790.50 1000.65Z" fill="none" stroke="#000" stroke-width="1.67" stroke-linejoin="miter"/></g>
<g transform="translate(344.25 1155.00)">
<g clip-path="url(#sq)">
<g clip-path="url(#ci)"><rect width="412.50" height="412.50" fill="#ffffff"/>
<path d="M45.8 80.4C46.1 79.0 48.7 77.1 51.0 74.4C53.3 71.6 55.9 68.0 59.6 64.0C63.3 60.0 68.2 54.8 73.4 50.2C78.6 45.6 84.9 40.4 90.7 36.4C96.4 32.4 101.9 28.6 107.9 26.1C113.9 23.5 120.6 22.4 126.9 20.9C133.2 19.4 141.8 17.2 145.9 17.1C149.9 16.9 150.0 18.2 151.0 20.0C152.1 21.8 152.2 25.3 151.9 27.8C151.6 30.2 150.6 32.4 149.3 34.7C148.0 37.0 145.6 39.3 144.1 41.6C142.7 43.9 141.8 45.9 140.7 48.5C139.5 51.1 138.4 54.0 137.2 57.1C136.1 60.3 134.7 64.3 133.8 67.5C132.9 70.6 132.9 73.5 132.1 76.1C131.2 78.7 130.1 81.1 128.6 83.0C127.2 84.9 125.4 86.2 123.4 87.3C121.4 88.5 119.1 89.3 116.5 89.9C113.9 90.5 111.1 90.8 107.9 90.8C104.7 90.7 100.7 89.1 97.6 89.6C94.4 90.0 91.5 93.2 88.9 93.4C86.3 93.6 84.6 91.5 82.0 90.8C79.4 90.0 76.3 89.6 73.4 89.0C70.5 88.5 67.6 87.9 64.8 87.3C61.9 86.7 58.7 86.3 56.1 85.6C53.6 84.9 51.0 83.9 49.2 83.0C47.5 82.1 45.5 81.8 45.8 80.4Z" fill="#ffe4e0"/><path d="M71.7 64.0C73.5 63.3 78.6 62.9 82.0 63.2C85.5 63.4 88.9 65.5 92.4 65.7C95.8 66.0 99.3 65.7 102.7 64.9C106.2 64.0 109.6 61.9 113.1 60.6C116.5 59.3 120.3 57.4 123.4 57.1C126.6 56.8 130.3 57.1 132.1 58.8C133.8 60.6 133.8 64.6 133.8 67.5C133.8 70.3 133.2 73.5 132.1 76.1C130.9 78.7 128.9 81.0 126.9 83.0C124.9 85.0 122.3 87.1 120.0 88.2C117.7 89.3 115.4 89.6 113.1 89.6C110.8 89.6 108.8 88.3 106.2 88.2C103.6 88.1 99.9 89.3 97.6 89.0C95.3 88.8 94.4 87.5 92.4 86.5C90.4 85.4 87.8 84.4 85.5 83.0C83.2 81.6 80.6 79.5 78.6 77.8C76.6 76.1 74.7 74.4 73.4 72.6C72.1 70.9 71.1 68.9 70.8 67.5C70.5 66.0 69.8 64.7 71.7 64.0Z" fill="#ffc8be"/><path d="M50.1 76.1C50.4 74.9 52.8 73.8 54.4 73.5C56.0 73.2 58.9 73.4 59.6 74.4C60.3 75.4 59.9 78.5 58.7 79.5C57.6 80.6 54.1 81.0 52.7 80.4C51.3 79.8 49.8 77.2 50.1 76.1Z" fill="#ffc8be"/><path d="M97.6 81.3C98.1 79.8 101.9 80.4 104.5 79.5C107.0 78.7 110.2 77.0 113.1 76.1C116.0 75.2 119.4 74.1 121.7 74.4C124.0 74.7 126.6 76.2 126.9 77.8C127.2 79.4 125.2 82.1 123.4 83.9C121.7 85.6 119.1 87.2 116.5 88.2C113.9 89.1 110.5 89.6 107.9 89.6C105.3 89.6 102.7 89.6 101.0 88.2C99.3 86.8 97.0 82.7 97.6 81.3Z" fill="#ffa898"/><path d="M98.4 83.9C99.1 82.9 102.6 82.1 104.5 82.1C106.3 82.1 109.3 82.9 109.6 83.9C109.9 84.9 107.8 87.5 106.2 88.2C104.6 88.9 101.4 88.9 100.1 88.2C98.8 87.5 97.7 84.9 98.4 83.9Z" fill="#ff8a72"/><path d="M159.7 24.3C160.7 22.9 164.0 21.5 166.6 20.9C169.2 20.3 174.1 19.9 175.2 20.9C176.4 21.9 175.1 25.6 173.5 26.9C171.9 28.2 167.9 28.2 165.7 28.6C163.6 29.1 161.5 30.2 160.5 29.5C159.5 28.8 158.7 25.8 159.7 24.3Z" fill="#ffe4e0"/><path d="M199.4 12.3C200.4 10.0 206.9 8.8 206.3 8.8C205.7 8.8 196.6 11.4 195.8 12.3C194.9 13.1 199.2 12.5 200.9 14.0C202.7 15.4 203.8 20.0 206.1 20.9C208.4 21.7 212.4 20.9 214.7 19.2C217.0 17.4 217.3 12.1 219.9 10.5C222.5 8.9 226.8 9.4 230.3 9.7C233.7 10.0 236.9 11.4 240.6 12.3C244.4 13.1 248.7 14.0 252.7 14.8C256.7 15.7 262.0 15.8 264.8 17.4C267.5 19.0 268.5 22.0 269.1 24.3C269.7 26.6 269.4 29.5 268.2 31.2C267.1 33.0 263.9 33.0 262.2 34.7C260.5 36.4 258.9 39.3 257.9 41.6C256.9 43.9 257.0 46.5 256.1 48.5C255.3 50.5 254.7 52.5 252.7 53.7C250.7 54.8 246.9 55.4 244.1 55.4C241.2 55.4 237.7 53.8 235.4 53.7C233.1 53.5 232.6 54.8 230.3 54.5C228.0 54.2 224.5 52.2 221.6 51.9C218.8 51.7 215.6 53.1 213.0 52.8C210.4 52.5 206.9 50.2 206.1 50.2C205.3 50.2 208.5 53.7 208.0 52.8C207.4 51.9 204.7 47.8 202.8 45.0C200.9 42.3 197.9 39.0 196.8 36.4C195.6 33.8 195.3 31.8 195.9 29.5C196.5 27.2 199.6 25.5 200.2 22.6C200.8 19.7 198.4 14.6 199.4 12.3Z" fill="#ffe4e0"/><path d="M16.5 129.6C17.7 128.5 20.1 130.2 21.6 131.3C23.2 132.5 26.2 135.3 25.9 136.5C25.7 137.6 21.9 138.0 19.9 138.2C17.9 138.4 14.4 139.3 13.9 137.9C13.3 136.4 15.2 130.7 16.5 129.6Z" fill="#ffe4e0"/><path d="M42.3 98.2C43.1 97.6 46.5 97.3 47.5 97.7C48.5 98.1 49.1 100.0 48.4 100.6C47.7 101.2 44.2 101.5 43.2 101.1C42.2 100.7 41.6 98.8 42.3 98.2Z" fill="#ffe4e0"/><path d="M65.6 98.5C67.1 97.8 70.7 96.5 73.4 96.8C76.1 97.1 79.4 100.0 82.0 100.3C84.6 100.5 86.1 99.1 88.9 98.5C91.8 98.0 96.1 97.5 99.3 96.8C102.4 96.1 105.0 94.8 107.9 94.2C110.8 93.6 113.4 93.8 116.5 93.4C119.7 92.9 124.0 93.1 126.9 91.6C129.8 90.2 131.8 87.3 133.8 84.7C135.8 82.1 137.5 78.7 139.0 76.1C140.4 73.5 141.0 70.6 142.4 69.2C143.9 67.8 145.6 68.0 147.6 67.5C149.6 66.9 152.2 66.3 154.5 65.7C156.8 65.2 159.1 64.6 161.4 64.0C163.7 63.4 166.3 62.9 168.3 62.3C170.3 61.7 172.9 59.7 173.5 60.6C174.1 61.4 172.3 64.9 171.8 67.5C171.2 70.1 170.9 73.8 170.0 76.1C169.2 78.4 166.3 79.8 166.6 81.3C166.9 82.7 169.7 83.6 171.8 84.7C173.8 85.9 178.1 86.5 178.7 88.2C179.2 89.9 174.9 93.1 175.2 95.1C175.5 97.1 179.2 98.5 180.4 100.3C181.5 102.0 182.4 103.4 182.1 105.4C181.8 107.4 179.8 110.6 178.7 112.3C177.5 114.1 176.9 114.3 175.2 115.8C173.5 117.2 170.9 119.7 168.3 121.0C165.7 122.3 162.5 122.7 159.7 123.5C156.8 124.4 153.6 125.3 151.0 126.1C148.5 127.0 146.4 127.9 144.1 128.7C141.8 129.6 139.3 130.3 137.2 131.3C135.2 132.3 133.2 135.1 132.1 134.8C130.9 134.5 130.9 131.3 130.3 129.6C129.8 127.9 129.8 125.8 128.6 124.4C127.5 123.0 125.4 121.2 123.4 121.0C121.4 120.7 118.3 121.2 116.5 122.7C114.8 124.1 113.4 127.3 113.1 129.6C112.8 131.9 113.7 134.5 114.8 136.5C116.0 138.5 118.0 140.5 120.0 141.7C122.0 142.8 126.3 142.5 126.9 143.4C127.5 144.3 125.2 146.6 123.4 146.8C121.7 147.1 118.8 145.1 116.5 145.1C114.2 145.1 111.4 147.4 109.6 146.8C107.9 146.3 107.9 143.1 106.2 141.7C104.5 140.2 101.6 139.4 99.3 138.2C97.0 137.1 94.7 135.9 92.4 134.8C90.1 133.6 87.8 132.5 85.5 131.3C83.2 130.2 80.9 128.7 78.6 127.9C76.3 127.0 74.0 126.7 71.7 126.1C69.4 125.6 67.1 125.0 64.8 124.4C62.5 123.8 60.2 123.3 57.9 122.7C55.6 122.1 53.3 121.0 51.0 121.0C48.7 121.0 46.1 122.7 44.1 122.7C42.1 122.7 40.6 122.1 38.9 121.0C37.2 119.8 35.7 116.8 33.7 115.8C31.7 114.8 28.1 115.8 26.8 114.9C25.5 114.1 25.1 111.9 25.9 110.6C26.8 109.3 29.5 107.9 32.0 107.2C34.4 106.4 37.4 106.3 40.6 106.3C43.8 106.3 48.1 107.6 51.0 107.2C53.8 106.7 55.6 104.7 57.9 103.7C60.2 102.7 63.5 102.0 64.8 101.1C66.1 100.3 64.2 99.2 65.6 98.5Z" fill="#dde3ff"/><path d="M146.2 75.2C146.5 73.5 148.5 73.4 149.3 74.4C150.1 75.4 150.9 79.3 151.0 81.3C151.2 83.3 150.8 85.9 150.2 86.5C149.6 87.0 148.3 86.6 147.6 84.7C146.9 82.9 145.9 77.0 146.2 75.2Z" fill="#b8c2fc"/><path d="M89.8 155.5C90.9 153.7 93.7 151.4 95.8 150.3C98.0 149.1 100.4 148.6 102.7 148.6C105.0 148.6 107.3 149.4 109.6 150.3C111.9 151.2 114.2 153.7 116.5 153.7C118.8 153.7 121.1 151.2 123.4 150.3C125.7 149.4 128.0 148.0 130.3 148.6C132.6 149.1 135.2 151.7 137.2 153.7C139.3 155.8 140.7 158.3 142.4 160.6C144.1 162.9 146.2 165.2 147.6 167.5C149.0 169.8 149.9 172.2 151.0 174.5C152.2 176.8 153.3 179.1 154.5 181.4C155.6 183.7 156.8 186.0 157.9 188.3C159.1 190.6 160.2 192.9 161.4 195.2C162.5 197.5 163.7 199.8 164.8 202.1C166.0 204.4 167.1 206.1 168.3 209.0C169.4 211.8 184.4 217.6 171.8 219.3C159.1 221.0 105.3 221.3 92.4 219.3C79.4 217.3 93.0 210.1 94.1 207.2C95.3 204.4 98.7 204.1 99.3 202.1C99.9 200.0 98.4 197.5 97.6 195.2C96.7 192.9 94.1 190.6 94.1 188.3C94.1 186.0 96.7 183.7 97.6 181.4C98.4 179.1 100.1 176.8 99.3 174.5C98.4 172.2 94.1 169.8 92.4 167.5C90.7 165.2 89.4 162.7 88.9 160.6C88.5 158.6 88.6 157.2 89.8 155.5Z" fill="#dde3ff"/><path d="M4.4 164.1C5.2 162.1 9.6 161.8 11.3 162.4C13.0 162.9 13.0 165.8 14.7 167.5C16.5 169.3 19.0 172.2 21.6 172.7C24.2 173.3 27.1 171.6 30.3 171.0C33.4 170.4 37.7 169.0 40.6 169.3C43.5 169.6 45.5 171.3 47.5 172.7C49.5 174.2 51.3 175.9 52.7 177.9C54.1 179.9 54.1 183.4 56.1 184.8C58.2 186.2 61.9 186.0 64.8 186.5C67.6 187.1 70.5 187.1 73.4 188.3C76.3 189.4 79.4 191.7 82.0 193.4C84.6 195.2 87.2 196.6 88.9 198.6C90.7 200.6 91.8 202.1 92.4 205.5C93.0 209.0 108.5 217.0 92.4 219.3C76.3 221.6 11.3 222.2 -4.2 219.3C-19.8 216.4 -2.5 206.9 -0.8 202.1C0.9 197.2 3.8 192.6 6.1 190.0C8.4 187.4 10.7 186.8 13.0 186.5C15.3 186.2 18.5 188.8 19.9 188.3C21.3 187.7 22.8 184.5 21.6 183.1C20.5 181.6 15.6 181.1 13.0 179.6C10.4 178.2 7.5 177.0 6.1 174.5C4.7 171.9 3.5 166.1 4.4 164.1Z" fill="#dde3ff"/><path d="M208.8 70.9C210.4 68.9 213.9 67.5 215.8 69.2C217.6 70.9 219.3 75.2 220.1 81.3C220.8 87.3 221.2 101.7 220.1 105.4C218.9 109.2 215.2 105.1 213.2 103.7C211.1 102.3 209.7 98.8 208.0 96.8C206.3 94.8 204.8 93.1 202.8 91.6C200.8 90.2 196.5 89.6 195.9 88.2C195.3 86.7 197.6 84.2 199.4 83.0C201.1 81.8 204.7 83.3 206.3 81.3C207.8 79.3 207.3 72.9 208.8 70.9Z" fill="#dde3ff"/><path d="M263.0 39.9C264.6 37.0 267.4 34.7 269.9 33.0C272.5 31.2 276.4 29.7 278.6 29.5C280.7 29.4 282.3 30.4 282.9 32.1C283.5 33.8 282.7 37.4 282.0 39.9C281.3 42.3 280.3 44.8 278.6 46.8C276.8 48.8 274.0 50.5 271.7 51.9C269.4 53.4 266.6 55.7 264.8 55.4C262.9 55.1 260.7 52.8 260.5 50.2C260.2 47.6 261.5 42.7 263.0 39.9Z" fill="#dde3ff"/><path d="M306.2 34.7C307.3 32.4 309.6 31.2 311.4 31.2C313.1 31.2 316.0 32.7 316.5 34.7C317.1 36.7 316.0 40.7 314.8 43.3C313.7 45.9 311.4 49.9 309.6 50.2C307.9 50.5 305.0 47.6 304.5 45.0C303.9 42.5 305.0 37.0 306.2 34.7Z" fill="#ffe4e0"/><path d="M322.2 38.1C322.7 37.2 325.3 37.3 326.0 38.1C326.7 39.0 327.0 42.4 326.5 43.3C326.1 44.2 323.8 44.5 323.1 43.7C322.4 42.8 321.7 39.1 322.2 38.1Z" fill="#ffe4e0"/><path d="M297.6 55.0C298.3 54.1 302.4 53.8 303.6 54.5C304.7 55.2 305.2 58.2 304.5 59.2C303.7 60.1 300.1 60.9 298.9 60.2C297.8 59.5 296.8 56.0 297.6 55.0Z" fill="#ffe4e0"/><path d="M298.4 73.5C299.6 72.6 304.9 72.0 306.2 72.6C307.5 73.3 307.3 76.6 306.2 77.5C305.0 78.4 300.6 78.8 299.3 78.2C298.0 77.5 297.3 74.4 298.4 73.5Z" fill="#ffe4e0"/><path d="M263.0 63.7C264.0 62.7 268.5 62.3 269.6 63.2C270.8 64.0 270.9 67.8 269.9 68.9C269.0 69.9 265.1 70.1 263.9 69.2C262.8 68.3 262.1 64.7 263.0 63.7Z" fill="#ffe4e0"/><path d="M195.8 78.7C197.5 76.1 203.2 77.1 206.1 76.1C209.0 75.1 210.4 73.9 213.0 72.6C215.6 71.4 218.8 69.8 221.6 68.3C224.5 66.9 227.4 64.7 230.3 64.0C233.1 63.3 236.3 63.4 238.9 64.0C241.5 64.6 243.5 66.0 245.8 67.5C248.1 68.9 250.4 71.2 252.7 72.6C255.0 74.1 257.0 76.1 259.6 76.1C262.2 76.1 265.6 73.5 268.2 72.6C270.8 71.8 272.8 70.6 275.1 70.9C277.4 71.2 279.7 73.2 282.0 74.4C284.3 75.5 286.6 76.7 288.9 77.8C291.2 79.0 293.2 80.4 295.8 81.3C298.4 82.1 301.0 83.0 304.5 83.0C307.9 83.0 312.8 81.7 316.5 81.3C320.3 80.8 324.0 80.7 326.9 80.4C329.8 80.1 332.9 81.1 333.8 79.5C334.7 78.0 333.2 73.5 332.1 70.9C330.9 68.3 327.5 66.6 326.9 64.0C326.3 61.4 327.2 57.4 328.6 55.4C330.1 53.4 333.2 52.2 335.5 51.9C337.8 51.7 340.1 52.2 342.4 53.7C344.7 55.1 347.0 58.3 349.3 60.6C351.6 62.9 354.2 65.2 356.2 67.5C358.2 69.8 361.1 72.1 361.4 74.4C361.7 76.7 358.7 78.7 357.9 81.3C357.2 83.9 356.5 87.6 357.1 89.9C357.7 92.2 359.0 93.9 361.4 95.1C363.8 96.2 369.7 95.1 371.8 96.8C373.8 98.5 373.8 102.3 373.5 105.4C373.2 108.6 370.3 112.3 370.0 115.8C369.7 119.2 371.2 123.3 371.8 126.1C372.3 129.0 373.8 130.5 373.5 133.0C373.2 135.6 371.2 139.4 370.0 141.7C368.9 144.0 366.6 144.8 366.6 146.8C366.6 148.9 368.6 151.4 370.0 153.7C371.5 156.0 374.6 158.1 375.2 160.6C375.8 163.2 373.8 166.4 373.5 169.3C373.2 172.2 372.6 175.6 373.5 177.9C374.3 180.2 376.6 182.8 378.7 183.1C380.7 183.4 383.3 181.1 385.6 179.6C387.9 178.2 390.2 174.5 392.5 174.5C394.8 174.5 398.5 177.3 399.4 179.6C400.2 181.9 398.5 185.7 397.6 188.3C396.8 190.8 395.3 193.1 394.2 195.2C393.0 197.2 392.2 199.2 390.7 200.3C389.3 201.5 387.3 200.9 385.6 202.1C383.8 203.2 381.5 205.1 380.4 207.2C379.2 209.4 378.7 212.8 378.7 215.0C378.7 217.2 379.2 220.3 380.4 220.7C381.5 221.1 383.3 218.1 385.6 217.3C387.9 216.4 391.3 215.5 394.2 215.5C397.1 215.5 400.7 216.1 402.8 217.3C405.0 218.4 407.1 220.7 407.1 222.4C407.1 224.2 405.0 226.3 402.8 227.6C400.7 228.9 397.1 229.5 394.2 230.2C391.3 230.9 388.1 230.9 385.6 231.9C383.0 233.0 380.4 234.4 378.7 236.6C376.9 238.7 376.9 242.3 375.2 244.9C373.5 247.4 370.6 249.2 368.3 251.8C366.0 254.4 363.7 257.5 361.4 260.4C359.1 263.3 356.1 266.1 354.5 269.0C352.9 271.9 351.9 274.8 351.9 277.6C351.9 280.5 353.2 283.1 354.5 286.3C355.8 289.4 357.9 293.2 359.7 296.6C361.4 300.1 363.4 304.1 364.8 307.0C366.3 309.9 368.9 312.2 368.3 313.9C367.7 315.6 363.7 316.2 361.4 317.3C359.1 318.5 356.8 319.3 354.5 320.8C352.2 322.2 349.9 324.8 347.6 326.0C345.3 327.1 342.7 326.2 340.7 327.7C338.7 329.1 337.0 332.9 335.5 334.6C334.1 336.3 333.2 338.3 332.1 338.0C330.9 337.8 330.1 334.3 328.6 332.9C327.2 331.4 325.4 329.7 323.4 329.4C321.4 329.1 318.3 330.0 316.5 331.1C314.8 332.3 314.2 334.3 313.1 336.3C311.9 338.3 310.5 340.9 309.6 343.2C308.8 345.5 309.1 347.8 307.9 350.1C306.8 352.4 304.7 355.0 302.7 357.0C300.7 359.0 298.1 360.5 295.8 362.2C293.5 363.9 290.9 365.6 288.9 367.4C286.9 369.1 285.5 372.0 283.8 372.5C282.0 373.1 279.6 372.3 278.6 370.8C277.6 369.4 277.4 366.5 277.7 363.9C278.0 361.3 280.2 357.9 280.3 355.3C280.4 352.7 280.0 350.1 278.6 348.4C277.1 346.7 274.0 345.2 271.7 344.9C269.4 344.7 266.5 347.0 264.8 346.7C263.0 346.4 262.5 344.9 261.3 343.2C260.2 341.5 258.2 338.9 257.9 336.3C257.6 333.7 259.6 330.3 259.6 327.7C259.6 325.1 258.7 321.9 257.9 320.8C257.0 319.6 255.6 319.6 254.4 320.8C253.3 321.9 251.8 325.1 251.0 327.7C250.1 330.3 249.2 333.4 249.2 336.3C249.2 339.2 250.1 342.4 251.0 344.9C251.8 347.5 253.8 349.5 254.4 351.8C255.0 354.1 254.7 356.4 254.4 358.7C254.1 361.0 253.6 363.3 252.7 365.6C251.8 367.9 250.4 370.5 249.2 372.5C248.1 374.6 246.9 377.7 245.8 377.7C244.6 377.7 243.5 374.6 242.3 372.5C241.2 370.5 240.3 367.7 238.9 365.6C237.4 363.6 235.1 362.2 233.7 360.5C232.3 358.7 230.8 357.3 230.3 355.3C229.7 353.3 230.0 351.0 230.3 348.4C230.5 345.8 231.1 342.6 232.0 339.8C232.8 336.9 234.3 334.0 235.4 331.1C236.6 328.3 237.9 325.4 238.9 322.5C239.9 319.6 240.6 316.5 241.5 313.9C242.3 311.3 243.1 309.0 244.1 307.0C245.1 305.0 245.5 303.1 247.5 301.8C249.5 300.5 253.3 299.8 256.1 299.2C259.0 298.6 262.2 298.2 264.8 298.4C267.4 298.5 269.7 298.6 271.7 300.1C273.7 301.5 275.1 304.7 276.8 307.0C278.6 309.3 280.3 313.3 282.0 313.9C283.8 314.5 285.9 312.2 287.2 310.4C288.5 308.7 289.5 306.4 289.8 303.5C290.1 300.7 288.5 296.6 288.9 293.2C289.4 289.7 290.9 286.3 292.4 282.8C293.8 279.4 296.4 275.6 297.6 272.5C298.7 269.3 299.3 266.4 299.3 263.8C299.3 261.3 298.7 259.0 297.6 256.9C296.4 254.9 294.1 253.8 292.4 251.8C290.7 249.8 288.4 247.5 287.2 244.9C286.1 242.3 285.2 238.5 285.5 236.2C285.8 233.9 287.8 232.8 288.9 231.1C290.1 229.3 292.7 228.2 292.4 225.9C292.1 223.6 288.9 220.1 287.2 217.3C285.5 214.4 283.5 211.2 282.0 208.6C280.6 206.0 278.3 201.4 278.6 201.7C278.9 202.1 283.5 210.3 283.8 210.7C284.0 211.0 281.7 206.1 280.3 203.8C278.9 201.5 276.8 198.9 275.1 196.9C273.4 194.9 270.8 193.7 269.9 191.7C269.1 189.7 269.1 186.2 269.9 184.8C270.8 183.4 273.3 183.9 275.1 183.1C277.0 182.2 280.3 181.4 281.2 179.6C282.0 177.9 281.0 175.0 280.3 172.7C279.6 170.4 278.0 168.1 276.8 165.8C275.7 163.5 273.4 160.9 273.4 158.9C273.4 156.9 276.0 155.8 276.8 153.7C277.7 151.7 279.4 148.6 278.6 146.8C277.7 145.1 273.7 145.0 271.7 143.4C269.7 141.8 268.5 138.2 266.5 137.4C264.5 136.5 261.6 138.9 259.6 138.2C257.6 137.5 255.9 135.3 254.4 133.0C253.0 130.7 252.4 126.7 251.0 124.4C249.5 122.1 247.5 121.2 245.8 119.2C244.1 117.2 243.2 114.3 240.6 112.3C238.0 110.3 233.1 108.6 230.3 107.2C227.4 105.7 226.2 104.0 223.4 103.7C220.5 103.4 215.9 105.7 213.0 105.4C210.1 105.1 208.4 103.7 206.1 102.0C203.8 100.3 200.9 96.8 199.2 95.1C197.5 93.4 196.3 94.4 195.8 91.6C195.2 88.9 194.0 81.3 195.8 78.7Z" fill="#dde3ff"/><path d="M308.8 108.9C309.5 107.2 312.9 105.4 314.8 105.4C316.7 105.4 319.3 107.2 320.0 108.9C320.7 110.6 320.0 113.8 319.1 115.8C318.3 117.8 316.2 121.0 314.8 121.0C313.4 121.0 311.5 117.8 310.5 115.8C309.5 113.8 308.1 110.6 308.8 108.9Z" fill="#ffffff"/><path d="M322.6 138.2C323.0 135.8 326.3 134.3 328.6 133.0C330.9 131.7 335.2 129.3 336.4 130.5C337.5 131.6 336.2 137.1 335.5 139.9C334.8 142.8 333.6 146.4 332.1 147.7C330.5 149.0 327.6 149.3 326.0 147.7C324.4 146.1 322.1 140.7 322.6 138.2Z" fill="#ffffff"/><path d="M267.4 84.7C268.2 83.4 271.2 80.7 273.4 80.4C275.6 80.1 278.3 81.4 280.3 83.0C282.3 84.6 283.8 87.9 285.5 89.9C287.2 91.9 290.4 93.5 290.7 95.1C290.9 96.7 288.6 98.8 287.2 99.4C285.8 100.0 283.8 99.5 282.0 98.5C280.3 97.5 278.6 94.5 276.8 93.4C275.1 92.2 273.1 92.5 271.7 91.6C270.2 90.8 268.9 89.3 268.2 88.2C267.5 87.0 266.5 86.0 267.4 84.7Z" fill="#b8c2fc"/><path d="M381.2 114.1C381.8 111.8 382.5 107.4 383.8 107.2C385.1 106.9 387.3 109.7 389.0 112.3C390.7 114.9 393.0 119.5 394.2 122.7C395.3 125.8 396.8 129.6 395.9 131.3C395.0 133.0 391.0 133.6 389.0 133.0C387.0 132.5 385.3 129.9 383.8 127.9C382.4 125.8 380.8 123.3 380.4 121.0C379.9 118.7 380.7 116.4 381.2 114.1Z" fill="#ffe4e0"/><path d="M392.5 143.4C393.0 141.8 395.9 140.2 397.6 140.8C399.4 141.4 401.5 144.4 402.8 146.8C404.1 149.3 406.0 153.9 405.4 155.5C404.8 157.1 401.2 157.2 399.4 156.3C397.5 155.5 395.3 152.5 394.2 150.3C393.0 148.1 391.9 145.0 392.5 143.4Z" fill="#ffe4e0"/><path d="M385.6 155.5C386.1 154.0 388.7 152.9 389.9 153.7C391.0 154.6 392.5 158.6 392.5 160.6C392.5 162.7 390.9 165.5 389.9 165.8C388.9 166.1 387.1 164.1 386.4 162.4C385.7 160.6 385.0 156.9 385.6 155.5Z" fill="#ffe4e0"/><path d="M403.7 186.5C404.5 183.4 407.3 181.9 408.8 183.1C410.4 184.2 412.2 187.4 413.2 193.4C414.2 199.5 415.8 215.3 414.9 219.3C414.0 223.3 409.9 220.5 408.0 217.6C406.1 214.7 404.4 207.2 403.7 202.1C403.0 196.9 402.8 189.7 403.7 186.5Z" fill="#ffe4e0"/><path d="M379.5 202.1C380.1 200.5 383.4 200.9 385.6 200.3C387.7 199.8 390.4 198.3 392.5 198.6C394.5 198.9 397.1 200.3 397.6 202.1C398.2 203.8 397.3 207.5 395.9 209.0C394.5 210.4 391.3 210.5 389.0 210.7C386.7 210.8 383.7 211.3 382.1 209.8C380.5 208.4 378.9 203.6 379.5 202.1Z" fill="#ffffff"/><path d="M175.2 196.5C205.1 198.3 175.8 203.7 175.2 206.9C174.6 210.1 172.9 212.9 171.8 215.5C170.6 218.1 170.0 220.7 168.3 222.4C166.6 224.2 163.7 225.6 161.4 225.9C159.1 226.2 156.8 223.9 154.5 224.2C152.2 224.4 149.6 225.9 147.6 227.6C145.6 229.3 143.9 232.2 142.4 234.5C141.0 236.8 140.4 239.4 139.0 241.4C137.5 243.4 135.8 244.9 133.8 246.6C131.8 248.3 129.2 250.0 126.9 251.8C124.6 253.5 122.3 255.2 120.0 256.9C117.7 258.7 115.1 260.1 113.1 262.1C111.1 264.1 109.6 267.3 107.9 269.0C106.2 270.7 102.4 271.6 102.7 272.5C103.0 273.3 107.3 273.6 109.6 274.2C111.9 274.8 116.0 274.8 116.5 275.9C117.1 277.1 114.8 280.5 113.1 281.1C111.4 281.7 108.5 279.9 106.2 279.4C103.9 278.8 101.6 278.2 99.3 277.6C97.0 277.1 94.7 276.5 92.4 275.9C90.1 275.3 87.8 274.2 85.5 274.2C83.2 274.2 80.6 276.2 78.6 275.9C76.6 275.6 75.1 272.5 73.4 272.5C71.7 272.5 69.7 274.5 68.2 275.9C66.8 277.4 65.9 279.1 64.8 281.1C63.6 283.1 62.8 286.0 61.3 288.0C59.9 290.0 57.6 291.2 56.1 293.2C54.7 295.2 53.6 297.8 52.7 300.1C51.8 302.4 51.5 304.7 51.0 307.0C50.4 309.3 50.1 311.9 49.2 313.9C48.4 315.9 47.2 317.9 45.8 319.1C44.4 320.2 42.3 320.8 40.6 320.8C38.9 320.8 37.2 320.2 35.4 319.1C33.7 317.9 32.6 315.9 30.3 313.9C28.0 311.9 25.7 314.5 21.6 307.0C17.6 299.5 10.4 281.1 6.1 269.0C1.8 256.9 -2.5 246.6 -4.2 234.5C-6.0 222.4 -34.2 202.9 -4.2 196.5C25.7 190.2 145.3 194.8 175.2 196.5Z" fill="#dde3ff"/><path d="M10.4 241.4C10.7 239.4 14.0 236.2 16.5 234.5C18.9 232.8 22.8 231.1 25.1 231.1C27.4 231.1 28.2 232.5 30.3 234.5C32.3 236.5 34.9 241.4 37.2 243.1C39.5 244.9 41.8 245.4 44.1 244.9C46.4 244.3 50.4 239.4 51.0 239.7C51.5 240.0 49.5 245.2 47.5 246.6C45.5 248.0 41.8 248.6 38.9 248.3C36.0 248.0 33.1 245.7 30.3 244.9C27.4 244.0 24.2 242.8 21.6 243.1C19.0 243.4 16.6 246.9 14.7 246.6C12.9 246.3 10.1 243.4 10.4 241.4Z" fill="#ffffff"/><path d="M147.6 198.3C148.7 197.7 153.3 200.6 156.2 201.7C159.1 202.9 162.0 203.7 164.8 205.2C167.7 206.6 171.8 208.1 173.5 210.4C175.2 212.7 176.1 217.0 175.2 219.0C174.3 221.0 170.6 222.7 168.3 222.4C166.0 222.1 163.7 219.3 161.4 217.3C159.1 215.2 156.5 212.4 154.5 210.4C152.5 208.3 150.5 207.2 149.3 205.2C148.2 203.2 146.4 198.8 147.6 198.3Z" fill="#ffffff"/><path d="M71.7 227.6C72.2 226.6 78.6 225.9 82.0 225.9C85.5 225.9 88.9 227.6 92.4 227.6C95.8 227.6 100.4 225.6 102.7 225.9C105.0 226.2 106.8 228.3 106.2 229.3C105.6 230.3 102.2 231.3 99.3 231.9C96.4 232.5 92.4 232.8 88.9 232.8C85.5 232.8 81.4 232.8 78.6 231.9C75.7 231.1 71.1 228.6 71.7 227.6Z" fill="#ffffff"/><path d="M109.6 205.2C110.5 204.3 114.2 206.0 116.5 206.9C118.8 207.8 122.0 208.6 123.4 210.4C124.9 212.1 125.7 215.2 125.2 217.3C124.6 219.3 121.7 222.4 120.0 222.4C118.3 222.4 116.2 219.0 114.8 217.3C113.4 215.5 112.2 214.1 111.4 212.1C110.5 210.1 108.8 206.0 109.6 205.2Z" fill="#ffffff"/><path d="M4.4 232.8C5.7 230.5 9.0 229.8 11.3 229.3C13.6 228.9 17.9 229.0 18.2 230.2C18.5 231.3 14.7 234.1 13.0 236.2C11.3 238.4 9.0 240.8 7.8 243.1C6.7 245.4 6.8 250.0 6.1 250.0C5.4 250.0 3.8 246.0 3.5 243.1C3.2 240.3 3.1 235.1 4.4 232.8Z" fill="#b8c2fc"/><path d="M89.8 312.2C90.7 310.0 93.7 309.3 95.8 309.6C98.0 309.9 101.0 312.0 102.7 313.9C104.5 315.8 106.2 318.6 106.2 320.8C106.2 322.9 104.5 325.7 102.7 326.8C101.0 328.0 97.8 328.4 95.8 327.7C93.8 327.0 91.7 325.1 90.7 322.5C89.6 319.9 88.9 314.3 89.8 312.2Z" fill="#dde3ff"/><path d="M181.2 263.8C181.5 261.8 184.5 261.3 185.6 262.1C186.6 263.0 186.4 266.7 187.3 269.0C188.1 271.3 190.7 273.9 190.7 275.9C190.7 277.9 188.4 281.4 187.3 281.1C186.1 280.8 184.8 277.1 183.8 274.2C182.8 271.3 181.0 265.9 181.2 263.8Z" fill="#dde3ff"/><path d="M209.7 258.7C210.6 257.2 214.3 256.4 215.8 256.9C217.2 257.5 218.3 260.4 218.3 262.1C218.3 263.8 217.0 266.7 215.8 267.3C214.5 267.9 211.6 267.0 210.6 265.6C209.6 264.1 208.8 260.1 209.7 258.7Z" fill="#b8c2fc"/><path d="M47.5 336.3C45.5 331.7 50.4 336.0 52.7 336.3C55.0 336.6 58.7 338.0 61.3 338.0C63.9 338.0 66.2 337.5 68.2 336.3C70.2 335.2 72.4 336.6 73.4 331.1C74.4 325.7 73.1 308.4 74.3 303.5C75.4 298.6 79.1 300.7 80.3 301.8C81.4 303.0 81.2 307.3 81.2 310.4C81.2 313.6 80.7 317.3 80.3 320.8C79.9 324.2 77.7 328.3 78.6 331.1C79.4 334.0 83.2 336.0 85.5 338.0C87.8 340.1 90.1 341.8 92.4 343.2C94.7 344.7 97.0 347.5 99.3 346.7C101.6 345.8 105.0 340.6 106.2 338.0C107.3 335.5 105.0 332.9 106.2 331.1C107.3 329.4 110.8 328.8 113.1 327.7C115.4 326.5 119.4 325.7 120.0 324.2C120.6 322.8 118.5 319.9 116.5 319.1C114.5 318.2 110.4 319.9 107.9 319.1C105.5 318.2 103.0 316.5 101.9 313.9C100.7 311.3 100.3 305.5 101.0 303.5C101.7 301.5 103.9 301.2 106.2 301.8C108.5 302.4 111.9 306.5 114.8 307.0C117.7 307.4 120.3 304.7 123.4 304.4C126.6 304.1 130.3 305.4 133.8 305.3C137.2 305.1 141.3 303.2 144.1 303.5C147.0 303.8 148.5 306.7 151.0 307.0C153.6 307.3 156.8 305.8 159.7 305.3C162.5 304.7 165.7 302.7 168.3 303.5C170.9 304.4 172.9 309.9 175.2 310.4C177.5 311.0 179.5 309.3 182.1 307.0C184.7 304.7 188.1 299.5 190.7 296.6C193.3 293.8 195.0 292.0 197.6 289.7C200.2 287.4 203.2 284.3 206.3 282.8C209.3 281.4 213.2 283.4 215.8 281.1C218.3 278.8 219.2 272.2 221.6 269.0C224.1 265.9 227.4 264.1 230.3 262.1C233.1 260.1 236.0 258.7 238.9 256.9C241.8 255.2 244.9 254.4 247.5 251.8C250.1 249.2 252.7 244.6 254.4 241.4C256.1 238.2 256.1 234.4 257.9 232.8C259.6 231.2 263.0 231.1 264.8 231.9C266.5 232.8 267.1 235.8 268.2 238.0C269.4 240.1 271.1 242.6 271.7 244.9C272.2 247.2 272.0 249.2 271.7 251.8C271.4 254.4 271.1 257.5 269.9 260.4C268.8 263.3 266.2 266.4 264.8 269.0C263.3 271.6 263.0 273.9 261.3 275.9C259.6 277.9 256.7 279.4 254.4 281.1C252.1 282.8 249.2 284.3 247.5 286.3C245.8 288.3 244.9 290.9 244.1 293.2C243.2 295.5 243.2 297.8 242.3 300.1C241.5 302.4 240.0 304.1 238.9 307.0C237.7 309.9 236.6 313.9 235.4 317.3C234.3 320.8 233.1 324.2 232.0 327.7C230.8 331.1 230.0 334.9 228.5 338.0C227.1 341.2 224.8 343.8 223.4 346.7C221.9 349.5 220.2 352.4 219.9 355.3C219.6 358.2 220.8 361.0 221.6 363.9C222.5 366.8 223.6 370.2 225.1 372.5C226.5 374.8 228.5 377.4 230.3 377.7C232.0 378.0 234.3 373.7 235.4 374.3C236.6 374.8 238.0 378.6 237.2 381.2C236.3 383.8 232.6 386.9 230.3 389.8C228.0 392.7 225.7 395.6 223.4 398.4C221.1 401.3 218.2 402.7 216.5 407.1C214.7 411.4 216.5 421.4 213.0 424.3C209.6 427.2 206.1 424.3 195.8 424.3C185.4 424.3 167.1 428.6 151.0 424.3C135.0 420.0 113.7 408.5 99.3 398.4C84.9 388.4 73.4 374.3 64.8 363.9C56.1 353.6 49.5 340.9 47.5 336.3Z" fill="#ffe4e0"/><path d="M78.6 332.9C80.9 332.6 83.2 336.0 85.5 338.0C87.8 340.1 90.1 343.2 92.4 344.9C94.7 346.7 97.0 346.7 99.3 348.4C101.6 350.1 104.7 352.7 106.2 355.3C107.6 357.9 107.9 361.0 107.9 363.9C107.9 366.8 107.6 370.2 106.2 372.5C104.7 374.8 101.6 378.0 99.3 377.7C97.0 377.4 94.1 373.7 92.4 370.8C90.7 367.9 90.7 363.3 88.9 360.5C87.2 357.6 84.0 355.9 82.0 353.6C80.0 351.3 78.6 349.0 76.8 346.7C75.1 344.4 71.4 342.1 71.7 339.8C72.0 337.5 76.3 333.2 78.6 332.9Z" fill="#ffffff"/><path d="M189.0 251.8C190.7 249.8 193.6 249.2 195.9 250.0C198.2 250.9 200.8 254.4 202.8 256.9C204.8 259.5 206.5 262.7 208.0 265.6C209.4 268.4 211.4 271.6 211.4 274.2C211.4 276.8 209.7 279.1 208.0 281.1C206.3 283.1 203.4 284.8 201.1 286.3C198.8 287.7 196.2 290.3 194.2 289.7C192.2 289.2 190.2 285.7 189.0 282.8C187.9 279.9 187.9 275.9 187.3 272.5C186.7 269.0 185.3 265.6 185.6 262.1C185.8 258.7 187.3 253.8 189.0 251.8Z" fill="#ffffff"/><path d="M195.8 248.3C196.9 242.6 200.4 248.9 202.7 250.0C205.0 251.2 207.5 252.6 209.6 255.2C211.6 257.8 214.2 262.4 214.7 265.6C215.3 268.7 214.4 271.6 213.0 274.2C211.6 276.8 208.4 279.1 206.1 281.1C203.8 283.1 200.9 285.7 199.2 286.3C197.5 286.8 196.3 290.9 195.8 284.5C195.2 278.2 194.6 254.1 195.8 248.3Z" fill="#ffffff"/><path d="M157.9 338.0C160.2 336.3 164.8 336.3 168.3 336.3C171.7 336.3 175.2 336.9 178.7 338.0C182.1 339.2 186.4 341.2 189.0 343.2C191.6 345.2 193.0 347.5 194.2 350.1C195.3 352.7 196.5 356.2 195.9 358.7C195.3 361.3 192.5 363.3 190.7 365.6C189.0 367.9 187.6 370.5 185.6 372.5C183.5 374.6 180.1 375.4 178.7 377.7C177.2 380.0 178.7 384.3 176.9 386.4C175.2 388.4 170.9 388.4 168.3 389.8C165.7 391.2 163.1 392.7 161.4 395.0C159.7 397.3 159.7 401.6 157.9 403.6C156.2 405.6 153.3 407.6 151.0 407.1C148.7 406.5 146.2 403.0 144.1 400.2C142.1 397.3 140.1 393.3 139.0 389.8C137.8 386.4 137.2 382.9 137.2 379.5C137.2 376.0 138.1 372.3 139.0 369.1C139.8 365.9 141.0 363.1 142.4 360.5C143.9 357.9 145.6 355.9 147.6 353.6C149.6 351.3 152.8 349.3 154.5 346.7C156.2 344.1 155.6 339.8 157.9 338.0Z" fill="#ffc8be"/><path d="M158.8 326.0C159.0 323.7 162.4 322.1 164.8 321.6C167.3 321.2 171.5 322.1 173.5 323.4C175.5 324.7 177.2 327.5 176.9 329.4C176.6 331.3 173.9 333.6 171.8 334.6C169.6 335.6 166.1 336.9 164.0 335.5C161.8 334.0 158.7 328.3 158.8 326.0Z" fill="#ffc8be"/><path d="M162.3 328.5C162.8 327.3 166.4 326.0 168.3 326.0C170.2 326.0 173.0 327.4 173.5 328.5C173.9 329.7 172.3 332.0 170.9 332.9C169.4 333.7 166.3 334.4 164.8 333.7C163.4 333.0 161.7 329.8 162.3 328.5Z" fill="#ffa898"/><path d="M101.9 312.2C102.2 310.9 105.7 309.7 107.9 309.6C110.1 309.4 113.9 310.1 114.8 311.3C115.7 312.4 114.5 315.5 113.1 316.5C111.6 317.5 108.1 318.1 106.2 317.3C104.3 316.6 101.6 313.5 101.9 312.2Z" fill="#ffc8be"/><path d="M133.8 305.3C135.1 304.5 139.5 304.2 142.4 304.4C145.3 304.5 149.9 305.3 151.0 306.1C152.2 307.0 151.0 308.8 149.3 309.6C147.6 310.3 143.1 310.5 140.7 310.4C138.2 310.3 135.8 309.9 134.7 309.1C133.5 308.2 132.5 306.0 133.8 305.3Z" fill="#ffc8be"/><path d="M200.2 307.0C201.2 305.3 205.4 303.8 208.0 303.5C210.6 303.2 214.5 303.2 215.8 305.3C217.0 307.3 217.0 313.6 215.8 315.6C214.5 317.6 210.3 317.6 208.0 317.3C205.7 317.0 203.2 315.6 201.9 313.9C200.7 312.2 199.2 308.7 200.2 307.0Z" fill="#ffc8be"/><path d="M210.4 258.7C211.4 257.4 214.6 256.7 215.6 257.8C216.6 259.0 216.9 263.7 216.5 265.6C216.0 267.4 214.2 269.0 213.0 269.0C211.9 269.0 210.0 267.3 209.6 265.6C209.1 263.8 209.4 260.0 210.4 258.7Z" fill="#dde3ff"/><path d="M252.7 346.7C253.1 344.7 256.4 342.6 257.9 343.2C259.3 343.8 260.2 348.1 261.3 350.1C262.5 352.1 263.3 353.6 264.8 355.3C266.2 357.0 268.8 358.2 269.9 360.5C271.1 362.8 272.0 366.2 271.7 369.1C271.4 372.0 269.9 375.4 268.2 377.7C266.5 380.0 263.6 381.5 261.3 382.9C259.0 384.3 256.4 386.4 254.4 386.4C252.4 386.4 249.5 384.6 249.2 382.9C249.0 381.2 251.5 378.6 252.7 376.0C253.8 373.4 255.7 370.8 256.1 367.4C256.6 363.9 255.9 358.7 255.3 355.3C254.7 351.8 252.3 348.7 252.7 346.7Z" fill="#ffe4e0"/><path d="M240.6 414.0C238.6 411.7 242.1 402.5 244.1 398.4C246.1 394.4 249.5 392.1 252.7 389.8C255.9 387.5 259.6 385.3 263.0 384.6C266.5 383.9 270.2 385.5 273.4 385.5C276.6 385.5 279.4 384.2 282.0 384.6C284.6 385.1 288.1 386.4 288.9 388.1C289.8 389.8 288.9 393.0 287.2 395.0C285.5 397.0 281.7 398.4 278.6 400.2C275.4 401.9 272.0 403.3 268.2 405.3C264.5 407.3 260.7 410.8 256.1 412.2C251.5 413.7 242.6 416.3 240.6 414.0Z" fill="#ffe4e0"/><path d="M275.1 305.3C276.0 304.0 279.7 302.8 282.0 302.7C284.3 302.5 288.1 302.8 288.9 304.4C289.8 306.0 288.5 310.6 287.2 312.2C285.9 313.7 282.9 314.2 281.2 313.9C279.4 313.6 277.9 311.9 276.8 310.4C275.8 309.0 274.3 306.5 275.1 305.3Z" fill="#ffe4e0"/><path d="M251.0 338.0C251.7 336.3 254.6 334.3 256.1 334.6C257.7 334.9 259.3 337.8 260.5 339.8C261.6 341.8 263.2 344.4 263.0 346.7C262.9 349.0 261.0 352.7 259.6 353.6C258.2 354.4 255.7 353.3 254.4 351.8C253.1 350.4 252.4 347.2 251.8 344.9C251.3 342.6 250.2 339.8 251.0 338.0Z" fill="#ffe4e0"/><path d="M379.5 293.2C380.4 290.0 383.1 287.0 385.6 284.5C388.0 282.1 391.7 279.7 394.2 278.5C396.6 277.4 399.9 275.8 400.2 277.6C400.5 279.5 397.8 286.0 395.9 289.7C394.0 293.5 391.2 296.6 389.0 300.1C386.8 303.5 384.4 309.9 383.0 310.4C381.5 311.0 381.0 306.4 380.4 303.5C379.8 300.7 378.7 296.3 379.5 293.2Z" fill="#ffe4e0"/><path d="M359.7 341.5C360.0 340.1 363.1 336.5 364.8 334.6C366.6 332.7 369.4 330.0 370.0 330.3C370.6 330.6 369.4 334.2 368.3 336.3C367.1 338.5 364.6 342.4 363.1 343.2C361.7 344.1 359.4 342.9 359.7 341.5Z" fill="#ffe4e0"/><path d="M403.7 200.0C404.7 198.0 409.3 196.5 411.4 198.3C413.6 200.0 416.6 207.8 416.6 210.4C416.6 212.9 413.3 213.8 411.4 213.8C409.6 213.8 406.7 212.7 405.4 210.4C404.1 208.1 402.7 202.0 403.7 200.0Z" fill="#ffe4e0"/><path d="M199.2 307.0C200.2 304.1 202.8 303.0 204.4 303.5C206.0 304.1 208.1 307.0 208.7 310.4C209.3 313.9 207.7 319.6 207.8 324.2C208.0 328.8 209.6 333.4 209.6 338.0C209.6 342.6 208.7 349.0 207.8 351.8C207.0 354.7 205.4 356.4 204.4 355.3C203.4 354.1 202.4 349.0 201.8 344.9C201.2 340.9 201.5 335.2 200.9 331.1C200.4 327.1 198.6 324.8 198.3 320.8C198.1 316.8 198.2 309.9 199.2 307.0Z" fill="#ffc8be"/><path d="M213.0 348.4C213.9 346.4 216.3 344.9 217.3 346.7C218.3 348.4 218.9 354.4 219.0 358.7C219.2 363.1 218.9 369.1 218.2 372.5C217.5 376.0 215.7 380.0 214.7 379.5C213.7 378.9 212.6 372.5 212.1 369.1C211.7 365.6 212.0 362.2 212.1 358.7C212.3 355.3 212.1 350.4 213.0 348.4Z" fill="#ffc8be"/><path d="M231.1 296.6C232.1 293.8 235.0 292.6 236.3 293.2C237.6 293.8 238.9 297.2 238.9 300.1C238.9 303.0 237.3 307.6 236.3 310.4C235.3 313.3 233.9 317.3 232.8 317.3C231.8 317.3 230.5 313.9 230.3 310.4C230.0 307.0 230.1 299.5 231.1 296.6Z" fill="#ffc8be"/><path d="M49.9 195.0C51.0 194.7 53.0 195.3 54.6 195.6C56.1 195.9 57.7 196.2 59.3 196.8C60.8 197.4 62.6 198.2 64.0 199.1C65.4 200.0 66.5 201.0 67.5 202.1C68.5 203.1 69.3 204.2 69.9 205.6C70.5 207.0 70.8 208.3 71.0 210.3C71.2 212.3 71.4 215.4 71.0 217.4C70.7 219.3 69.5 220.5 68.7 222.1C67.9 223.6 66.9 225.0 66.3 226.8C65.8 228.5 65.0 230.9 65.2 232.6C65.4 234.4 67.9 236.4 67.5 237.4C67.1 238.3 64.4 238.0 62.8 238.5C61.2 239.0 59.5 239.9 58.1 240.3C56.7 240.7 55.7 240.9 54.6 240.9C53.4 240.9 52.2 240.0 51.0 240.3C49.9 240.6 48.7 241.7 47.5 242.6C46.3 243.6 45.2 245.3 44.0 246.2C42.8 247.0 41.6 247.5 40.5 247.7C39.3 247.9 38.1 247.7 36.9 247.4C35.8 247.0 34.6 246.4 33.4 245.6C32.2 244.8 30.8 243.5 29.9 242.6C28.9 241.8 28.3 240.5 27.5 240.3C26.7 240.1 26.1 240.9 25.2 241.5C24.2 242.1 23.0 243.0 21.6 243.8C20.3 244.6 18.5 245.9 16.9 246.2C15.4 246.5 13.5 246.1 12.2 245.6C10.9 245.1 9.7 244.0 9.3 243.2C8.9 242.5 9.2 241.9 9.9 240.9C10.6 239.9 12.0 238.4 13.4 237.4C14.8 236.3 16.5 235.2 18.1 234.4C19.7 233.6 20.9 233.0 22.8 232.6C24.7 232.3 28.3 232.8 29.3 232.1C30.3 231.3 28.6 229.6 28.7 227.9C28.8 226.3 29.4 223.8 29.9 222.1C30.4 220.3 30.8 218.7 31.6 217.4C32.4 216.0 33.6 215.0 34.6 213.8C35.6 212.6 36.7 211.7 37.5 210.3C38.3 208.9 39.2 206.8 39.3 205.6C39.4 204.4 38.2 204.1 38.1 203.2C38.0 202.4 37.9 201.0 38.7 200.3C39.5 199.6 41.3 199.6 42.8 199.1C44.3 198.6 46.3 198.0 47.5 197.4C48.7 196.7 48.7 195.3 49.9 195.0Z" fill="#ffffff"/><path d="M76.9 229.1C77.3 227.8 80.7 226.3 82.8 225.6C85.0 224.9 87.5 225.0 89.9 225.0C92.2 225.0 94.6 225.7 96.9 225.6C99.3 225.5 102.5 224.0 104.0 224.4C105.5 224.8 106.1 226.8 105.8 227.9C105.4 229.1 103.5 230.7 101.6 231.5C99.8 232.3 96.9 232.5 94.6 232.6C92.2 232.8 89.9 232.5 87.5 232.6C85.2 232.7 82.2 233.8 80.5 233.2C78.7 232.6 76.5 230.4 76.9 229.1Z" fill="#ffffff"/><path d="M174.3 386.4C175.6 382.9 176.8 380.5 178.7 377.7C180.5 375.0 183.3 372.0 185.6 370.0C187.9 367.9 190.0 366.2 192.5 365.6C194.9 365.1 197.9 365.4 200.2 366.5C202.5 367.7 204.4 370.1 206.3 372.5C208.1 375.0 210.1 378.0 211.4 381.2C212.8 384.3 214.2 388.1 214.5 391.5C214.9 395.0 214.0 398.1 213.5 401.9C213.0 405.6 218.4 411.9 211.4 414.0C204.5 416.0 178.5 416.5 171.8 414.0C165.0 411.4 170.5 403.0 170.9 398.4C171.3 393.8 173.0 389.8 174.3 386.4Z" fill="#ffffff"/>
</g>
<use href="#coast"/><use href="#grid"/>
<circle cx="206.75" cy="207.90" r="1.3" fill="#fff"/>
</g>
<rect x="0" y="0" width="412.50" height="412.50" fill="none" stroke="#000" stroke-width="1.67"/>
</g>
<g><path d="M790.50 1478.13H832.07V1495.65L811.28 1509.09L790.50 1495.65Z" fill="#0030ff"/><rect x="790.50" y="1460.21" width="41.57" height="18.22" fill="#2449fa"/><rect x="790.50" y="1442.29" width="41.57" height="18.22" fill="#496afa"/><rect x="790.50" y="1424.37" width="41.57" height="18.22" fill="#6e88fa"/><rect x="790.50" y="1406.45" width="41.57" height="18.22" fill="#93a3fa"/><rect x="790.50" y="1388.53" width="41.57" height="18.22" fill="#b8c2fc"/><rect x="790.50" y="1370.61" width="41.57" height="18.22" fill="#dde3ff"/><rect x="790.50" y="1352.69" width="41.57" height="18.22" fill="#ffffff"/><rect x="790.50" y="1334.77" width="41.57" height="18.22" fill="#ffe4e0"/><rect x="790.50" y="1316.85" width="41.57" height="18.22" fill="#ffc8be"/><rect x="790.50" y="1298.93" width="41.57" height="18.22" fill="#ffa898"/><rect x="790.50" y="1281.01" width="41.57" height="18.22" fill="#ff8a72"/><rect x="790.50" y="1263.09" width="41.57" height="18.22" fill="#ff6a4c"/><rect x="790.50" y="1245.17" width="41.57" height="18.22" fill="#ff4a26"/><path d="M790.50 1245.47H832.07V1227.55L811.28 1213.41L790.50 1227.55Z" fill="#ff2a00"/><path d="M790.50 1226.85L811.28 1213.41L832.07 1226.85V1495.65L811.28 1509.09L790.50 1495.65Z" fill="none" stroke="#000" stroke-width="1.67" stroke-linejoin="miter"/></g>
<g>
<text x="454.97" y="77.00" font-size="38.40" textLength="364.07" lengthAdjust="spacingAndGlyphs">LHFLX ANN polar_N</text>
<text x="344.00" y="130.40" font-size="19.30" textLength="408.00" lengthAdjust="spacingAndGlyphs">alpha3_min30nc_dp1=0.01_c14=1.24 (2-6)</text>
<text x="346.00" y="151.80" font-size="19.30" textLength="74.00" lengthAdjust="spacingAndGlyphs">kg/m2/s</text>
<text x="343.99" y="626.00" font-size="19.30" textLength="306.01" lengthAdjust="spacingAndGlyphs">MERRA2 Reanalysis (1980-2016)</text>
<text x="345.00" y="647.50" font-size="19.30" textLength="59.98" lengthAdjust="spacingAndGlyphs">W m-2</text>
<text x="422.99" y="1142.00" font-size="25.20" textLength="255.01" lengthAdjust="spacingAndGlyphs">Model - Observations</text>
<text x="791.00" y="161.90" font-size="19.30" textLength="37.00" lengthAdjust="spacingAndGlyphs">Max</text>
<text x="790.96" y="184.10" font-size="19.30" textLength="50.07" lengthAdjust="spacingAndGlyphs">Mean</text>
<text x="790.93" y="206.25" font-size="19.30" textLength="32.11" lengthAdjust="spacingAndGlyphs">Min</text>
<text x="852.97" y="161.90" font-size="19.30" textLength="65.05" lengthAdjust="spacingAndGlyphs">100.26</text>
<text x="865.00" y="184.10" font-size="19.30" textLength="52.00" lengthAdjust="spacingAndGlyphs">29.36</text>
<text x="871.00" y="206.25" font-size="19.30" textLength="47.00" lengthAdjust="spacingAndGlyphs">-1.11</text>
<text x="791.00" y="656.90" font-size="19.30" textLength="37.00" lengthAdjust="spacingAndGlyphs">Max</text>
<text x="790.96" y="679.10" font-size="19.30" textLength="50.07" lengthAdjust="spacingAndGlyphs">Mean</text>
<text x="790.93" y="701.25" font-size="19.30" textLength="32.11" lengthAdjust="spacingAndGlyphs">Min</text>
<text x="852.97" y="656.90" font-size="19.30" textLength="65.05" lengthAdjust="spacingAndGlyphs">106.18</text>
<text x="865.00" y="679.10" font-size="19.30" textLength="52.00" lengthAdjust="spacingAndGlyphs">31.35</text>
<text x="871.00" y="701.25" font-size="19.30" textLength="47.00" lengthAdjust="spacingAndGlyphs">-2.57</text>
<text x="791.00" y="1151.90" font-size="19.30" textLength="37.00" lengthAdjust="spacingAndGlyphs">Max</text>
<text x="790.96" y="1174.10" font-size="19.30" textLength="50.07" lengthAdjust="spacingAndGlyphs">Mean</text>
<text x="790.93" y="1196.25" font-size="19.30" textLength="32.11" lengthAdjust="spacingAndGlyphs">Min</text>
<text x="865.00" y="1151.90" font-size="19.30" textLength="52.00" lengthAdjust="spacingAndGlyphs">37.35</text>
<text x="871.00" y="1174.10" font-size="19.30" textLength="47.00" lengthAdjust="spacingAndGlyphs">-1.99</text>
<text x="859.00" y="1196.25" font-size="19.30" textLength="58.00" lengthAdjust="spacingAndGlyphs">-36.31</text>
<text x="792.00" y="1545.60" font-size="19.30" textLength="51.00" lengthAdjust="spacingAndGlyphs">RMSE</text>
<text x="791.00" y="1567.50" font-size="19.30" textLength="54.00" lengthAdjust="spacingAndGlyphs">CORR</text>
<text x="877.00" y="1545.60" font-size="19.30" textLength="40.00" lengthAdjust="spacingAndGlyphs">7.85</text>
<text x="877.02" y="1567.50" font-size="19.30" textLength="39.98" lengthAdjust="spacingAndGlyphs">0.94</text>
<text x="846.00" y="488.80" font-size="19.30" textLength="48.00" lengthAdjust="spacingAndGlyphs">-15.0</text>
<text x="865.00" y="464.36" font-size="19.30" textLength="30.00" lengthAdjust="spacingAndGlyphs">0.0</text>
<text x="852.95" y="439.93" font-size="19.30" textLength="41.08" lengthAdjust="spacingAndGlyphs">15.0</text>
<text x="853.00" y="415.49" font-size="19.30" textLength="41.00" lengthAdjust="spacingAndGlyphs">30.0</text>
<text x="854.00" y="391.06" font-size="19.30" textLength="39.98" lengthAdjust="spacingAndGlyphs">45.0</text>
<text x="853.00" y="366.62" font-size="19.30" textLength="41.00" lengthAdjust="spacingAndGlyphs">60.0</text>
<text x="853.00" y="342.18" font-size="19.30" textLength="41.00" lengthAdjust="spacingAndGlyphs">75.0</text>
<text x="853.00" y="317.75" font-size="19.30" textLength="41.00" lengthAdjust="spacingAndGlyphs">90.0</text>
<text x="840.96" y="293.31" font-size="19.30" textLength="53.06" lengthAdjust="spacingAndGlyphs">105.0</text>
<text x="840.96" y="268.88" font-size="19.30" textLength="53.06" lengthAdjust="spacingAndGlyphs">120.0</text>
<text x="846.00" y="983.80" font-size="19.30" textLength="48.00" lengthAdjust="spacingAndGlyphs">-15.0</text>
<text x="865.00" y="959.36" font-size="19.30" textLength="30.00" lengthAdjust="spacingAndGlyphs">0.0</text>
<text x="852.95" y="934.93" font-size="19.30" textLength="41.08" lengthAdjust="spacingAndGlyphs">15.0</text>
<text x="853.00" y="910.49" font-size="19.30" textLength="41.00" lengthAdjust="spacingAndGlyphs">30.0</text>
<text x="854.00" y="886.06" font-size="19.30" textLength="39.98" lengthAdjust="spacingAndGlyphs">45.0</text>
<text x="853.00" y="861.62" font-size="19.30" textLength="41.00" lengthAdjust="spacingAndGlyphs">60.0</text>
<text x="853.00" y="837.18" font-size="19.30" textLength="41.00" lengthAdjust="spacingAndGlyphs">75.0</text>
<text x="853.00" y="812.75" font-size="19.30" textLength="41.00" lengthAdjust="spacingAndGlyphs">90.0</text>
<text x="840.96" y="788.31" font-size="19.30" textLength="53.06" lengthAdjust="spacingAndGlyphs">105.0</text>
<text x="840.96" y="763.88" font-size="19.30" textLength="53.06" lengthAdjust="spacingAndGlyphs">120.0</text>
<text x="837.00" y="1485.30" font-size="19.30" textLength="47.00" lengthAdjust="spacingAndGlyphs">-65.0</text>
<text x="837.00" y="1467.38" font-size="19.30" textLength="47.00" lengthAdjust="spacingAndGlyphs">-55.0</text>
<text x="837.00" y="1449.46" font-size="19.30" textLength="47.00" lengthAdjust="spacingAndGlyphs">-45.0</text>
<text x="837.00" y="1431.54" font-size="19.30" textLength="47.00" lengthAdjust="spacingAndGlyphs">-35.0</text>
<text x="837.00" y="1413.62" font-size="19.30" textLength="47.00" lengthAdjust="spacingAndGlyphs">-25.0</text>
<text x="837.00" y="1395.70" font-size="19.30" textLength="47.00" lengthAdjust="spacingAndGlyphs">-15.0</text>
<text x="848.00" y="1377.78" font-size="19.30" textLength="36.00" lengthAdjust="spacingAndGlyphs">-5.0</text>
<text x="855.00" y="1359.86" font-size="19.30" textLength="30.00" lengthAdjust="spacingAndGlyphs">5.0</text>
<text x="842.95" y="1341.94" font-size="19.30" textLength="41.08" lengthAdjust="spacingAndGlyphs">15.0</text>
<text x="843.00" y="1324.02" font-size="19.30" textLength="41.00" lengthAdjust="spacingAndGlyphs">25.0</text>
<text x="843.00" y="1306.10" font-size="19.30" textLength="41.00" lengthAdjust="spacingAndGlyphs">35.0</text>
<text x="844.00" y="1288.18" font-size="19.30" textLength="39.98" lengthAdjust="spacingAndGlyphs">45.0</text>
<text x="843.00" y="1270.26" font-size="19.30" textLength="41.00" lengthAdjust="spacingAndGlyphs">55.0</text>
<text x="843.00" y="1252.34" font-size="19.30" textLength="41.00" lengthAdjust="spacingAndGlyphs">65.0</text>
</g>
</svg></body></html>
